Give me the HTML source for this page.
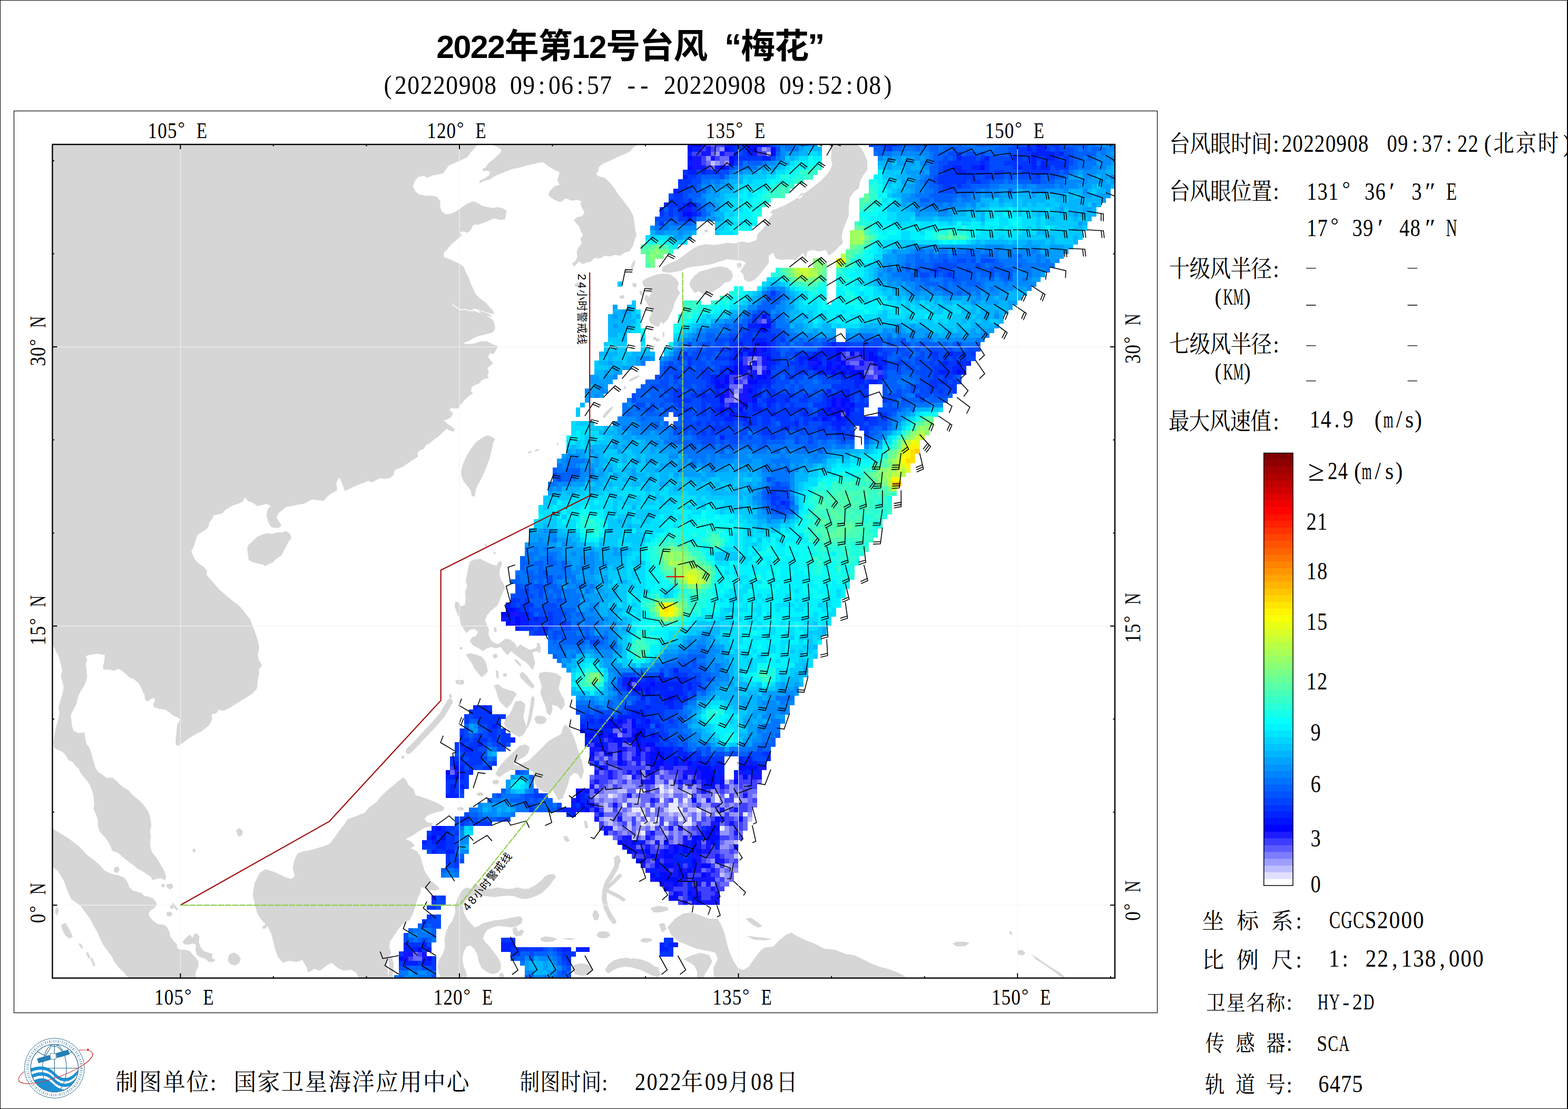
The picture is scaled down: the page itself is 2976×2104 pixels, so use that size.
<!DOCTYPE html>
<html><head><meta charset="utf-8"><title>typhoon</title>
<style>html,body{margin:0;padding:0;background:#fff}body{width:2976px;height:2104px;overflow:hidden;position:relative;font-family:"Liberation Serif",serif}
svg{position:absolute;left:0;top:0;display:block}
#bd{position:absolute;left:0;top:0;width:2976px;height:2104px;box-sizing:border-box;border:1px solid #000;border-right-width:2px;border-top-width:1.5px;pointer-events:none}
</style></head><body>
<svg width="2976" height="2104" viewBox="0 0 2976 2104">
<clipPath id="mc"><rect x="99.5" y="274.0" width="2016.5" height="1581.6"/></clipPath>
<g clip-path="url(#mc)">
<path d="M1209.7,265.4L1209.7,274.9L1201.6,280.3L1196.2,287.1L1185.3,292.5L1171.8,298L1158.2,304.7L1144.6,310.2L1136.5,316.9L1135.2,325.1L1131.1,330.5L1136.5,334.6L1147.4,337.3L1158.2,346.8L1166.3,357.6L1173.1,368.5L1179.9,376.6L1188,387.4L1196.2,398.3L1201.6,409.1L1204.3,422.7L1205.6,436.2L1208.4,445.7L1204.3,455.2L1201.6,466.1L1194.8,476.9L1185.3,479.6L1177.2,485L1166.3,483.7L1158.2,486.4L1147.4,485L1139.2,490.5L1128.4,489.1L1121.6,495.9L1112.1,498.6L1106.7,501.3L1098.6,495.9L1093.1,502.7L1087.7,501.3L1091.8,495.9L1095.8,487.7L1094.5,476.9L1098.6,468.8L1104,460.6L1101.3,452.5L1106.7,447.1L1102.6,438.9L1099.9,430.8L1093.1,422.7L1089.1,417.3L1095.8,411.8L1104,410.5L1109.4,403.7L1105.3,395.6L1101.3,387.4L1104,382L1095.8,379.3L1085,380.7L1074.2,376.6L1063.3,383.4L1052.5,379.3L1044.3,373.9L1040.3,368.5L1044.3,361.7L1052.5,353.5L1062,350.8L1057.9,341.3L1062,326.4L1052.5,322.4L1038.9,314.2L1030.8,307.4L1022.6,308.8L1011.8,311.5L998.2,314.2L984.7,318.3L971.1,321L957.6,326.4L944,331.8L935.9,335.9L930.5,340L916.9,344L910.1,348.1L910.1,342.7L919.6,338.6L927.7,333.2L930.5,326.4L925,323.7L916.9,325.1L915.5,321L922.3,316.9L926.4,310.2L933.2,304.7L941.3,298L949.4,289.8L952.1,284.4L944,279L935.9,274.9L933.2,265.4L906.1,265.4L906.1,274.9L895.2,287.1L887.1,298L873.5,304.7L860,310.2L851.8,314.2L846.4,321L841,329.1L819.3,333.2L811.2,337.3L804.4,333.2L793.5,335.9L786.8,344L784,353.5L788.1,363L794.9,368.5L808.5,371.2L820.7,371.2L830.1,373.9L835.6,382L835.6,392.9L838.3,401L846.4,406.4L857.3,405.1L865.4,401L873.5,395.6L887.1,386.1L897.9,382L906.1,384.7L914.2,390.1L925,392.9L935.9,394.2L946.7,392.9L954.9,395.6L961.6,399.6L960.3,406.4L958.9,415.9L949.4,417.3L938.6,414.5L930.5,417.3L922.3,421.3L914.2,424L906.1,426.7L900.6,425.4L896.6,429.5L893.9,436.2L887.1,441.7L878.9,438.9L873.5,441.1L876.2,447.1L868.1,453.9L860,460.6L854.5,466.1L847.8,474.2L842.3,479.6L842.3,487.7L850.5,490.5L862.7,495.9L873.5,501.3L880.3,506.7L884.4,517.6L889.8,527.1L893.9,539.3L899.3,550.1L902,556.9L911.5,566.4L922.3,574.5L930.5,584L935.9,589.4L938,596.2L930.5,594.8L916.9,590.2L903.3,586.2L895.2,585.4L906.1,592.1L919.6,597.6L930.5,603L936.4,608.4L938.6,615.2L939.9,623.3L935.9,630.1L927.7,632.8L916.9,635.5L906.1,638.2L902,640.1L889.8,646.8L878.9,650.8L887.1,653L900.6,651.4L914.2,647.3L925,648.1L935.9,653.6L945.4,656.8L941.3,664.4L935.9,672.5L930.5,669.8L926.4,676.6L930.5,683.4L935.9,688.8L930.5,694.2L925,698.3L927.7,705.1L925,711.8L927.7,717.3L921,718.6L914.2,721.3L908.8,728.1L900.6,730.8L895.2,734.9L893.9,741.7L897.9,747.1L889.8,751.2L884.4,756.6L878.9,762L873.5,768.8L870.8,774.2L862.7,775.6L857.3,772.9L853.2,778.3L860,783.7L855.9,791.8L846.4,797.3L841,795.9L849.1,804L857.3,809.5L862.7,813.5L861.3,818.9L854.5,817.6L847.8,813.5L842.3,818.9L835.6,824.4L830.1,829.8L823.4,833.9L816.6,840.6L808.5,844.7L804.4,851.5L797.6,854.2L792.2,859.6L793.5,866.4L786.8,870.5L778.6,875.9L770.5,881.3L765.1,885.4L758.3,888.1L748.8,892.1L747.4,900.3L740.7,907.1L729.8,908.4L721.7,907.1L713.6,911.1L705.4,915.2L700,912.5L699,912.5L684.6,918L668.4,924.7L654.8,931.5L650.7,920.7L644,905.8L638.5,915.2L639.9,930.2L627.7,936.9L619.6,943.7L614.1,950.5L603.3,949.1L592.4,947.8L584.3,951.8L576.2,955.9L565.3,957.3L554.5,960L543.6,961.3L535.5,968.1L528.7,973.5L524.7,981.7L530.1,989.8L534.2,996.6L530.1,1000.7L522,1002L513.8,999.3L508.4,988.5L505.7,976.2L508.4,965.4L513.8,960L505.7,955.9L497.6,958.6L488.1,960L478.6,953.2L470.4,950.5L465,943.7L461,951.8L451.5,955.9L443.3,958.6L435.2,962.7L427.1,968.1L423,973.5L413.5,976.2L405.4,977.6L402.7,984.4L397.2,991.2L395.9,999.3L390.5,1004.7L382.3,1010.1L375.5,1014.2L371.5,1023.7L368.8,1034.5L363.3,1045.4L366.1,1053.5L370.1,1061.7L378.3,1069.8L386.4,1075.2L393.2,1083.3L391.8,1090.1L399.9,1099.6L408.1,1109.1L416.2,1118.6L424.4,1125.4L433.8,1133.5L442,1140.3L451.5,1147.1L459.6,1155.2L466.4,1164.7L474.5,1174.2L478.6,1185L482.6,1195.9L486.7,1206.7L490.8,1220.3L492.1,1229.8L489.4,1240.6L490.8,1251.4L497.6,1262.3L490.8,1270.4L492.1,1278.6L489.4,1289.4L488.1,1303L484,1313.8L489.4,1300L486.7,1308.1L478.6,1316.3L467.7,1323L456.9,1329.8L446,1336.6L435.2,1343.4L424.4,1348.8L414.9,1346.6L410.8,1352.9L401.3,1355.6L402.7,1365.1L397.2,1375.9L383.7,1386.8L370.1,1393.5L359.3,1400.3L348.4,1408.5L337.6,1415.2L333.5,1412.5L333.5,1403L334.9,1389.5L336.2,1375.9L341.7,1365.1L337.6,1361L329.5,1358.3L321.3,1351.5L313.2,1346.1L302.3,1344.7L292.9,1342L290.1,1336.6L294.2,1329.8L292.9,1324.4L286.1,1325.8L280.7,1331.2L275.2,1327.1L273.9,1316.3L269.8,1308.1L265.7,1300L273.9,1320L271.2,1311.1L267.1,1303L261.7,1294.8L253.5,1288L245.4,1285.3L238.6,1278.6L231.9,1273.1L225.1,1269.1L215.6,1272.6L207.5,1270.4L196.6,1270.4L195.2,1265L198,1254.2L198.8,1242.5L185.8,1240.6L172.2,1242L162.7,1244.7L165.4,1252.8L162.7,1259.6L164.1,1270.4L165.4,1284L162.7,1294.8L158.6,1303L153.2,1313.8L157.3,1300L153.2,1310.8L147.8,1323L145.1,1335.2L139.7,1346.1L134.2,1356.9L135.6,1367.8L137,1378.6L139.7,1386.8L149.2,1390.8L160,1389.5L161.9,1400.3L164.1,1411.2L170,1419.3L173.6,1430.1L177.6,1443.7L180.3,1454.5L185.8,1464L193.9,1469.5L203.4,1476.2L212.9,1474.9L219.7,1480.3L226.4,1487.1L234.6,1493.9L244.1,1499.3L250.8,1507.4L259,1514.2L268.5,1522.3L275.2,1530.5L280.7,1538.6L284.7,1548.1L286.1,1557.6L287.4,1567.1L284.7,1576.5L286.1,1587.4L284.7,1598.2L286.1,1609.1L288.8,1617.2L295.6,1625.4L301,1633.5L306.4,1643L311.8,1652.5L315.4,1663.3L313.2,1670.1L305.1,1666L296.9,1667.4L288.8,1670.1L286.1,1663.3L277.9,1657.9L269.8,1652.5L261.7,1648.4L253.5,1641.6L245.4,1636.2L237.3,1629.4L229.1,1622.6L222.4,1617.2L212.9,1614.5L210.2,1606.4L206.1,1598.2L200.7,1590.1L193.9,1583.3L188.5,1576.5L185.8,1567.1L185.8,1554.9L181.7,1544L177.6,1535.9L179,1525L177.6,1511.5L174.9,1500.6L170.8,1489.8L165.4,1481.7L158.6,1473.5L153.2,1466.7L149.2,1458.6L142.4,1451.8L137,1445.1L130.2,1442.3L124.8,1432.9L118,1426.1L111.2,1423.4L103.1,1419.3L101.2,1408.5L103.1,1394.9L105.8,1381.3L109.8,1367.8L112.6,1354.2L111.2,1340.7L115.3,1327.1L119.3,1313.6L120.7,1320L119.3,1313.8L120.7,1303L118,1292.1L115.3,1281.3L118,1273.1L116.6,1265L113.9,1254.2L111.2,1244.7L107.1,1237.9L103.1,1229.8L99,1220.3L82.7,1220.3L60,200ZM916.9,829.8L925,825.7L933.2,828.4L939.9,833L935.9,839.3L934.5,848.8L931.8,859.6L929.1,870.5L925,881.3L919.6,894.9L914.2,907.1L908.8,916.5L903.3,927.4L902,938.2L899.3,942.3L895.2,940.9L893.9,931.5L887.1,922L880.3,913.8L876.2,904.3L874.9,894.9L877.6,884L881.7,873.2L887.1,862.3L893.9,851.5L902,840.6L910.1,833.9ZM488.1,1018.3L497.6,1014.2L505.7,1011.5L516.5,1012.9L526,1010.1L535.5,1010.1L543.6,1007.4L550.4,1012.9L553.1,1021L547.7,1027.8L543.6,1035.9L538.2,1045.4L534.2,1053.5L524.7,1060.3L517.9,1067.1L508.4,1071.1L504.3,1073.9L497.6,1071.1L486.7,1068.4L477.2,1065.7L471.8,1061.7L470.4,1050.8L469.1,1040L471.8,1033.2L478.6,1027.8ZM1193.4,721.3L1201.6,715.9L1212.4,711.8L1213.8,714.6L1204.3,720L1196.2,724ZM1143.3,790.5L1150.1,781L1160.9,771.5L1164.2,772.9L1155.5,783.7L1147.4,793.2ZM1184,733.5L1188,732.2L1187.5,737.6L1184.2,738.1ZM1002.3,856.9L1009.1,855.5L1007.7,859.6L1003.1,860.2ZM1014.5,854.2L1022.6,850.9L1021.3,855.5L1015.9,856.9ZM1056.5,840.6L1060.6,841.2L1060.1,844.7L1056.8,843.9ZM1242.3,642.7L1250.4,641.4L1253.1,646.8L1245,648.1ZM920.2,1032.6L924.5,1033.1L923.9,1036.9L920.4,1036.4ZM936.4,1047.2L940.8,1047.8L939.7,1052.1L936.7,1051ZM1090.4,539.3L1099.9,535.2L1109.4,536.5L1108,542L1098.6,544.7L1091.8,544.1ZM1086.4,498.6L1091.8,495.9L1093.1,502.7L1087.7,505.4ZM1197.5,505.4L1201.6,495.9L1205.6,493.2L1204.8,501.3L1201,510.8L1197.8,512.1ZM1258.5,518.9L1272,520.3L1282.9,528.4L1288.3,536.5L1285.6,547.4L1291,555.5L1285.6,563.7L1280.1,574.5L1277.4,585.4L1272,596.2L1266.6,607L1258.5,615.2L1254.4,609.8L1250.3,620.6L1242.2,617.9L1234,612.5L1231.3,604.3L1236.8,596.2L1234,585.4L1228.6,577.2L1223.2,566.4L1225.9,558.2L1231.3,563.7L1236.8,555.5L1228.6,547.4L1220.5,542L1219.1,533.8L1225.9,528.4L1236.8,524.3L1247.6,520.3ZM1175.8,561.5L1183.9,559.6L1185.2,565.8L1177.1,566.9ZM1200.2,536.5L1208.3,537.9L1207.5,544.7L1201,544.1ZM1213.7,551.5L1220.5,552.8L1219.1,560.9L1214.5,559.6ZM1239.5,639.6L1244.9,639L1245.4,644.5L1240,645ZM1257.9,630.1L1261.2,630.9L1260.6,640.1L1257.9,639ZM1310,533.8L1318.1,523L1328.9,514.9L1339.8,512.1L1353.3,508.1L1366.9,505.4L1380.5,508.1L1388.6,514.9L1391.3,524.3L1385.9,533.8L1375,536.5L1366.9,544.7L1356.1,551.5L1345.2,556.9L1334.4,558.2L1326.2,552.8L1318.1,555.5L1312.7,547.4L1308.6,540.6ZM1398.1,499.9L1406.2,498L1407.6,505.4L1400.8,510ZM1573,265.4L1573,274.9L1578.4,287.1L1577,300.7L1579.7,311.5L1575.7,322.4L1567.5,333.2L1556.7,344L1543.1,354.9L1529.6,364.4L1516,373.9L1502.5,382L1488.9,390.1L1482.1,392L1475.4,395.6L1465.9,398.8L1461.8,403.7L1467.2,406.4L1461.8,411.8L1456.4,422.7L1448.2,433.5L1437.4,444.4L1436,455.2L1421.1,460.6L1407.6,457.9L1394,462L1380.5,460.6L1366.9,463.3L1353.3,464.7L1339.8,463.3L1326.2,466.1L1315.4,471.5L1304.5,479.6L1293.7,487.7L1280.1,495.9L1266.6,501.3L1257.1,506.7L1255.7,514.9L1266.6,517.6L1280.1,516.2L1293.7,513.5L1304.5,508.1L1318.1,505.4L1334.4,504L1350.6,501.3L1366.9,495.9L1380.5,491.8L1394,493.2L1407.6,494.5L1415.7,498.6L1410.3,506.7L1404.9,514.9L1410.3,520.3L1413,531.1L1421.1,535.2L1432,531.1L1442.8,520.3L1450.9,509.4L1459.1,498.6L1459.1,485L1467.2,479.6L1472.6,490.5L1483.5,493.2L1497,491.8L1510.6,493.2L1516,487.7L1524.2,479.6L1529.6,490.5L1532.3,476.9L1543.1,474.2L1554,476.9L1567.5,474.2L1573,485L1583.8,476.9L1594.6,466.1L1600.1,460.6L1597.4,449.8L1600.1,436.2L1605.5,422.7L1610.9,409.1L1610.9,390.1L1613.6,373.9L1621.8,363L1629.9,357.6L1632.6,344L1638,333.2L1646.2,322.4L1646.2,306.1L1640.7,292.5L1635.3,281.7L1627.2,274.9L1627.2,265.4ZM1514.7,373.9L1520.1,367.1L1525.5,365.7L1522.8,372.5L1517.4,377.9ZM1337.1,435.7L1343,434.9L1343.6,440.3L1337.6,441.1ZM891.7,1065.3L900.9,1061.4L911.3,1060.1L921.8,1065.3L932.2,1070.6L942.7,1073.2L945.3,1066.6L950.5,1064L953.1,1070.6L949.2,1078.4L947.9,1088.9L950.5,1099.3L955.7,1107.1L958.4,1115L954.4,1124.1L950.5,1133.3L947.9,1141.1L944,1149L937.5,1154.2L930.9,1159.4L924.4,1167.2L920.5,1177.7L924.4,1185.5L928.3,1194.7L927,1203.8L930.9,1213L937.5,1219.5L945.3,1222.1L953.1,1216.9L958.4,1211.7L967.5,1213L976.7,1219.5L981.9,1228.7L987.1,1222.1L994.9,1227.4L1005.4,1232.6L1015.9,1230L1023.7,1222.1L1026.3,1230L1025,1239.1L1018.5,1235.2L1010.6,1237.8L1013.2,1248.3L1015.9,1258.7L1010.6,1271.8L1005.4,1263.9L997.6,1256.1L989.7,1250.9L979.3,1243L970.1,1235.2L963.6,1243L955.7,1235.2L950.5,1227.4L940.1,1230L932.2,1227.4L924.4,1230L916.6,1235.2L908.7,1230L898.3,1224.7L891.7,1216.9L895.6,1209.1L903.5,1206.4L907.4,1198.6L900.9,1193.4L891.7,1194.7L885.2,1201.2L880,1193.4L874.7,1185.5L872.1,1172.5L866.9,1162L863,1151.6L864.3,1141.1L869.5,1142.4L874.7,1150.3L882.6,1147.6L883.9,1135.9L882.6,1122.8L886.5,1112.4L883.9,1101.9L886.5,1088.9L889.1,1075.8ZM883.9,1241.7L893,1239.1L903.5,1241.7L913.9,1245.6L920.5,1253.5L924.4,1263.9L925.7,1274.4L919.2,1280.9L913.9,1284.8L907.4,1277L900.9,1269.2L895.6,1258.7L889.1,1249.6ZM935.4,1241.7L942.2,1239.9L944.8,1245.6L940.1,1249.6L935.9,1247.7ZM985.8,1278.3L992.3,1274.4L1000.2,1282.2L1008,1292.7L1014.5,1300.5L1011.9,1307.1L1002.8,1300.5L994.9,1292.7L988.4,1286.1ZM1023.7,1277L1034.1,1274.4L1047.2,1275.7L1057.7,1278.3L1065.5,1284.8L1062.9,1295.3L1060.3,1305.7L1064.2,1316.2L1070.7,1326.7L1072,1337.1L1065.5,1347.6L1057.7,1339.7L1047.2,1337.1L1036.8,1330.1L1034.1,1318.8L1028.9,1308.4L1026.3,1295.3L1022.4,1284.8ZM940.6,1271.8L945.3,1273.1L946.9,1286.1L942.7,1287.5ZM954.4,1278.3L961,1277L962.3,1282.8L955.7,1284.3ZM975.3,1252.2L979.8,1250.9L989.7,1261.3L987.1,1264.5ZM1018.5,1220.8L1024.2,1219.5L1026.3,1230L1021.1,1233.9ZM936.9,1190.8L942.2,1190.2L942.7,1198.6L938,1199.1ZM872.1,1227.9L877.9,1227.4L877.4,1232.1L872.6,1232.6ZM937.4,1300.8L945.5,1298.1L953.7,1304.9L964.5,1309L975.4,1311.7L980.8,1317.1L975.4,1325.2L969.9,1336.1L961.8,1344.2L956.4,1338.8L948.2,1330.7L944.2,1319.8L941.5,1310.3ZM978.1,1330.7L988.9,1329.3L997,1336.1L995.7,1346.9L993,1360.5L997,1371.3L999.8,1382.2L994.3,1393L986.2,1398.5L975.4,1393L964.5,1384.9L956.4,1374L959.1,1363.2L967.2,1355.1L972.6,1344.2ZM1010.6,1319.8L1014.7,1325.2L1013.3,1338.8L1010.6,1352.4L1007.9,1365.9L1002.5,1379.5L998.4,1382.2L1001.1,1368.6L1003.8,1355.1L1006.5,1338.8L1007.9,1325.2ZM1013.3,1363.2L1018.7,1358.3L1028.2,1357.8L1037.2,1362.7L1036.4,1370L1028.2,1374L1018.7,1372.7ZM1026.9,1306.3L1035,1309L1043.1,1319.8L1047.2,1333.4L1048.6,1346.9L1044.5,1357.8L1037.7,1352.4L1035,1338.8L1029.6,1325.2L1025.5,1315.8ZM852,1317.1L856.6,1316.6L857.4,1324.7L852.8,1325.2ZM864.2,1290L880.5,1290L881,1297.6L872.3,1299.5L865.5,1296.8ZM761.7,1434.2L767.1,1433.7L766.6,1439.7L762.2,1439.1ZM940.1,1468.9L945.5,1458.1L953.7,1447.3L961.8,1439.1L969.9,1431L978.1,1422.9L986.2,1414.7L997,1412L1005.2,1417.4L1002.5,1428.3L994.3,1436.4L983.5,1441.8L975.4,1450L983.5,1452.7L994.3,1447.3L1005.2,1441.8L1016,1431L1029.6,1417.4L1040.4,1406.6L1054,1398.5L1064.8,1393L1068.9,1379.5L1073,1374L1081.1,1382.2L1089.2,1398.5L1094.6,1414.7L1100.1,1431L1105.5,1447.3L1108.2,1463.5L1102.8,1479.8L1097.4,1468.9L1089.2,1466.2L1081.1,1474.4L1078.4,1487.9L1073,1501.5L1067.5,1515L1059.4,1517.7L1054,1506.9L1048.6,1498.8L1040.4,1504.2L1029.6,1501.5L1018.7,1493.3L1013.3,1479.8L1012,1463.5L1002.5,1460.8L986.2,1462.2L969.9,1460.8L959.1,1466.2L948.2,1474.4ZM934.7,1481.1L944.2,1479.2L948.2,1483.9L941.5,1488.5L935.2,1486.6ZM903.5,1505.5L911.6,1502.8L918.4,1505.5L917.1,1509.6L907.6,1510.2ZM866.9,1532.7L875,1530.8L880.5,1533.5L879.1,1537.3L869.6,1537.3ZM1069.7,1585.5L1077,1586.9L1081.1,1595L1075.7,1597.7L1070.8,1593.1ZM1108.2,1557.1L1114.2,1558.4L1116.3,1570.6L1110.9,1572ZM1165.1,1626.2L1174.6,1624.8L1178.7,1634.3L1173.3,1642.5L1166.5,1638.4ZM484.4,1719.4L479.6,1697.2L483.3,1675L492.6,1656.5L503.7,1649.1L522.2,1654.7L540.7,1663.9L553.6,1667.6L559.2,1662.1L555.5,1645.4L559.2,1630.6L564.7,1619.5L574,1615.8L592.5,1612.1L611,1606.5L625.8,1601L636.9,1586.2L644.3,1575.1L653.6,1564L659.1,1554.7L674,1549.1L692.5,1541.7L699.9,1532.5L707.3,1526.9L714.7,1521.4L722.1,1512.1L733.2,1501L744.3,1491.8L755.4,1482.5L764.7,1475.1L770.2,1478.8L775.8,1489.9L785,1497.3L788.7,1508.4L799.8,1512.1L810.9,1515.8L825.7,1521.4L836.8,1526.9L843.5,1532.5L840.5,1538L825.7,1541.7L814.6,1545.4L805.4,1552.8L810.9,1560.3L822,1562.1L818.3,1567.7L803.5,1571.4L792.4,1578.8L781.3,1586.2L770.2,1591.7L781.3,1597.3L786.9,1604.7L779.5,1609.1L792.4,1615.8L798,1625L801.7,1638L805.4,1651L810.9,1660.2L818.3,1671.3L829.4,1680.6L835,1686.1L825.7,1689.8L810.9,1688L799.8,1682.4L798,1693.5L792.4,1704.6L788.7,1719.4L783.2,1734.3L777.6,1745.4L764.7,1752.8L755.4,1763.9L748,1775L740.6,1786.1L738.7,1797.2L742.4,1806.4L737.6,1815.7L735,1830.5L736.1,1845.3L738.7,1855.7L746.1,1855.7L748,1867.5L681.4,1867.5L681.4,1855.7L675.8,1845.3L666.6,1839.8L651.7,1841.6L640.6,1836.1L629.5,1826.8L622.1,1830.5L607.3,1841.6L596.2,1837.9L585.1,1845.3L581.4,1834.2L574,1821.2L562.9,1825L548.1,1823.1L537,1826.8L527.7,1815.7L522.2,1800.9L518.5,1786.1L514.8,1771.3L507.4,1756.5L496.3,1745.4L488.9,1734.3ZM88.5,1571.8L99,1571.8L114.7,1580.9L133,1592.7L151.3,1607L163,1620.1L174.8,1629.3L187.9,1639.7L198.3,1651.5L211.4,1658L224.4,1660.6L234.9,1664.5L241.4,1672.4L245.3,1682.8L251.9,1689.4L261,1692L268.9,1694.6L274.1,1699.8L281.9,1701.1L291.1,1705L296.3,1711.6L297.6,1717.3L292.4,1723.3L285.8,1727.2L281.9,1732.5L284.5,1740.3L292.4,1748.2L300.2,1753.4L308.1,1753.4L315.9,1757.3L321.1,1766.4L323.7,1776.9L329,1784.7L335.5,1791.3L336.8,1799.1L342,1801.7L349.9,1801.7L360.3,1804.3L365.6,1810.9L372.1,1817.4L377.3,1825.2L376,1834.4L372.1,1842.2L370.8,1850.1L373.4,1860.5L244,1860.5L244,1855.6L234.9,1844.8L224.4,1834.4L216.6,1823.9L211.4,1813.5L203.5,1803L195.7,1792.6L190.5,1782.1L185.2,1769.1L177.4,1756L170.9,1742.9L163,1732.5L155.2,1722L151.3,1717.3L143.4,1711.6L135.6,1706.3L130.4,1695.9L125.1,1682.8L121.2,1669.8L117.3,1659.3L109.5,1651.5L101.6,1646.2L88.5,1643.6ZM88.2,1572.5L99,1573.8L107.1,1577.9L115.3,1584.7L124.8,1592.8L134.2,1599.6L145.1,1607.7L154.6,1614.5L162.7,1622.6L170.8,1629.4L180.3,1636.2L189.8,1643L195.2,1649.8L202,1657.9L212.9,1666L218.3,1679.6L188.5,1706.7L126.1,1679.6L109.8,1652.5L99,1644.3L88.2,1644.3ZM216.9,1645.7L224.3,1643.8L227,1651.1L222.4,1656.5L216.1,1653.8ZM116,1754.7L123.8,1750.8L129.1,1758.6L134.3,1769.1L138.2,1776.9L131.7,1780.8L123.8,1774.3L118.6,1765.1ZM148.7,1790L152.6,1789.4L157.8,1797.8L154.4,1799.9ZM163,1807L167.5,1807L171.6,1817.4L167.5,1818.2ZM170.9,1817.4L175.3,1817.4L181.3,1831.8L177.4,1833.1ZM104.2,1729.9L108.1,1719.4L111.5,1727.2L108.1,1737.7ZM346,1787.4L353.8,1778.2L360.3,1773L365.6,1779.5L368.2,1773L373.4,1770.4L378.6,1776.9L377.3,1787.4L381.2,1797.8L386.5,1804.3L394.3,1807L403.4,1809.6L402.1,1817.4L408.7,1821.3L404.7,1825.2L396.9,1825.2L389.1,1818.7L379.9,1816.1L373.4,1810.9L370.8,1801.7L372.1,1792.6L365.6,1790L357.7,1792.6L349.9,1791.3ZM434.8,1810.9L443.9,1807L453.1,1812.2L457,1820L453.1,1827.9L446.6,1831.8L437.4,1829.2L432.2,1822.6ZM315.9,1731.2L322.4,1729.3L327.7,1733.8L323.7,1739L317.2,1737.7ZM322.4,1719.4L329,1712.9L338.1,1724.6L335.5,1727.2L330.3,1722L324.3,1725.2ZM305.4,1678.9L310.7,1676.3L313.3,1681.5L308.1,1684.1ZM315.9,1677.6L326.4,1676.3L329,1682.8L323.7,1688L317.2,1684.1ZM447.9,1575.7L454.4,1570.5L460.9,1577L459.6,1584.8L453.1,1587.4L450.5,1582.2ZM365.6,1611L370.3,1610.2L370.8,1616.2L366.6,1617.5ZM497.5,1758.6L502.7,1753.9L508,1754.7L505.4,1760.7L499.3,1762.5ZM866.9,1709.8L870.8,1699.3L877.4,1688.9L885.2,1683.6L894.3,1686.2L900.9,1675.8L908.7,1681L919.2,1684.9L932.2,1686.2L945.3,1683.6L958.4,1686.2L971.4,1686.2L981.9,1683.6L992.3,1686.2L1002.8,1686.2L1013.2,1681L1021.1,1675.8L1028.9,1669.3L1034.1,1662.7L1042,1658.8L1052.4,1658.8L1055.1,1664L1049.8,1670.6L1044.6,1678.4L1036.8,1686.2L1028.9,1694.1L1018.5,1699.3L1008,1703.2L997.6,1705.8L987.1,1704.5L976.7,1700.6L963.6,1699.3L950.5,1700.6L937.5,1701.9L924.4,1700.6L911.3,1699.3L900.9,1698L890.4,1701.9L882.6,1709.8L878.7,1720.2L880,1730.7L885.2,1741.1L893,1751.6L900.9,1759.4L908.7,1756.8L916.6,1751.6L927,1749L937.5,1746.3L950.5,1745L963.6,1742.4L976.7,1739.8L987.1,1738.5L992.3,1743.7L989.7,1751.6L981.9,1756.8L971.4,1759.4L958.4,1758.1L945.3,1756.8L934.8,1759.4L924.4,1764.6L919.2,1772.5L916.6,1780.3L921.8,1788.2L929.6,1796L937.5,1806.4L945.3,1816.9L950.5,1827.4L950.5,1837.8L945.3,1845.6L934.8,1848.3L924.4,1844.3L913.9,1836.5L908.7,1824.7L906.1,1811.7L900.9,1801.2L893,1793.4L885.2,1796L880,1806.4L877.4,1819.5L880,1832.6L885.2,1845.6L887.8,1861.3L838.2,1861.3L832.9,1845.6L830.3,1835.2L832.9,1822.1L840.8,1809.1L844.7,1796L843.4,1782.9L846,1769.9L851.2,1756.8L859.1,1746.3L864.3,1730.7L863,1717.6ZM972.7,1762L979.3,1758.1L983.2,1767.2L989.7,1763.3L994.9,1767.2L989.7,1775.1L979.3,1776.4L974,1771.2ZM1025,1780.3L1034.1,1776.4L1047.2,1777.7L1057.7,1781.6L1049.8,1786.1L1036.8,1787.6L1027.6,1785.5ZM1065.5,1780.3L1081.2,1779.8L1094.3,1781.6L1081.2,1783.4ZM1083.8,1839.1L1089,1831.3L1099.5,1827.4L1112.5,1828.7L1123,1833.9L1125.6,1841.7L1117.8,1849.6L1104.7,1851.4L1091.6,1848.3ZM1147.8,1840.4L1154.4,1830L1164.8,1822.1L1177.9,1818.2L1190.9,1816.9L1204,1820.8L1217.1,1826L1230.1,1830L1250,1835.2L1250,1845.6L1238,1844.3L1224.9,1841.7L1211.8,1839.1L1198.8,1835.2L1185.7,1833.9L1172.6,1836.5L1162.2,1841.7L1154.4,1847ZM1132.1,1773L1137.4,1767.8L1146.5,1766.5L1155.7,1769.3L1158.3,1774.6L1151.7,1779.8L1141.3,1780.3L1134.8,1777.7ZM1124.3,1735.9L1128.2,1726.7L1133.4,1728L1137.4,1737.2L1134.8,1745L1128.2,1746.3ZM947.9,1847L954.4,1845.6L958.4,1857.4L950.5,1861.3L947.4,1857.4ZM736.2,1816.9L744.1,1814.3L747.2,1830L745.4,1855.6L737.5,1855.6L738.9,1835.2ZM1266.8,1759.2L1281,1743L1297.2,1732.9L1313.4,1730.9L1329.6,1737L1345.8,1743L1362,1743L1368.1,1753.2L1374.2,1767.3L1378.2,1783.5L1382.3,1799.7L1390.4,1820L1400.5,1836.2L1410.6,1840.2L1420.8,1834.2L1430.9,1820L1443,1803.8L1451.1,1797.7L1467.3,1795.7L1479.5,1783.5L1491.6,1773.4L1501.8,1769.4L1511.9,1775.4L1528.1,1783.5L1544.3,1789.6L1564.5,1799.7L1584.8,1801.8L1605.1,1809.9L1621.3,1811.9L1637.5,1820L1653.7,1828.1L1669.9,1834.2L1686.1,1838.2L1702.3,1844.3L1714.4,1850.4L1722.5,1855.6L1726.6,1864.5L1355.9,1864.5L1353.9,1836.2L1362,1820L1358,1807.8L1341.8,1803.8L1321.5,1799.7L1301.3,1791.6L1287.1,1785.6L1274.9,1775.4ZM1297.2,1820L1313.4,1811.9L1329.6,1807.8L1345.8,1811.9L1351.9,1824L1345.8,1836.2L1337.7,1848.3L1333.7,1864.5L1321.5,1864.5L1323.5,1844.3L1317.5,1832.1L1305.3,1824ZM1200,1818L1216.2,1820L1232.4,1826.1L1246.6,1836.2L1254.7,1848.3L1248.6,1854.4L1232.4,1848.3L1216.2,1840.2L1200,1834.2ZM1215,1783.5L1222.3,1779.5L1234.4,1780.3L1238.5,1784.3L1228.4,1788.4L1218.2,1787.6ZM1234.4,1722.8L1248.6,1718.7L1266.8,1720.8L1268.9,1726.8L1252.7,1730.9L1240.5,1730.9ZM1250.6,1753.2L1260.8,1751.1L1264.8,1763.3L1256.7,1769.4ZM1414.7,1743L1424.8,1741L1437,1749.1L1447.1,1757.2L1439,1760L1426.8,1753.2ZM1416.7,1775.4L1434.9,1777.5L1453.2,1779.5L1465.3,1781.5L1451.1,1784.3L1430.9,1782.7ZM1807.6,1790L1815.7,1786.8L1831.9,1786.8L1840,1789.2L1831.9,1794.9L1815.7,1795.7ZM1931.1,1803.8L1939.2,1801.8L1946.1,1807.8L1941.2,1812.7L1932.3,1811.1ZM1957.4,1809.9L1969.6,1818L1989.9,1832.1L2010.1,1844.3L2022.3,1854.4L2016.2,1855.6L2002,1844.3L1981.8,1830.1L1965.5,1820ZM1914.9,1766.5L1920.2,1768.1L1921.8,1773.8L1916.9,1772.2Z" fill="#d6d6d6" fill-rule="nonzero"/>
<path d="M775.3,1425L791,1409.3L807.3,1391.7L823.5,1374.6L839.8,1355.6L853.9,1331.2" fill="none" stroke="#d6d6d6" stroke-width="11" stroke-linecap="round" stroke-linejoin="round"/>
<path d="M1172.1,1627.4L1170,1644.4L1162.2,1658.8L1153,1673.2L1147.8,1688.9L1146.5,1704.5L1150.4,1722.8L1158.3,1738.5L1165.3,1748.4" fill="none" stroke="#d6d6d6" stroke-width="9" stroke-linecap="round" stroke-linejoin="round"/>
<path d="M1153,1683.6L1162.2,1675.8L1172.6,1665.3L1176.6,1661.4" fill="none" stroke="#d6d6d6" stroke-width="7" stroke-linecap="round" stroke-linejoin="round"/>
<path d="M1153,1690.2L1163.5,1695.4L1174,1700.6L1183.1,1706.6" fill="none" stroke="#d6d6d6" stroke-width="7" stroke-linecap="round" stroke-linejoin="round"/>
<path d="M937.2,602.2L925,597.6L911.5,592.1L900.6,589.4L889.8,589.4L881.7,586.7L873.5,588.1L865.4,582.6L858.6,577.2" fill="none" stroke="#fff" stroke-width="1.6"/>
<path d="M908.8,588.9L925,594.3L935.3,601.1L922.3,598.9L911.5,593.5Z" fill="#d6d6d6"/>
<g transform="translate(660.16,203.51) scale(8.82675)" shape-rendering="crispEdges" fill="none" stroke-width="1.04">
<path stroke="#1060ff" d="M10 187h9M38 187h10M11 186h8M38 186h10M11 185h8M38 185h10M11 184h8M37 184h11M11 183h8M35 183h13M11 182h6M35 182h14M67 182h3M12 181h6M33 181h15M49 181h3M67 181h3M12 180h6M33 180h3M67 180h4M12 179h7M33 179h3M68 179h2M12 178h7M13 177h6M15 176h5M16 175h4M17 174h3M17 172h3M18 171h3M71 171h9M18 170h3M69 170h11M69 169h11M68 168h13M67 167h15M65 166h18M20 165h4M65 165h18M20 164h4M64 164h20M21 163h3M63 163h21M21 162h4M62 162h22M21 161h4M61 161h23M17 160h9M60 160h24M16 159h10M59 159h25M16 158h10M58 158h26M17 157h9M57 157h28M17 156h10M55 156h30M18 155h9M54 155h32M23 154h8M54 154h32M23 153h12M53 153h34M25 152h11M47 152h2M53 152h34M26 151h61M28 150h18M48 150h40M30 149h14M48 149h40M21 148h4M31 148h12M49 148h39M21 147h4M33 147h8M49 147h39M21 146h5M34 146h6M52 146h36M21 145h5M34 145h6M52 145h37M21 144h5M35 144h5M52 144h29M83 144h6M21 143h6M36 143h3M53 143h28M83 143h6M22 142h9M53 142h28M84 142h6M22 141h10M52 141h29M84 141h6M22 140h10M52 140h29M84 140h7M23 139h9M52 139h39M23 138h11M52 138h39M23 137h12M51 137h41M24 136h12M51 136h41M24 135h11M51 135h42M24 134h10M50 134h43M25 133h8M50 133h43M25 132h8M50 132h44M25 131h9M50 131h44M26 130h5M49 130h46M27 129h4M49 129h46M49 128h47M49 127h47M48 126h49M48 125h49M48 124h50M48 123h50M48 122h51M47 121h52M46 120h54M45 119h55M44 118h57M43 117h58M43 116h58M43 115h59M43 114h59M39 113h64M36 112h67M34 111h70M33 110h71M33 109h72M34 108h71M34 107h72M35 106h71M35 105h72M36 104h71M36 103h72M35 102h73M36 101h73M36 100h73M37 99h72M37 98h73M37 97h73M38 96h73M38 95h74M38 94h74M39 93h74M39 92h75M39 91h75M40 90h75M40 89h75M41 88h75M41 87h76M41 86h76M42 85h75M42 84h75M43 83h75M43 82h75M43 81h76M44 80h75M44 79h76M44 78h77M45 77h76M45 76h77M46 75h76M47 74h76M47 73h62M111 73h12M47 72h62M111 72h12M47 71h62M111 71h13M48 70h61M111 70h14M48 69h61M110 69h15M48 68h5M57 68h12M70 68h56M58 67h10M71 67h55M49 66h1M59 66h10M70 66h41M114 66h13M49 65h1M59 65h52M114 65h14M50 64h1M59 64h53M115 64h13M51 63h1M60 63h52M115 63h14M51 62h4M61 62h51M115 62h15M51 61h5M62 61h50M115 61h16M52 60h4M63 60h49M115 60h16M52 59h5M64 59h68M52 58h6M66 58h66M53 57h6M67 57h66M53 56h8M67 56h66M53 55h11M67 55h67M54 54h12M67 54h68M54 53h12M68 53h67M55 52h5M63 52h2M68 52h68M55 51h5M63 51h1M69 51h67M56 50h4M63 50h1M70 50h35M107 50h30M56 49h4M63 49h1M70 49h35M107 49h31M56 48h8M70 48h35M107 48h32M56 47h7M70 47h70M56 46h7M71 46h70M56 45h7M71 45h70M57 44h6M72 44h70M57 43h1M60 43h2M72 43h71M61 42h1M72 42h4M78 42h25M104 42h40M80 41h23M105 41h40M82 40h21M105 40h41M83 39h2M88 39h15M105 39h42M58 38h1M89 38h14M105 38h43M90 37h13M105 37h44M91 36h12M105 36h45M92 35h11M105 35h46M64 34h2M100 34h3M105 34h47M64 33h2M100 33h2M105 33h48M64 32h4M106 32h48M63 31h7M107 31h48M63 30h8M108 30h48M64 29h9M108 29h49M64 28h10M108 28h50M65 27h10M79 27h5M108 27h50M65 26h10M79 26h8M109 26h50M66 25h9M79 25h9M109 25h50M66 24h22M110 24h50M67 23h22M110 23h51M67 22h22M110 22h51M68 21h22M110 21h52M69 20h22M110 20h53M69 19h25M111 19h53M70 18h25M112 18h52M71 17h25M112 17h53M71 16h27M112 16h54M72 15h28M113 15h54M72 14h29M114 14h53M73 13h29M114 13h54M73 12h29M114 12h54M73 11h29M114 11h55M73 10h29M113 10h56M73 9h29M113 9h57M73 8h28M112 8h59M73 7h28M112 7h59M73 6h29M111 6h61"/>
<path stroke="#eaeaff" d="M63 156h1M80 155h1M63 154h1M65 154h1M68 154h1M72 154h2M64 153h1M66 153h1M71 153h1M73 153h1M63 152h1M85 152h1M61 151h2M65 151h1M69 151h3M75 151h1M59 150h1M69 150h2M67 149h1M70 149h1M72 149h1M79 149h1M83 149h1M56 148h1M73 148h1M79 148h1M81 148h1M62 147h2M67 147h1M69 147h1M67 146h1"/>
<path stroke="#bfbfff" d="M80 165h1M81 163h1M83 161h1M83 158h1M61 157h1M62 156h1M68 156h1M57 155h1M60 155h1M65 155h1M56 154h1M60 154h1M64 154h1M66 154h1M55 153h2M62 153h1M75 153h1M86 153h1M60 152h2M69 152h1M71 152h2M75 152h1M77 152h1M79 152h1M55 151h2M63 151h1M68 151h1M73 151h2M77 151h1M55 150h1M64 150h1M72 150h1M60 149h3M76 149h1M53 148h1M57 148h1M67 148h1M69 148h1M58 147h2M68 147h1M72 147h2M66 146h1M69 146h1M72 146h1M69 145h1M81 145h1M60 144h1M83 62h1M78 12h1M90 10h1"/>
<path stroke="#9595ff" d="M78 167h1M81 166h1M81 165h1M80 164h1M82 164h2M79 163h1M82 163h1M78 162h1M80 159h2M65 158h1M67 158h1M70 158h1M81 158h2M63 157h1M66 157h2M70 157h1M59 156h1M70 156h1M72 156h1M80 156h2M58 155h1M62 155h2M67 155h1M70 155h1M72 155h1M81 155h1M55 154h1M57 154h1M62 154h1M71 154h1M74 154h1M54 153h1M59 153h2M65 153h1M68 153h2M72 153h1M59 152h1M62 152h1M65 152h1M67 152h2M70 152h1M73 152h1M80 152h1M82 152h2M86 152h1M58 151h1M60 151h1M76 151h1M78 151h1M81 151h1M54 150h1M61 150h2M66 150h2M71 150h1M73 150h1M76 150h2M80 150h1M82 150h1M53 149h1M55 149h2M58 149h1M73 149h1M75 149h1M78 149h1M80 149h1M84 149h2M54 148h2M58 148h1M61 148h1M66 148h1M68 148h1M72 148h1M75 148h1M78 148h1M83 148h1M87 148h1M55 147h3M65 147h1M70 147h2M74 147h1M78 147h1M82 147h1M53 146h1M56 146h1M59 146h3M68 146h1M70 146h1M74 146h1M82 146h1M57 145h1M60 145h1M66 145h2M59 144h1M63 144h1M66 144h1M63 143h1M67 143h1M55 140h1M58 135h1M83 63h1M83 61h1M84 60h1M88 57h1M112 57h1M88 56h1M86 55h1M87 54h1M79 12h1M81 12h1M77 11h1M79 10h1M80 9h1M89 9h1"/>
<path stroke="#6a6aff" d="M14 183h2M14 182h1M73 171h1M71 170h1M76 167h1M80 167h2M79 166h1M82 166h1M82 165h1M76 164h1M81 164h1M64 163h1M83 163h1M65 162h1M77 162h1M82 162h1M81 161h2M80 160h2M83 160h1M62 159h1M66 159h2M82 159h1M64 158h1M69 158h1M71 158h1M76 158h1M80 158h1M57 157h1M62 157h1M68 157h1M71 157h1M73 157h1M82 157h1M56 156h1M58 156h1M60 156h2M66 156h2M69 156h1M71 156h1M73 156h2M82 156h1M84 156h1M59 155h1M61 155h1M64 155h1M68 155h1M73 155h1M82 155h1M85 155h1M58 154h1M69 154h1M76 154h2M80 154h1M85 154h1M57 153h1M63 153h1M70 153h1M74 153h1M77 153h1M83 153h1M85 153h1M55 152h3M64 152h1M66 152h1M74 152h1M76 152h1M78 152h1M59 151h1M64 151h1M66 151h2M72 151h1M79 151h1M86 151h1M56 150h1M58 150h1M63 150h1M68 150h1M74 150h1M81 150h1M83 150h1M86 150h2M54 149h1M57 149h1M59 149h1M63 149h2M68 149h1M71 149h1M86 149h1M52 148h1M59 148h1M62 148h4M70 148h2M76 148h2M80 148h1M84 148h1M86 148h1M52 147h1M54 147h1M60 147h2M66 147h1M79 147h1M81 147h1M83 147h2M86 147h2M55 146h1M58 146h1M62 146h2M65 146h1M75 146h1M79 146h1M83 146h1M85 146h1M56 145h1M58 145h1M61 145h2M82 145h1M88 145h1M52 144h1M58 144h1M68 144h3M73 144h1M22 143h1M54 143h1M58 143h1M68 143h1M56 142h2M64 142h1M54 141h1M61 141h1M63 141h1M53 140h1M57 140h1M60 140h1M54 139h1M57 139h1M60 139h1M59 137h2M57 134h2M61 124h1M106 66h1M81 63h2M82 60h2M85 59h1M84 58h1M113 58h1M111 57h1M87 56h1M112 56h1M88 55h1M108 55h2M86 54h1M88 54h1M107 53h1M89 46h1M78 13h1M77 12h1M80 12h1M80 11h2M78 10h1M79 9h1M90 9h1M78 8h1M78 6h1"/>
<path stroke="#4040ff" d="M13 183h1M15 182h1M71 171h1M72 170h1M76 170h2M69 169h1M72 169h1M76 169h3M70 168h3M75 168h3M79 168h2M72 167h1M74 167h1M79 167h1M73 166h1M80 166h1M73 165h3M78 165h2M69 164h1M77 164h1M79 164h1M65 163h1M72 163h1M78 163h1M80 163h1M64 162h1M67 162h1M76 162h1M81 162h1M83 162h1M61 161h3M76 161h3M80 161h1M65 160h2M78 160h2M82 160h1M63 159h1M65 159h1M68 159h1M76 159h1M78 159h1M58 157h1M65 157h1M69 157h1M80 157h2M83 157h2M57 156h1M64 156h1M75 156h1M54 155h1M66 155h1M74 155h2M83 155h2M54 154h1M59 154h1M61 154h1M67 154h1M70 154h1M75 154h1M81 154h1M83 154h2M61 153h1M67 153h1M76 153h1M78 153h1M81 153h2M53 152h1M58 152h1M81 152h1M84 152h1M52 151h1M54 151h1M57 151h1M82 151h1M84 151h2M53 150h1M60 150h1M65 150h1M75 150h1M78 150h2M84 150h2M52 149h1M66 149h1M69 149h1M81 149h2M87 149h1M74 148h1M82 148h1M64 147h1M75 147h1M77 147h1M80 147h1M85 147h1M54 146h1M57 146h1M64 146h1M71 146h1M73 146h1M81 146h1M84 146h1M86 146h2M52 145h1M54 145h2M59 145h1M68 145h1M70 145h1M72 145h2M75 145h1M84 145h4M53 144h3M57 144h1M62 144h1M64 144h1M67 144h1M71 144h1M74 144h1M84 144h1M86 144h1M55 143h1M57 143h1M59 143h1M61 143h1M66 143h1M69 143h3M22 142h1M53 142h1M58 142h6M67 142h1M70 142h3M52 141h1M55 141h3M60 141h1M54 140h1M56 140h1M59 140h1M63 140h1M53 139h1M59 139h1M61 139h1M63 139h1M56 138h2M60 138h2M64 138h1M52 137h1M56 137h2M55 136h1M59 135h2M60 134h1M59 133h2M60 132h1M81 64h1M82 62h1M82 61h1M84 61h1M82 59h1M84 59h1M82 58h2M85 58h1M111 58h2M86 57h1M113 57h2M89 56h1M109 56h3M113 56h1M85 55h1M107 55h1M111 55h2M85 54h1M106 54h5M106 53h1M109 53h1M88 46h1M77 13h1M76 12h1M76 11h1M79 11h1M74 10h2M81 10h2M88 10h2M76 9h1M78 9h1M88 9h1M77 8h1M79 8h2M78 7h3M77 6h1M79 6h1"/>
<path stroke="#1515ff" d="M12 183h1M16 183h1M12 182h2M16 182h1M72 171h1M74 171h1M76 171h4M78 170h2M71 169h1M74 169h2M79 169h1M69 168h1M74 168h1M78 168h1M68 167h2M71 167h1M75 167h1M77 167h1M65 166h1M71 166h2M74 166h5M69 165h2M77 165h1M64 164h1M66 164h3M70 164h1M72 164h1M74 164h2M78 164h1M63 163h1M70 163h1M75 163h1M68 162h2M75 162h1M79 162h2M64 161h1M66 161h2M74 161h2M79 161h1M61 160h2M67 160h1M69 160h1M74 160h1M76 160h2M60 159h2M64 159h1M69 159h1M71 159h1M75 159h1M77 159h1M59 158h2M63 158h1M66 158h1M72 158h2M75 158h1M77 158h1M59 157h2M64 157h1M72 157h1M65 156h1M76 156h1M79 156h1M83 156h1M55 155h2M69 155h1M71 155h1M77 155h1M78 154h2M82 154h1M53 153h1M58 153h1M80 153h1M48 151h1M80 151h1M83 151h1M57 150h1M48 149h1M65 149h1M77 149h1M60 148h1M85 148h1M50 147h1M53 147h1M76 147h1M52 146h1M76 146h1M80 146h1M53 145h1M63 145h3M71 145h1M76 145h1M56 144h1M61 144h1M65 144h1M75 144h1M80 144h1M83 144h1M87 144h2M23 143h1M53 143h1M56 143h1M60 143h1M62 143h1M65 143h1M72 143h4M84 143h1M88 143h1M55 142h1M65 142h1M68 142h2M73 142h1M79 142h1M88 142h2M59 141h1M62 141h1M64 141h1M68 141h1M72 141h1M75 141h1M86 141h1M52 140h1M61 140h2M64 140h1M66 140h1M55 139h1M64 139h1M52 138h4M58 138h2M63 138h1M65 138h1M61 137h1M63 137h1M56 136h1M59 136h1M61 136h1M55 135h1M57 135h1M61 134h1M58 133h1M59 132h1M59 124h2M62 124h1M60 123h1M35 111h1M33 110h1M37 110h1M35 109h2M104 65h1M106 65h1M82 64h1M84 64h1M105 64h1M84 63h3M105 63h1M81 62h1M84 62h2M81 61h1M85 61h1M85 60h2M80 59h1M86 58h1M114 58h1M85 57h1M87 57h1M89 57h1M85 56h1M104 56h1M108 56h1M87 55h1M89 55h1M99 55h2M105 55h1M110 55h1M113 55h1M89 54h1M111 54h1M88 53h1M110 53h1M88 52h1M73 22h1M74 13h2M79 13h1M74 12h2M74 11h2M78 11h1M76 10h2M80 10h1M87 10h1M75 9h1M77 9h1M73 8h1M76 8h1M82 8h1M75 7h3M81 7h2M87 7h1M80 6h1M87 6h2"/>
<path stroke="#000bff" d="M11 183h1M17 183h1M15 181h1M75 171h1M69 170h2M74 170h2M70 169h1M73 169h1M68 168h1M67 167h1M70 167h1M66 166h5M65 165h1M67 165h2M71 165h2M76 165h1M71 164h1M73 164h1M66 163h1M68 163h2M74 163h1M76 163h2M62 162h2M66 162h1M74 162h1M65 161h1M68 161h2M60 160h1M64 160h1M68 160h1M70 160h1M72 160h1M75 160h1M59 159h1M70 159h1M72 159h1M74 159h1M83 159h1M58 158h1M61 158h1M68 158h1M74 158h1M78 158h1M18 157h1M20 157h1M74 157h2M77 157h3M55 156h1M77 156h2M19 155h1M78 155h2M79 153h1M84 153h1M51 151h1M53 151h1M50 150h1M52 150h1M49 149h1M74 149h1M49 148h1M49 147h1M51 147h1M78 146h1M74 145h1M77 145h2M80 145h1M83 145h1M23 144h1M72 144h1M76 144h3M85 144h1M21 143h1M64 143h1M76 143h3M23 142h1M54 142h1M66 142h1M75 142h3M84 142h4M58 141h1M65 141h3M70 141h1M73 141h1M58 140h1M65 140h1M67 140h1M70 140h1M72 140h1M52 139h1M56 139h1M58 139h1M62 139h1M65 139h3M62 138h1M66 138h1M51 137h1M53 137h2M58 137h1M62 137h1M64 137h2M52 136h1M57 136h2M60 136h1M62 136h1M51 135h2M54 135h1M56 135h1M61 135h3M65 135h1M50 134h1M59 134h1M62 134h2M55 133h3M61 133h1M56 132h1M58 132h1M61 132h1M64 132h1M69 127h1M64 126h1M60 125h3M64 125h1M65 124h1M61 123h1M34 111h1M36 111h1M36 110h1M33 109h2M34 108h2M102 67h1M105 67h1M82 66h1M104 66h2M107 66h1M80 65h1M84 65h1M103 65h1M105 65h1M107 65h1M85 64h1M104 64h1M106 64h1M108 64h1M80 63h1M87 63h1M104 63h1M106 63h2M80 62h1M86 61h1M79 60h2M79 59h1M81 59h1M83 59h1M86 59h2M81 58h1M88 58h2M110 58h1M82 57h3M90 57h1M104 57h1M106 57h1M108 57h3M131 57h1M83 56h2M86 56h1M100 56h1M103 56h1M105 56h1M107 56h1M114 56h1M84 55h1M101 55h1M103 55h1M106 55h1M90 54h1M99 54h2M105 54h1M112 54h2M84 53h1M86 53h2M105 53h1M108 53h1M112 53h1M85 52h1M87 52h1M89 52h1M105 52h2M88 51h2M89 48h1M89 47h2M89 45h1M72 23h2M73 21h1M73 13h1M80 13h1M136 13h1M82 12h1M73 11h1M82 11h1M91 10h1M73 9h1M81 9h1M86 9h2M91 9h1M74 8h2M86 8h4M148 8h1M74 7h1M83 7h1M86 7h1M88 7h1M73 6h1M75 6h2M82 6h5M89 6h1"/>
<path stroke="#0020ff" d="M12 184h3M16 184h2M12 181h3M17 181h1M33 181h2M46 181h2M49 181h3M67 181h2M12 180h1M16 180h1M33 180h3M67 180h1M69 180h2M18 170h1M73 170h1M73 168h1M73 167h1M66 165h1M65 164h1M67 163h1M71 163h1M73 163h1M70 162h4M70 161h2M73 161h1M18 160h1M21 160h2M63 160h1M71 160h1M73 160h1M19 159h2M73 159h1M79 159h1M16 158h1M18 158h3M62 158h1M79 158h1M17 157h1M76 157h1M18 156h3M18 155h1M20 155h1M48 152h1M54 152h1M46 151h2M49 151h2M48 150h1M51 150h1M50 149h2M21 148h3M50 148h1M22 147h1M22 146h1M24 146h1M77 146h1M79 145h1M21 144h2M24 144h1M79 144h1M24 143h1M26 143h1M79 143h2M83 143h1M85 143h3M24 142h1M74 142h1M78 142h1M80 142h1M23 141h1M53 141h1M69 141h1M71 141h1M74 141h1M76 141h2M79 141h2M84 141h2M87 141h1M68 140h2M73 140h1M75 140h1M84 140h1M86 140h1M90 140h1M68 139h2M71 139h2M25 138h2M67 138h3M71 138h1M24 137h1M28 137h1M55 137h1M35 136h1M51 136h1M53 136h2M63 136h4M53 135h1M66 135h1M51 134h6M31 133h1M50 133h1M62 133h3M66 133h1M52 132h1M54 132h1M57 132h1M63 132h1M58 131h6M30 130h1M61 130h3M27 129h1M29 129h1M64 129h1M69 129h1M68 128h2M63 127h1M68 127h1M70 127h1M72 127h1M65 126h1M67 126h5M63 125h1M65 125h4M70 125h2M73 125h1M63 124h2M66 124h6M73 124h1M59 123h1M62 123h1M64 123h2M67 123h2M71 123h2M67 122h1M70 121h1M36 112h1M42 112h1M37 111h2M34 110h2M38 110h1M40 110h1M37 109h2M36 108h1M34 107h1M93 85h1M80 71h1M94 69h1M105 69h1M86 68h1M96 68h1M104 68h3M81 67h2M85 67h1M100 67h1M103 67h1M106 67h2M111 67h1M80 66h1M83 66h3M91 66h1M98 66h1M101 66h3M79 65h1M81 65h2M87 65h2M102 65h1M108 65h1M80 64h1M83 64h1M87 64h1M90 64h1M103 64h1M107 64h1M90 63h2M94 63h1M103 63h1M76 62h1M79 62h1M86 62h3M104 62h4M79 61h1M87 61h1M103 61h1M106 61h2M81 60h1M87 60h2M90 60h1M109 60h1M111 60h1M78 59h1M88 59h3M109 59h2M112 59h2M78 58h3M87 58h1M90 58h1M106 58h1M108 58h2M80 57h1M101 57h3M105 57h1M107 57h1M127 57h2M130 57h1M132 57h1M81 56h2M90 56h1M99 56h1M101 56h2M106 56h1M130 56h2M83 55h1M90 55h2M97 55h1M104 55h1M114 55h2M128 55h1M131 55h1M133 55h1M82 54h3M97 54h2M101 54h1M103 54h2M114 54h1M83 53h1M89 53h2M100 53h5M111 53h1M113 53h1M129 53h1M83 52h1M86 52h1M90 52h1M102 52h3M107 52h7M84 51h1M87 51h1M90 51h1M104 51h1M87 50h3M88 48h1M86 47h3M90 46h1M73 24h1M74 23h1M71 22h2M72 21h1M74 21h1M70 18h1M72 15h1M73 14h2M76 14h1M131 14h2M76 13h1M81 13h1M130 13h2M134 13h2M144 13h1M147 13h1M149 13h2M73 12h1M136 12h1M147 12h1M149 12h1M83 11h1M89 11h2M131 11h1M137 11h1M143 11h1M147 11h1M150 11h2M73 10h1M83 10h1M86 10h1M147 10h5M153 10h1M74 9h1M82 9h1M146 9h1M148 9h2M81 8h1M83 8h1M85 8h1M90 8h1M149 8h1M73 7h1M85 7h1M89 7h1M147 7h1M149 7h1M74 6h1M81 6h1M114 6h1M147 6h1M150 6h1"/>
<path stroke="#0035ff" d="M18 185h1M11 184h1M15 184h1M18 184h1M47 184h1M18 183h1M46 183h2M11 182h1M35 182h2M46 182h3M67 182h3M16 181h1M35 181h7M45 181h1M69 181h1M13 180h3M68 180h1M33 179h3M68 179h2M16 175h1M17 174h1M17 172h2M18 171h1M20 170h1M23 163h1M21 162h1M23 162h1M21 161h1M72 161h1M19 160h2M16 159h3M21 159h2M17 158h1M21 158h2M19 157h1M21 157h2M17 156h1M21 156h1M23 156h1M21 155h2M76 155h1M24 154h1M27 154h4M24 153h2M47 152h1M39 151h1M45 151h1M49 150h1M40 148h2M51 148h1M21 147h1M23 147h2M21 146h1M23 146h1M25 146h1M21 145h5M25 144h1M25 143h1M26 142h1M29 142h2M22 141h1M24 141h5M31 141h1M78 141h1M88 141h2M22 140h3M26 140h3M71 140h1M74 140h1M76 140h5M85 140h1M25 139h4M70 139h1M73 139h3M89 139h2M23 138h2M27 138h1M70 138h1M23 137h1M26 137h2M32 137h2M66 137h2M69 137h1M24 136h2M27 136h3M31 136h1M33 136h2M68 136h1M24 135h1M28 135h1M30 135h2M33 135h2M64 135h1M67 135h2M24 134h1M30 134h2M33 134h1M64 134h2M67 134h1M30 133h1M32 133h1M51 133h4M67 133h1M25 132h1M28 132h5M50 132h2M53 132h1M55 132h1M62 132h1M65 132h2M69 132h1M25 131h1M27 131h7M51 131h2M54 131h3M64 131h2M67 131h1M26 130h4M60 130h1M64 130h4M28 129h1M30 129h1M60 129h4M65 129h4M70 129h2M62 128h2M65 128h3M70 128h2M65 127h3M71 127h1M61 126h3M66 126h1M72 126h1M74 126h1M59 125h1M69 125h1M72 125h1M74 125h1M72 124h1M74 124h2M63 123h1M66 123h1M69 123h2M73 123h2M70 122h3M40 113h3M37 112h3M41 112h1M39 111h3M43 111h1M46 111h1M39 110h1M41 110h3M39 109h1M43 109h1M37 108h2M35 107h1M37 107h3M35 106h2M38 106h1M38 104h1M92 86h1M94 86h1M91 85h1M94 85h1M91 84h2M91 83h1M91 71h1M108 71h1M76 70h1M78 70h1M89 70h2M105 70h2M108 70h1M111 70h1M78 69h3M89 69h1M93 69h1M96 69h1M101 69h2M104 69h1M107 69h1M110 69h2M75 68h1M77 68h1M79 68h1M81 68h2M85 68h1M87 68h1M89 68h2M93 68h3M98 68h1M102 68h2M107 68h4M112 68h2M78 67h3M83 67h2M86 67h2M89 67h2M92 67h3M96 67h1M98 67h2M101 67h1M104 67h1M108 67h3M112 67h2M115 67h1M76 66h1M78 66h2M81 66h1M86 66h5M92 66h4M97 66h1M108 66h3M114 66h2M72 65h2M76 65h1M78 65h1M83 65h1M85 65h2M89 65h3M93 65h6M101 65h1M110 65h1M71 64h1M76 64h1M78 64h2M86 64h1M88 64h1M91 64h1M93 64h1M95 64h1M100 64h3M109 64h3M70 63h4M76 63h4M89 63h1M92 63h2M97 63h2M102 63h1M108 63h1M110 63h1M115 63h1M70 62h2M74 62h2M77 62h2M90 62h6M98 62h1M102 62h2M108 62h1M110 62h2M122 62h1M70 61h2M76 61h1M78 61h1M80 61h1M88 61h1M90 61h2M105 61h1M108 61h4M125 61h1M127 61h1M130 61h1M77 60h2M89 60h1M104 60h5M110 60h1M125 60h2M129 60h2M77 59h1M91 59h1M106 59h3M111 59h1M114 59h1M125 59h4M130 59h1M70 58h1M76 58h2M91 58h1M94 58h2M104 58h2M107 58h1M115 58h1M126 58h1M128 58h2M76 57h2M81 57h1M96 57h3M100 57h1M126 57h1M129 57h1M73 56h1M80 56h1M91 56h1M94 56h1M96 56h3M115 56h1M126 56h4M132 56h1M73 55h1M82 55h1M92 55h1M95 55h2M98 55h1M102 55h1M118 55h1M125 55h1M127 55h1M129 55h2M132 55h1M71 54h1M73 54h1M79 54h3M91 54h2M96 54h1M102 54h1M115 54h1M126 54h1M128 54h1M130 54h1M132 54h1M72 53h1M82 53h1M85 53h1M91 53h2M96 53h4M115 53h1M125 53h2M130 53h3M134 53h1M80 52h3M84 52h1M91 52h1M101 52h1M114 52h1M82 51h2M85 51h2M91 51h1M103 51h1M105 51h3M111 51h1M82 50h1M84 50h3M90 50h2M93 50h1M85 49h2M88 49h4M86 48h2M90 48h1M87 46h1M87 45h1M90 45h1M91 40h1M129 36h1M126 35h1M67 25h1M71 24h2M67 23h1M69 23h1M71 23h1M75 23h1M67 22h1M69 22h1M74 22h1M68 21h4M69 20h3M73 20h1M70 19h2M71 18h1M71 17h2M128 17h2M131 17h1M71 16h3M127 16h6M134 16h2M73 15h2M127 15h8M137 15h2M148 15h1M72 14h1M77 14h3M128 14h3M133 14h5M139 14h2M145 14h6M128 13h2M132 13h2M137 13h1M143 13h1M145 13h2M148 13h1M152 13h3M83 12h1M129 12h7M137 12h1M141 12h6M150 12h5M84 11h5M132 11h3M136 11h1M144 11h1M146 11h1M148 11h2M152 11h1M154 11h1M85 10h1M131 10h1M144 10h3M152 10h1M83 9h1M85 9h1M116 9h1M144 9h2M147 9h1M150 9h1M152 9h1M84 8h1M115 8h3M146 8h2M151 8h2M84 7h1M90 7h2M112 7h5M146 7h1M148 7h1M150 7h1M152 7h1M90 6h2M112 6h2M115 6h2M118 6h1M146 6h1M148 6h2"/>
<path stroke="#004aff" d="M18 187h1M47 187h1M46 186h1M11 185h2M16 185h2M47 185h1M46 184h1M35 183h1M39 182h1M45 182h1M42 181h1M44 181h1M17 180h1M12 179h1M16 179h1M12 178h1M16 176h1M18 176h2M17 175h3M18 174h2M19 172h1M19 171h2M19 170h1M21 163h2M22 162h1M24 162h1M22 161h2M17 160h1M23 159h1M23 158h1M23 157h1M22 156h1M23 155h1M23 154h1M25 154h1M23 153h1M26 153h2M29 153h1M32 153h3M25 152h1M38 150h2M45 150h1M38 149h1M40 149h1M24 148h1M32 148h1M38 148h2M42 148h1M40 147h1M36 143h1M25 142h1M27 142h2M30 141h1M25 140h1M29 140h1M87 140h3M23 139h2M77 139h1M79 139h2M82 139h2M86 139h3M28 138h2M32 138h2M72 138h1M75 138h1M77 138h1M88 138h1M25 137h1M29 137h1M31 137h1M34 137h1M68 137h1M70 137h1M72 137h1M26 136h1M30 136h1M32 136h1M67 136h1M69 136h2M25 135h1M27 135h1M29 135h1M32 135h1M25 134h1M29 134h1M32 134h1M66 134h1M68 134h1M28 133h2M68 133h3M67 132h2M70 132h1M26 131h1M50 131h1M53 131h1M57 131h1M66 131h1M68 131h2M49 130h1M51 130h1M53 130h4M58 130h2M68 130h3M59 129h1M61 128h1M64 128h1M72 128h1M62 127h1M64 127h1M73 127h1M60 126h1M73 126h1M58 125h1M75 125h2M58 124h1M58 123h1M75 123h1M77 123h1M59 122h3M63 122h4M69 122h1M73 122h3M67 121h1M69 121h1M71 121h3M72 120h1M74 120h1M74 119h1M52 115h2M44 114h1M46 114h1M51 114h1M39 113h1M44 113h2M40 112h1M43 112h1M46 112h2M42 111h1M44 111h2M47 111h1M44 110h2M41 109h2M44 109h3M39 108h7M36 107h1M42 107h3M37 106h1M45 106h1M35 105h5M41 105h1M36 104h2M41 104h1M36 103h1M38 103h1M40 103h2M43 102h1M43 101h1M42 100h1M92 87h2M91 86h1M93 86h1M92 85h1M90 84h1M93 84h2M90 83h1M92 83h3M91 82h4M92 81h1M45 80h1M90 80h1M44 79h1M76 72h3M80 72h1M82 72h2M89 72h1M96 72h1M99 72h1M106 72h1M75 71h4M81 71h4M86 71h1M89 71h2M92 71h2M96 71h1M99 71h1M101 71h3M105 71h3M111 71h1M70 70h1M72 70h1M74 70h2M77 70h1M79 70h7M88 70h1M91 70h3M97 70h3M101 70h4M107 70h1M71 69h7M81 69h3M85 69h4M90 69h3M95 69h1M97 69h4M103 69h1M106 69h1M108 69h1M112 69h1M115 69h1M72 68h3M76 68h1M78 68h1M80 68h1M83 68h2M88 68h1M91 68h1M97 68h1M99 68h3M111 68h1M114 68h2M72 67h2M75 67h3M88 67h1M91 67h1M95 67h1M97 67h1M114 67h1M70 66h6M77 66h1M96 66h1M99 66h2M116 66h1M64 65h2M68 65h2M71 65h1M75 65h1M77 65h1M92 65h1M99 65h1M109 65h1M114 65h4M62 64h2M65 64h1M67 64h1M70 64h1M72 64h4M77 64h1M89 64h1M92 64h1M94 64h1M96 64h3M116 64h1M61 63h1M68 63h2M74 63h2M88 63h1M95 63h2M99 63h3M109 63h1M111 63h1M116 63h2M119 63h1M123 63h1M61 62h1M67 62h1M69 62h1M72 62h2M89 62h1M96 62h2M99 62h1M101 62h1M109 62h1M115 62h4M123 62h2M126 62h3M68 61h2M73 61h3M77 61h1M89 61h1M92 61h4M97 61h1M100 61h1M102 61h1M104 61h1M115 61h1M118 61h1M121 61h1M123 61h2M126 61h1M128 61h2M65 60h4M71 60h3M75 60h2M91 60h3M95 60h1M97 60h1M115 60h1M121 60h4M127 60h2M67 59h2M70 59h1M72 59h5M92 59h3M96 59h1M102 59h4M123 59h2M129 59h1M131 59h1M66 58h1M68 58h1M71 58h5M92 58h1M96 58h2M99 58h1M101 58h3M123 58h3M127 58h1M130 58h1M68 57h8M78 57h2M91 57h5M99 57h1M115 57h1M118 57h1M122 57h4M68 56h3M72 56h1M75 56h3M79 56h1M92 56h2M95 56h1M116 56h3M120 56h2M123 56h3M69 55h1M71 55h1M74 55h3M78 55h4M93 55h2M116 55h2M119 55h2M122 55h3M126 55h1M72 54h1M74 54h2M77 54h1M93 54h2M118 54h1M122 54h2M125 54h1M127 54h1M129 54h1M131 54h1M133 54h2M74 53h5M80 53h2M94 53h2M114 53h1M116 53h1M119 53h2M123 53h1M127 53h2M133 53h1M75 52h1M77 52h3M92 52h1M95 52h1M115 52h5M122 52h1M125 52h3M129 52h1M133 52h3M73 51h1M76 51h2M79 51h2M92 51h1M94 51h1M98 51h2M102 51h1M108 51h3M112 51h3M116 51h1M119 51h2M123 51h1M131 51h1M79 50h3M83 50h1M92 50h1M113 50h2M119 50h1M82 49h3M87 49h1M92 49h2M84 48h2M91 48h2M84 47h1M91 47h1M86 46h1M91 46h1M88 45h1M88 44h2M90 41h2M130 37h1M123 36h2M126 36h1M128 36h1M138 36h1M122 35h1M125 35h1M127 35h3M133 35h1M138 35h1M126 34h5M135 34h1M128 33h1M131 33h2M134 33h1M136 33h3M66 24h4M74 24h1M68 23h1M70 23h1M70 22h1M75 22h1M75 21h1M72 20h1M69 19h1M72 19h1M72 18h2M127 18h4M73 17h2M127 17h1M130 17h1M132 17h2M74 16h2M126 16h1M133 16h1M136 16h2M147 16h2M75 15h1M80 15h1M126 15h1M135 15h2M139 15h2M142 15h1M144 15h4M151 15h1M75 14h1M80 14h2M127 14h1M138 14h1M141 14h4M151 14h2M154 14h1M82 13h1M127 13h1M138 13h5M151 13h1M84 12h1M127 12h2M138 12h3M148 12h1M155 12h1M91 11h1M128 11h1M130 11h1M135 11h1M138 11h5M145 11h1M153 11h1M155 11h1M84 10h1M129 10h2M133 10h2M136 10h1M142 10h2M154 10h2M84 9h1M92 9h1M115 9h1M130 9h1M142 9h2M151 9h1M153 9h3M91 8h1M112 8h3M118 8h1M136 8h1M143 8h3M150 8h1M153 8h1M92 7h1M117 7h3M121 7h2M137 7h1M143 7h3M151 7h1M153 7h2M92 6h1M96 6h1M111 6h1M117 6h1M119 6h2M123 6h2M141 6h1M143 6h3M151 6h3"/>
<path stroke="#0060ff" d="M11 187h1M38 187h2M45 187h2M18 186h1M45 186h1M47 186h1M13 185h3M46 185h1M45 184h1M36 183h2M39 183h1M45 183h1M37 182h2M40 182h3M44 182h1M43 181h1M13 179h1M15 179h1M17 179h1M18 178h1M13 177h1M18 177h1M15 176h1M17 176h1M20 164h1M23 164h1M24 161h1M23 160h1M26 154h1M28 153h1M30 153h2M26 152h2M40 151h5M40 150h2M43 150h1M30 149h1M35 149h3M39 149h1M41 149h3M31 148h1M37 148h1M33 147h1M39 144h1M37 143h1M29 141h1M31 140h1M29 139h1M76 139h1M78 139h1M81 139h1M84 139h2M73 138h1M76 138h1M89 138h2M30 137h1M71 137h1M89 137h3M71 136h2M91 136h1M26 135h1M69 135h4M92 135h1M28 134h1M69 134h3M25 133h1M65 133h1M71 133h2M26 132h2M71 132h1M70 131h3M50 130h1M52 130h1M57 130h1M71 130h1M49 129h3M53 129h1M56 129h1M58 129h1M56 128h1M59 128h1M58 127h4M74 127h1M58 126h2M76 126h1M57 125h1M76 124h1M76 123h1M78 123h1M62 122h1M68 122h1M76 122h2M68 121h1M74 121h3M68 120h4M73 120h1M75 120h2M71 119h3M44 118h1M73 118h4M45 116h1M44 115h1M46 115h5M54 115h1M43 114h1M45 114h1M47 114h4M52 114h2M55 114h1M43 113h1M46 113h3M51 113h1M44 112h2M48 112h4M49 111h1M46 110h2M40 109h1M47 109h1M49 109h1M46 108h3M40 107h2M45 107h1M39 106h6M46 106h1M40 105h1M43 105h1M45 105h1M39 104h2M42 104h1M44 104h2M37 103h1M39 103h1M42 103h3M35 102h2M39 102h1M41 102h1M36 101h1M39 101h4M45 101h1M38 100h2M41 100h1M37 99h1M41 99h1M46 99h1M37 98h2M40 98h2M43 98h2M46 98h1M37 97h1M43 97h1M91 87h1M94 87h2M90 86h1M90 85h1M95 85h1M89 84h1M89 83h1M90 82h1M91 81h1M93 81h2M44 80h1M46 80h2M91 80h1M45 79h5M44 78h1M47 78h3M94 78h1M80 74h1M92 74h1M101 74h1M72 73h1M74 73h1M76 73h3M80 73h4M86 73h1M88 73h2M98 73h3M70 72h6M79 72h1M81 72h1M84 72h5M90 72h4M97 72h2M100 72h1M102 72h1M105 72h1M107 72h2M111 72h1M71 71h1M74 71h1M79 71h1M85 71h1M87 71h2M94 71h2M97 71h2M100 71h1M104 71h1M112 71h1M71 70h1M73 70h1M87 70h1M94 70h3M100 70h1M112 70h2M70 69h1M84 69h1M113 69h2M66 68h1M68 68h1M70 68h2M92 68h1M116 68h1M63 67h1M71 67h1M74 67h1M116 67h1M60 66h1M64 66h5M117 66h1M62 65h2M70 65h1M74 65h1M100 65h1M118 65h1M66 64h1M68 64h2M99 64h1M115 64h1M117 64h4M62 63h6M120 63h3M125 63h4M62 62h2M65 62h2M68 62h1M100 62h1M119 62h1M125 62h1M129 62h1M62 61h6M72 61h1M96 61h1M98 61h2M101 61h1M117 61h1M119 61h2M122 61h1M63 60h2M69 60h2M74 60h1M94 60h1M96 60h1M98 60h6M116 60h3M120 60h1M64 59h3M69 59h1M71 59h1M95 59h1M97 59h3M101 59h1M115 59h3M122 59h1M67 58h1M69 58h1M93 58h1M98 58h1M100 58h1M116 58h3M121 58h2M131 58h1M67 57h1M116 57h2M119 57h3M67 56h1M71 56h1M74 56h1M78 56h1M119 56h1M122 56h1M68 55h1M70 55h1M72 55h1M77 55h1M121 55h1M70 54h1M76 54h1M78 54h1M95 54h1M116 54h2M119 54h3M124 54h1M71 53h1M73 53h1M79 53h1M93 53h1M117 53h2M122 53h1M124 53h1M73 52h2M76 52h1M93 52h2M96 52h5M120 52h2M123 52h2M128 52h1M130 52h3M75 51h1M78 51h1M81 51h1M93 51h1M96 51h2M100 51h2M117 51h2M122 51h1M124 51h3M128 51h1M130 51h1M135 51h1M77 50h2M94 50h2M97 50h1M100 50h1M102 50h1M104 50h1M111 50h2M116 50h1M118 50h1M77 49h2M80 49h2M94 49h1M82 48h2M93 48h1M81 47h1M83 47h1M85 47h1M85 46h1M86 45h1M92 45h1M87 44h1M90 44h1M88 43h4M89 42h4M92 41h1M90 40h1M92 40h1M131 40h1M128 39h1M124 38h3M128 38h1M130 38h2M133 38h3M121 37h1M123 37h2M128 37h2M131 37h4M138 37h1M141 37h2M121 36h2M125 36h1M127 36h1M130 36h5M136 36h2M140 36h3M120 35h1M123 35h2M130 35h3M134 35h4M139 35h4M120 34h1M122 34h4M131 34h4M136 34h1M138 34h3M144 34h1M122 33h2M125 33h3M129 33h2M133 33h1M139 33h1M122 32h1M125 32h1M127 32h2M130 32h5M136 32h2M144 32h1M133 31h1M66 25h1M70 25h4M70 24h1M76 23h1M68 22h1M76 22h1M74 20h1M123 20h2M126 20h4M73 19h3M125 19h6M132 19h1M74 18h3M126 18h1M131 18h4M142 18h1M75 17h1M125 17h2M134 17h4M124 16h2M138 16h3M142 16h1M144 16h3M149 16h3M76 15h4M125 15h1M141 15h1M143 15h1M149 15h2M152 15h2M125 14h2M153 14h1M83 13h2M125 13h2M155 13h2M86 12h3M126 12h1M156 12h1M126 11h2M129 11h1M156 11h2M159 11h1M92 10h1M114 10h1M126 10h3M132 10h1M135 10h1M137 10h5M156 10h5M113 9h2M117 9h2M122 9h1M125 9h2M128 9h2M131 9h3M139 9h3M156 9h1M158 9h1M160 9h2M92 8h1M94 8h1M119 8h8M129 8h1M131 8h1M135 8h1M137 8h2M140 8h3M154 8h5M93 7h2M120 7h1M123 7h7M131 7h1M138 7h2M141 7h2M155 7h1M157 7h2M93 6h3M121 6h2M125 6h2M136 6h2M139 6h2M142 6h1M154 6h3M166 6h1"/>
<path stroke="#0075ff" d="M10 187h1M15 187h3M42 187h1M44 187h1M11 186h2M14 186h1M17 186h1M37 184h1M44 183h1M43 182h1M14 179h1M18 179h1M15 178h3M14 177h2M17 177h1M20 165h1M23 165h1M21 164h2M24 155h1M28 152h1M35 152h1M26 151h2M36 151h3M36 150h2M42 150h1M44 150h1M31 149h2M34 149h1M33 148h4M39 147h1M39 146h1M38 143h1M30 140h1M31 138h1M74 138h1M79 138h2M82 138h6M73 137h2M76 137h2M87 137h2M73 136h1M89 136h2M73 135h1M89 135h3M72 134h2M88 134h1M90 134h3M89 133h4M91 132h2M72 130h2M93 130h1M52 129h1M54 129h1M57 129h1M72 129h1M49 128h4M57 128h2M60 128h1M73 128h2M93 128h1M57 127h1M92 127h4M75 126h1M77 125h1M57 124h1M77 124h1M58 122h1M78 122h2M61 121h1M63 121h4M77 121h1M79 121h1M66 120h2M79 120h1M45 119h1M69 119h2M75 119h2M45 118h2M48 118h1M71 118h2M43 117h4M49 117h1M73 117h4M43 116h2M46 116h5M52 116h6M75 116h2M43 115h1M45 115h1M51 115h1M55 115h1M54 114h1M49 113h2M52 113h1M55 113h1M52 112h1M48 111h1M51 111h3M48 110h5M48 109h1M50 109h1M52 108h1M46 107h4M47 106h3M42 105h1M44 105h1M47 105h3M43 104h1M46 104h3M51 104h1M45 103h1M49 103h2M52 103h1M37 102h2M40 102h1M42 102h1M44 102h1M48 102h1M37 101h2M44 101h1M46 101h3M36 100h2M40 100h1M43 100h5M38 99h3M42 99h4M47 99h1M39 98h1M42 98h1M45 98h1M38 97h2M41 97h2M44 97h1M38 96h3M43 96h2M38 95h1M40 95h1M42 95h1M44 93h1M91 88h3M90 87h1M89 86h1M95 86h1M89 85h1M95 84h1M89 82h1M43 81h2M90 81h1M48 80h1M92 80h3M91 79h4M45 78h2M78 78h1M89 78h1M91 78h3M45 77h1M47 77h2M74 77h1M90 77h1M92 77h1M94 77h1M47 76h4M74 76h1M76 76h1M78 76h1M91 76h4M73 75h4M78 75h1M80 75h3M93 75h1M100 75h1M72 74h8M82 74h1M87 74h3M91 74h1M94 74h1M96 74h4M102 74h1M73 73h1M75 73h1M79 73h1M84 73h2M87 73h1M90 73h8M101 73h3M105 73h2M108 73h1M68 72h2M94 72h2M101 72h1M103 72h2M69 71h2M72 71h2M113 71h2M69 70h1M86 70h1M114 70h1M59 69h1M63 69h7M116 69h1M63 68h3M62 67h1M64 67h4M117 67h1M59 66h1M61 66h3M59 65h3M66 65h2M119 65h1M121 65h1M59 64h1M61 64h1M64 64h1M121 64h4M60 63h1M118 63h1M124 63h1M64 62h1M120 62h2M116 61h1M119 60h1M100 59h1M118 59h4M119 58h2M63 55h1M67 55h1M69 54h1M70 53h1M121 53h1M71 52h2M72 51h1M74 51h1M95 51h1M115 51h1M121 51h1M127 51h1M129 51h1M132 51h3M74 50h3M96 50h1M98 50h2M101 50h1M103 50h1M107 50h4M115 50h1M117 50h1M121 50h1M123 50h2M135 50h1M75 49h2M79 49h1M95 49h2M110 49h3M116 49h1M118 49h1M77 48h3M81 48h1M94 48h1M80 47h1M82 47h1M92 47h3M83 46h2M92 46h2M85 45h1M91 45h1M93 45h1M86 44h1M92 44h1M93 41h1M89 40h1M93 40h1M128 40h3M132 40h2M135 40h1M91 39h1M122 39h1M124 39h1M126 39h2M129 39h8M138 39h1M122 38h2M127 38h1M129 38h1M132 38h1M136 38h1M141 38h1M119 37h2M122 37h1M125 37h3M135 37h3M140 37h1M145 37h1M117 36h4M135 36h1M139 36h1M146 36h1M116 35h1M118 35h2M121 35h1M143 35h1M145 35h2M150 35h1M119 34h1M121 34h1M137 34h1M141 34h3M145 34h7M120 33h2M124 33h1M135 33h1M140 33h6M148 33h1M150 33h1M120 32h2M123 32h2M126 32h1M129 32h1M135 32h1M138 32h2M142 32h2M148 32h1M122 31h2M125 31h1M127 31h2M130 31h3M134 31h2M137 31h1M139 31h1M142 31h1M147 31h1M66 26h3M68 25h2M74 25h1M75 24h2M77 23h1M128 22h1M76 21h2M123 21h5M129 21h1M75 20h2M125 20h1M130 20h1M132 20h2M122 19h3M131 19h1M133 19h1M124 18h2M135 18h1M137 18h1M77 17h1M124 17h1M138 17h2M145 17h1M148 17h4M153 17h1M76 16h2M79 16h1M123 16h1M141 16h1M143 16h1M152 16h2M81 15h1M124 15h1M154 15h1M82 14h1M155 14h1M85 13h3M157 13h3M85 12h1M89 12h1M124 12h2M157 12h4M92 11h1M125 11h1M158 11h1M160 11h1M113 10h1M115 10h2M125 10h1M162 10h1M167 10h1M94 9h3M119 9h3M123 9h2M127 9h1M134 9h5M157 9h1M159 9h1M162 9h1M165 9h1M169 9h1M93 8h1M95 8h1M97 8h2M127 8h2M130 8h1M132 8h3M139 8h1M159 8h2M164 8h1M170 8h1M96 7h3M132 7h5M140 7h1M156 7h1M159 7h1M165 7h2M169 7h1M97 6h5M127 6h4M132 6h1M134 6h2M157 6h1M161 6h1M169 6h3"/>
<path stroke="#008aff" d="M12 187h3M40 187h2M43 187h1M15 186h2M38 186h2M44 186h1M45 185h1M44 184h1M38 183h1M41 183h3M13 178h2M16 177h1M21 165h2M24 160h2M24 158h2M24 157h2M24 156h1M29 152h3M33 152h2M28 151h1M31 151h1M28 150h1M35 150h1M33 149h1M34 147h1M38 147h1M39 145h1M30 138h1M78 138h1M75 137h1M85 137h1M74 136h2M87 136h2M74 135h2M88 135h1M26 134h1M89 134h1M27 133h1M72 132h2M93 132h1M73 131h1M89 131h3M90 130h3M94 130h1M55 129h1M73 129h2M90 129h5M53 128h1M55 128h1M89 128h3M94 128h2M50 127h1M52 127h1M56 127h1M75 127h2M57 126h1M77 126h1M94 126h2M56 125h1M78 125h1M96 125h1M78 124h2M57 123h1M79 123h3M57 122h1M80 122h2M56 121h5M62 121h1M78 121h1M80 121h1M46 120h1M77 120h2M80 120h1M47 119h1M68 119h1M77 119h2M47 118h1M55 118h2M68 118h3M77 118h2M47 117h2M50 117h1M53 117h4M71 117h2M77 117h3M51 116h1M73 116h2M78 116h1M56 115h2M73 115h1M75 115h2M56 114h2M76 114h1M54 113h1M56 113h1M53 112h4M50 111h1M54 111h1M53 110h3M51 109h3M49 108h1M51 108h1M52 107h2M51 106h1M46 105h1M50 105h1M49 104h1M52 104h1M47 103h2M51 103h1M45 102h3M49 102h3M48 100h2M52 100h1M49 99h4M47 98h1M50 98h3M40 97h1M45 97h2M50 97h3M41 96h2M45 96h1M48 96h1M52 96h1M39 95h1M41 95h1M43 95h3M39 94h4M46 94h1M41 93h1M43 93h1M43 92h2M42 91h1M90 89h1M90 88h1M94 88h1M89 87h1M96 86h1M88 85h1M87 84h2M88 83h1M95 83h1M43 82h1M45 82h1M95 82h1M45 81h3M89 81h1M95 81h1M49 80h2M89 80h1M95 80h1M50 79h3M89 79h2M95 79h1M50 78h3M71 78h1M90 78h1M95 78h2M46 77h1M49 77h1M73 77h1M76 77h5M89 77h1M91 77h1M93 77h1M96 77h1M46 76h1M51 76h1M72 76h1M75 76h1M77 76h1M79 76h4M84 76h3M89 76h2M95 76h3M99 76h3M47 75h3M69 75h2M72 75h1M77 75h1M79 75h1M83 75h3M87 75h6M94 75h6M101 75h2M71 74h1M81 74h1M83 74h4M90 74h1M93 74h1M95 74h1M100 74h1M103 74h1M69 73h1M71 73h1M104 73h1M107 73h1M111 73h1M66 72h1M112 72h1M67 71h2M61 70h4M66 70h3M115 70h1M60 69h3M117 69h1M57 68h4M62 68h1M67 68h1M117 68h1M58 67h4M118 67h1M118 66h2M120 65h1M60 64h1M125 64h3M53 62h1M51 61h1M54 61h2M54 60h1M57 58h1M63 54h2M68 54h1M70 52h1M71 51h1M72 50h2M120 50h1M122 50h1M125 50h1M127 50h8M136 50h1M74 49h1M97 49h3M107 49h1M109 49h1M113 49h3M119 49h3M124 49h1M136 49h2M75 48h2M80 48h1M95 48h1M115 48h1M117 48h2M78 47h2M118 47h1M81 46h2M94 46h1M84 45h1M139 45h1M85 44h1M91 44h1M93 44h1M86 43h2M92 43h2M88 42h1M93 42h1M134 42h1M89 41h1M94 41h1M135 41h1M121 40h2M125 40h3M134 40h1M137 40h3M90 39h1M92 39h2M121 39h1M123 39h1M125 39h1M137 39h1M139 39h4M146 39h1M116 38h1M118 38h1M120 38h2M137 38h4M142 38h6M116 37h3M139 37h1M143 37h2M146 37h1M114 36h1M116 36h1M143 36h3M147 36h2M115 35h1M117 35h1M144 35h1M147 35h3M116 34h1M118 34h1M118 33h2M146 33h2M149 33h1M152 33h1M118 32h2M140 32h2M145 32h3M149 32h1M117 31h1M121 31h1M124 31h1M129 31h1M136 31h1M138 31h1M140 31h2M143 31h4M148 31h1M150 31h1M137 30h4M66 27h2M71 27h1M65 26h1M69 26h6M78 24h1M122 23h1M127 23h2M77 22h2M122 22h1M124 22h4M78 21h1M122 21h1M128 21h1M130 21h3M134 21h1M120 20h3M131 20h1M134 20h2M76 19h1M121 19h1M134 19h2M137 19h3M77 18h1M122 18h2M136 18h1M138 18h2M147 18h3M154 18h1M158 18h1M76 17h1M79 17h1M122 17h2M140 17h5M146 17h2M152 17h1M154 17h3M78 16h1M80 16h1M122 16h1M154 16h5M123 15h1M158 15h2M164 15h1M83 14h2M123 14h1M156 14h1M158 14h3M124 13h1M160 13h3M90 12h2M123 12h1M162 12h2M93 11h1M114 11h1M116 11h1M122 11h1M124 11h1M161 11h5M167 11h1M93 10h1M117 10h8M161 10h1M163 10h1M165 10h2M168 10h1M93 9h1M163 9h2M166 9h2M96 8h1M99 8h1M161 8h1M163 8h1M165 8h5M95 7h1M99 7h2M130 7h1M160 7h5M167 7h1M170 7h1M131 6h1M133 6h1M138 6h1M158 6h3M162 6h4M167 6h2"/>
<path stroke="#009fff" d="M13 186h1M43 186h1M38 185h1M42 185h1M44 185h1M38 184h1M42 184h1M40 183h1M24 159h1M32 152h1M30 151h1M33 151h1M35 151h1M29 150h6M34 146h1M34 145h1M35 144h1M38 144h1M30 139h1M81 138h1M78 137h1M84 137h1M86 137h1M85 136h2M86 135h2M27 134h1M74 134h2M86 134h2M26 133h1M73 133h1M86 133h3M74 132h1M85 132h2M88 132h1M90 132h1M87 131h1M92 131h2M74 130h1M87 130h3M75 129h1M85 129h1M88 129h2M54 128h1M76 128h1M85 128h1M88 128h1M92 128h1M49 127h1M51 127h1M53 127h1M55 127h1M77 127h1M88 127h1M90 127h2M56 126h1M78 126h1M89 126h5M96 126h1M79 125h1M83 125h1M93 125h3M56 124h1M80 124h3M93 124h1M96 124h1M56 123h1M56 122h1M47 121h1M98 121h1M55 120h4M65 120h1M81 120h1M46 119h1M55 119h2M66 119h2M79 119h3M53 118h2M67 118h1M79 118h2M51 117h2M57 117h2M68 117h3M80 117h1M58 116h1M71 116h2M77 116h1M79 116h2M72 115h1M74 115h1M77 115h1M73 114h3M77 114h2M53 113h1M57 113h1M76 113h2M57 112h1M59 112h1M55 111h4M56 110h2M56 109h1M50 108h1M53 108h1M56 108h1M50 107h2M50 106h1M52 106h3M51 105h3M55 105h1M50 104h1M54 104h1M46 103h1M53 103h1M52 102h2M55 102h1M49 101h4M55 101h1M50 100h2M53 100h1M48 99h1M53 99h1M55 99h1M48 98h2M53 98h3M47 97h3M53 97h1M46 96h2M49 96h3M53 96h1M57 96h2M46 95h5M52 95h1M55 95h1M57 95h1M38 94h1M43 94h2M47 94h2M39 93h2M42 93h1M45 93h3M39 92h4M41 91h1M43 91h1M91 89h2M88 88h2M95 88h1M88 87h1M96 87h1M88 86h1M87 85h1M43 83h1M87 83h1M44 82h1M86 82h3M48 81h3M67 81h1M86 81h1M88 81h1M51 80h3M76 80h1M53 79h2M57 79h1M61 79h1M70 79h1M72 79h4M77 79h2M86 79h1M88 79h1M54 78h1M56 78h1M61 78h1M66 78h1M72 78h3M76 78h2M79 78h3M83 78h3M87 78h2M98 78h1M50 77h4M67 77h6M75 77h1M81 77h1M83 77h6M95 77h1M97 77h3M45 76h1M53 76h1M62 76h1M64 76h2M69 76h1M71 76h1M73 76h1M83 76h1M87 76h2M98 76h1M102 76h1M46 75h1M50 75h1M53 75h1M86 75h1M103 75h1M47 74h1M49 74h2M52 74h1M58 74h1M65 74h1M67 74h4M104 74h4M57 73h1M59 73h1M65 73h4M70 73h1M57 72h1M60 72h1M64 72h2M67 72h1M113 72h2M59 71h2M62 71h5M115 71h1M58 70h1M60 70h1M65 70h1M116 70h1M58 69h1M61 68h1M118 68h1M119 67h1M120 66h1M51 63h1M51 62h2M54 62h1M52 61h2M53 60h1M55 60h1M52 59h5M52 58h2M55 58h2M55 57h1M57 57h2M59 56h2M56 55h1M62 55h1M62 54h1M65 54h1M67 54h1M69 53h1M126 50h1M73 49h1M100 49h5M108 49h1M117 49h1M122 49h2M126 49h1M129 49h3M133 49h3M96 48h2M100 48h1M104 48h1M110 48h4M116 48h1M119 48h1M121 48h4M134 48h1M136 48h3M57 47h1M96 47h2M121 47h1M135 47h1M139 47h1M79 46h2M95 46h1M57 45h1M82 45h2M94 45h1M98 45h1M137 45h1M59 44h2M94 44h1M137 44h1M139 44h1M57 43h1M94 43h2M142 43h1M87 42h1M94 42h1M135 42h1M137 42h3M142 42h2M88 41h1M95 41h1M122 41h1M124 41h1M128 41h4M133 41h2M136 41h3M140 41h2M94 40h1M120 40h1M123 40h2M136 40h1M140 40h2M117 39h1M119 39h2M143 39h3M114 38h1M117 38h1M119 38h1M114 37h2M147 37h2M115 36h1M149 36h1M114 35h1M115 34h1M117 34h1M115 33h3M151 33h1M115 32h3M150 32h4M118 31h3M126 31h1M151 31h4M120 30h17M141 30h3M145 30h4M151 30h3M146 29h1M70 28h2M68 27h3M72 27h2M157 25h1M77 24h1M79 24h1M78 23h1M123 23h4M129 23h1M156 23h1M79 22h1M121 22h1M123 22h1M129 22h4M134 22h1M153 22h1M158 22h2M79 21h1M119 21h1M133 21h1M136 21h1M160 21h1M77 20h2M119 20h1M140 20h1M162 20h1M77 19h3M119 19h2M136 19h1M140 19h3M147 19h1M153 19h1M158 19h2M161 19h3M78 18h2M121 18h1M140 18h2M143 18h1M145 18h2M150 18h4M163 18h1M78 17h1M80 17h2M120 17h2M157 17h3M162 17h2M81 16h1M119 16h1M159 16h4M164 16h2M82 15h2M121 15h2M155 15h2M160 15h1M162 15h2M165 15h1M85 14h3M120 14h3M124 14h1M157 14h1M161 14h2M166 14h1M88 13h2M91 13h1M116 13h1M120 13h1M123 13h1M163 13h1M166 13h2M92 12h1M116 12h1M118 12h4M161 12h1M164 12h4M115 11h1M117 11h2M120 11h2M123 11h1M166 11h1M168 11h1M94 10h3M164 10h1M97 9h1M168 9h1M100 8h1M162 8h1M168 7h1"/>
<path stroke="#00b5ff" d="M40 186h3M39 185h3M43 185h1M39 184h3M43 184h1M25 159h1M29 151h1M32 151h1M34 151h1M35 147h1M38 145h1M36 144h2M31 139h1M79 137h1M76 136h3M76 135h2M84 135h2M76 134h1M74 133h2M85 133h1M75 132h1M87 132h1M89 132h1M74 131h1M85 131h2M88 131h1M75 130h1M86 130h1M83 129h2M86 129h2M75 128h1M82 128h3M86 128h2M54 127h1M78 127h1M80 127h8M89 127h1M48 126h3M54 126h2M79 126h5M86 126h2M55 125h1M80 125h1M82 125h1M84 125h2M88 125h1M92 125h1M55 124h1M84 124h2M92 124h1M94 124h2M97 124h1M82 123h2M95 123h2M82 122h1M96 122h3M81 121h2M47 120h2M54 120h1M61 120h1M63 120h2M82 120h1M98 120h1M48 119h1M54 119h1M57 119h1M65 119h1M49 118h2M52 118h1M57 118h2M81 118h2M81 117h1M68 116h3M100 116h1M58 115h1M78 115h2M58 114h1M72 114h1M58 113h2M75 113h1M78 113h2M102 113h1M58 112h1M77 112h3M102 112h1M59 111h1M59 110h1M54 109h2M57 109h1M54 108h2M57 108h2M54 107h2M57 107h1M55 106h2M54 105h1M56 105h2M53 104h1M55 104h3M54 103h2M54 102h1M56 102h1M58 102h2M53 101h2M54 100h2M54 99h1M57 99h1M56 98h3M54 97h5M54 96h3M59 96h1M51 95h1M53 95h2M56 95h1M58 95h3M45 94h1M49 94h2M54 94h1M48 93h2M45 92h4M39 91h2M44 91h2M56 91h1M42 90h1M60 90h1M88 90h1M90 90h3M58 89h1M88 89h2M93 89h2M60 88h1M87 88h1M61 86h1M84 86h1M87 86h1M86 85h1M96 85h1M84 84h1M86 84h1M96 84h1M44 83h2M47 83h2M78 83h9M46 82h4M52 82h2M64 82h1M70 82h2M77 82h2M80 82h1M83 82h2M96 82h1M53 81h2M56 81h1M61 81h2M64 81h1M68 81h1M71 81h1M75 81h1M79 81h1M82 81h1M84 81h2M87 81h1M96 81h1M54 80h2M59 80h1M61 80h1M63 80h3M67 80h2M70 80h1M73 80h3M77 80h1M80 80h3M84 80h1M87 80h2M96 80h3M55 79h1M58 79h1M60 79h1M62 79h2M65 79h1M67 79h2M71 79h1M76 79h1M79 79h7M87 79h1M96 79h3M53 78h1M55 78h1M59 78h2M64 78h2M67 78h4M82 78h1M86 78h1M97 78h1M99 78h1M54 77h1M56 77h1M61 77h1M64 77h2M82 77h1M100 77h1M102 77h1M52 76h1M54 76h2M59 76h1M61 76h1M66 76h3M70 76h1M51 75h2M54 75h1M59 75h1M62 75h1M64 75h5M71 75h1M104 75h4M48 74h1M51 74h1M53 74h2M61 74h4M66 74h1M108 74h2M111 74h1M48 73h1M52 73h5M58 73h1M60 73h5M112 73h1M114 73h1M58 72h2M61 72h1M63 72h1M57 71h2M61 71h1M54 70h4M59 70h1M55 69h1M57 69h1M118 69h1M121 66h1M122 65h3M50 64h1M52 60h1M54 58h1M53 57h2M56 57h1M56 56h3M54 55h2M57 55h2M60 55h2M56 54h1M60 54h2M54 53h4M61 53h5M70 51h1M59 50h1M71 50h1M56 49h2M59 49h1M72 49h1M125 49h1M127 49h2M132 49h1M56 48h4M74 48h1M98 48h2M101 48h3M107 48h3M114 48h1M120 48h1M128 48h2M131 48h3M135 48h1M56 47h1M58 47h3M75 47h3M95 47h1M98 47h1M102 47h2M111 47h7M119 47h2M122 47h2M131 47h1M134 47h1M136 47h3M56 46h6M78 46h1M96 46h2M132 46h1M134 46h1M136 46h2M140 46h1M56 45h1M58 45h3M62 45h1M95 45h1M97 45h1M133 45h1M135 45h2M138 45h1M140 45h1M57 44h2M82 44h3M95 44h2M132 44h3M136 44h1M138 44h1M140 44h2M60 43h1M84 43h2M127 43h1M134 43h1M136 43h6M86 42h1M95 42h1M122 42h1M126 42h1M128 42h2M132 42h2M136 42h1M140 42h2M87 41h1M116 41h1M118 41h1M120 41h2M123 41h1M125 41h3M132 41h1M139 41h1M142 41h3M88 40h1M95 40h1M117 40h3M142 40h4M89 39h1M94 39h1M115 39h1M118 39h1M91 38h2M113 38h1M115 38h1M113 37h1M113 36h1M113 35h1M114 34h1M116 31h1M149 31h1M144 30h1M149 30h2M154 30h2M135 29h1M137 29h5M143 29h3M147 29h3M151 29h1M156 29h1M72 28h2M150 28h2M156 28h1M65 27h1M74 27h1M148 27h2M156 26h2M158 25h1M80 24h1M122 24h4M127 24h3M136 24h1M151 24h1M156 24h1M159 24h1M79 23h2M130 23h3M136 23h1M148 23h1M153 23h1M155 23h1M157 23h4M120 22h1M133 22h1M135 22h1M152 22h1M155 22h3M160 22h1M80 21h1M118 21h1M120 21h2M135 21h1M137 21h1M140 21h1M143 21h1M145 21h1M147 21h1M150 21h1M153 21h6M161 21h1M79 20h2M136 20h3M141 20h3M145 20h5M152 20h2M155 20h7M80 19h1M117 19h2M143 19h4M148 19h5M155 19h1M157 19h1M160 19h1M80 18h3M118 18h3M144 18h1M155 18h3M159 18h1M161 18h2M82 17h1M119 17h1M160 17h1M164 17h1M82 16h3M116 16h1M120 16h2M163 16h1M84 15h1M118 15h3M157 15h1M161 15h1M166 15h1M89 14h1M91 14h1M119 14h1M163 14h3M90 13h1M92 13h1M115 13h1M117 13h3M121 13h2M164 13h2M93 12h2M114 12h2M122 12h1M95 11h1M119 11h1M97 10h2M98 9h4"/>
<path stroke="#00caff" d="M26 155h1M36 147h2M38 146h1M80 137h1M82 137h2M79 136h1M84 136h1M78 135h1M77 134h1M84 134h2M76 133h2M82 132h1M84 132h1M75 131h1M84 131h1M83 130h3M76 129h1M82 129h1M77 128h1M81 128h1M79 127h1M51 126h1M53 126h1M84 126h2M88 126h1M48 125h1M81 125h1M86 125h2M90 125h2M83 124h1M88 124h1M84 123h1M93 123h2M97 123h1M83 122h1M93 122h1M95 122h1M48 121h1M55 121h1M83 121h2M95 121h3M49 120h1M59 120h2M83 120h1M86 120h1M96 120h2M49 119h2M53 119h1M59 119h1M82 119h2M86 119h1M97 119h2M51 118h1M59 118h1M66 118h1M83 118h1M85 118h1M88 118h1M97 118h1M100 118h1M59 117h1M67 117h1M83 117h1M95 117h1M97 117h1M99 117h1M59 116h1M81 116h2M98 116h2M59 115h1M69 115h3M80 115h2M99 115h1M59 114h1M71 114h1M79 114h3M90 114h1M95 114h1M97 114h3M101 114h1M60 113h1M73 113h2M99 113h3M60 112h1M73 112h4M80 112h3M101 112h1M60 111h1M75 111h5M82 111h1M100 111h1M58 110h1M60 110h1M80 110h1M58 109h1M59 108h2M81 108h2M56 107h1M59 107h1M61 107h1M101 107h1M57 106h3M82 106h1M58 105h2M68 105h1M58 104h2M56 103h6M60 102h1M56 101h4M61 101h1M56 100h4M61 100h1M56 99h1M58 99h2M62 99h1M59 98h1M61 98h3M59 97h1M62 97h1M79 97h6M60 96h1M79 96h5M61 95h2M51 94h2M55 94h3M61 94h2M87 94h1M54 93h4M59 93h5M88 93h1M49 92h1M55 92h4M60 92h4M86 92h1M46 91h3M57 91h2M60 91h1M62 91h1M86 91h1M88 91h2M91 91h2M40 90h2M43 90h2M56 90h4M61 90h2M87 90h1M89 90h1M94 90h1M41 89h4M56 89h2M59 89h2M63 89h2M86 89h2M95 89h1M44 88h1M46 88h1M56 88h1M58 88h2M62 88h4M85 88h2M96 88h1M57 87h1M60 87h1M62 87h5M80 87h1M83 87h5M42 86h1M57 86h1M73 86h1M76 86h1M80 86h4M85 86h2M42 85h3M57 85h1M59 85h4M64 85h2M67 85h3M75 85h2M81 85h5M42 84h6M52 84h1M57 84h2M60 84h1M62 84h1M64 84h1M66 84h2M75 84h1M77 84h7M85 84h1M46 83h1M49 83h2M52 83h3M56 83h2M64 83h1M66 83h1M69 83h3M73 83h5M96 83h1M50 82h2M54 82h3M58 82h1M61 82h1M63 82h1M65 82h3M69 82h1M72 82h5M79 82h1M81 82h1M85 82h1M97 82h1M51 81h2M55 81h1M57 81h4M63 81h1M65 81h2M69 81h2M72 81h3M76 81h3M80 81h2M83 81h1M97 81h1M56 80h3M60 80h1M62 80h1M66 80h1M69 80h1M71 80h2M78 80h2M83 80h1M85 80h2M56 79h1M59 79h1M64 79h1M66 79h1M69 79h1M99 79h2M57 78h2M62 78h2M75 78h1M100 78h1M102 78h2M55 77h1M57 77h1M59 77h2M62 77h2M66 77h1M101 77h1M103 77h1M56 76h3M60 76h1M63 76h1M103 76h2M106 76h2M55 75h4M60 75h2M63 75h1M109 75h1M55 74h3M59 74h2M110 74h1M112 74h1M47 73h1M49 73h1M51 73h1M113 73h1M49 72h1M51 72h1M53 72h4M62 72h1M51 71h2M55 71h2M117 70h1M52 69h3M56 69h1M49 68h4M119 68h1M120 67h1M49 66h1M49 65h1M125 65h2M53 56h3M53 55h1M59 55h1M54 54h2M57 54h3M58 53h3M68 53h1M55 52h5M63 52h2M68 52h2M55 51h1M57 51h3M56 50h3M63 50h1M70 50h1M58 49h1M71 49h1M60 48h1M72 48h2M125 48h3M130 48h1M61 47h1M74 47h1M99 47h1M101 47h1M105 47h1M110 47h1M124 47h7M132 47h2M76 46h1M98 46h2M102 46h1M112 46h9M122 46h4M127 46h1M129 46h3M133 46h1M135 46h1M138 46h2M61 45h1M77 45h1M80 45h2M96 45h1M99 45h1M101 45h1M105 45h1M114 45h2M120 45h1M130 45h3M134 45h1M61 44h1M97 44h1M99 44h1M115 44h1M126 44h2M129 44h1M135 44h1M61 43h1M96 43h1M120 43h1M122 43h2M125 43h2M128 43h2M131 43h3M135 43h1M61 42h1M85 42h1M96 42h1M118 42h1M120 42h2M124 42h2M127 42h1M130 42h2M86 41h1M96 41h2M117 41h1M119 41h1M87 40h1M96 40h1M115 40h2M114 39h1M116 39h1M58 38h1M90 38h1M93 38h1M112 38h1M112 37h1M112 36h1M112 35h1M112 34h2M113 33h2M115 31h1M117 30h3M71 29h1M118 29h4M134 29h1M136 29h1M142 29h1M150 29h1M152 29h4M65 28h1M69 28h1M138 28h1M140 28h1M144 28h6M152 28h4M157 28h1M79 27h1M145 27h1M150 27h8M79 26h2M146 26h1M148 26h1M152 26h4M158 26h1M79 25h3M118 25h1M129 25h1M136 25h1M148 25h1M150 25h7M118 24h3M126 24h1M130 24h4M135 24h1M148 24h1M150 24h1M152 24h4M157 24h2M82 23h1M118 23h4M133 23h3M144 23h1M147 23h1M149 23h4M154 23h1M80 22h2M116 22h4M136 22h2M144 22h1M146 22h4M151 22h1M154 22h1M81 21h1M117 21h1M138 21h2M141 21h2M144 21h1M146 21h1M148 21h2M151 21h2M159 21h1M81 20h1M118 20h1M139 20h1M144 20h1M150 20h2M154 20h1M81 19h3M116 19h1M154 19h1M156 19h1M83 18h1M117 18h1M160 18h1M83 17h1M116 17h1M118 17h1M161 17h1M86 16h1M117 16h2M85 15h5M115 15h3M88 14h1M90 14h1M115 14h4M93 13h1M114 13h1M117 12h1M94 11h1M96 11h1M101 10h1"/>
<path stroke="#00dfff" d="M25 156h2M25 155h1M37 146h1M35 145h1M81 137h1M79 135h1M78 134h1M83 134h1M78 133h1M82 133h3M76 132h1M81 132h1M83 132h1M82 131h1M76 130h1M81 130h2M77 129h1M81 129h1M78 128h3M49 125h1M54 125h1M89 125h1M86 124h2M91 124h1M48 123h1M55 123h1M85 123h2M92 123h1M48 122h1M55 122h1M84 122h1M92 122h1M94 122h1M49 121h1M85 121h3M92 121h3M50 120h1M62 120h1M84 120h2M87 120h1M99 120h1M51 119h2M58 119h1M60 119h1M64 119h1M84 119h2M87 119h3M92 119h1M95 119h2M99 119h1M84 118h1M86 118h1M89 118h1M93 118h4M98 118h2M82 117h1M84 117h2M87 117h1M90 117h2M93 117h1M96 117h1M98 117h1M100 117h1M67 116h1M83 116h1M86 116h1M90 116h2M93 116h1M95 116h3M60 115h1M68 115h1M82 115h3M93 115h2M97 115h1M100 115h1M60 114h1M69 114h2M82 114h3M87 114h2M100 114h1M61 113h1M69 113h4M80 113h4M90 113h2M94 113h2M98 113h1M61 112h1M71 112h2M83 112h1M85 112h1M87 112h1M89 112h1M91 112h1M95 112h1M97 112h4M74 111h1M80 111h2M83 111h1M86 111h1M88 111h1M93 111h1M98 111h2M102 111h2M61 110h2M75 110h2M78 110h2M81 110h2M84 110h1M86 110h2M95 110h6M103 110h1M59 109h2M62 109h1M80 109h2M83 109h1M88 109h1M90 109h1M100 109h1M103 109h2M61 108h2M80 108h1M83 108h3M87 108h2M92 108h1M96 108h2M102 108h1M104 108h1M58 107h1M60 107h1M62 107h1M82 107h1M85 107h1M88 107h1M92 107h4M97 107h2M102 107h2M61 106h2M80 106h1M83 106h2M87 106h1M89 106h1M94 106h1M96 106h1M98 106h1M103 106h1M62 105h1M69 105h1M81 105h4M88 105h1M90 105h1M94 105h1M105 105h1M60 104h5M68 104h2M82 104h4M96 104h1M105 104h1M62 103h2M83 103h1M85 103h2M57 102h1M61 102h3M84 102h1M86 102h1M88 102h1M60 101h1M62 101h2M84 101h2M60 100h1M62 100h2M81 100h1M83 100h1M60 99h2M63 99h1M83 99h1M87 99h1M60 98h1M79 98h3M85 98h1M90 98h1M60 97h2M85 97h2M61 96h2M78 96h1M85 96h1M87 96h1M63 95h1M81 95h3M85 95h1M88 95h1M53 94h1M58 94h3M63 94h1M83 94h1M85 94h2M88 94h1M93 94h1M50 93h1M58 93h1M64 93h1M83 93h1M85 93h2M90 93h1M92 93h1M59 92h1M65 92h1M83 92h1M85 92h1M87 92h4M97 92h1M49 91h1M55 91h1M59 91h1M63 91h5M85 91h1M87 91h1M90 91h1M94 91h1M45 90h4M63 90h4M70 90h1M85 90h2M93 90h1M95 90h1M40 89h1M45 89h1M47 89h2M55 89h1M61 89h2M65 89h3M82 89h1M84 89h2M96 89h1M42 88h2M55 88h1M57 88h1M61 88h1M66 88h1M68 88h2M71 88h1M73 88h1M83 88h2M41 87h3M45 87h1M47 87h1M55 87h2M58 87h2M61 87h1M67 87h3M74 87h2M79 87h1M81 87h2M41 86h1M43 86h1M45 86h2M48 86h2M52 86h5M58 86h3M62 86h9M72 86h1M74 86h2M79 86h1M97 86h1M46 85h7M54 85h3M58 85h1M63 85h1M66 85h1M70 85h3M74 85h1M77 85h4M97 85h1M48 84h4M53 84h4M59 84h1M61 84h1M63 84h1M65 84h1M68 84h7M76 84h1M97 84h1M51 83h1M55 83h1M58 83h6M65 83h1M67 83h2M72 83h1M97 83h1M57 82h1M59 82h2M62 82h1M68 82h1M82 82h1M98 82h1M98 81h3M99 80h2M101 79h2M104 79h1M101 78h1M58 77h1M104 77h1M106 77h2M105 76h1M108 76h2M108 75h1M110 75h2M113 74h1M50 73h1M47 72h2M50 72h1M52 72h1M115 72h2M50 71h1M53 71h2M116 71h1M48 70h1M50 70h4M118 70h1M48 69h4M119 69h1M48 68h1M120 68h1M121 67h1M122 66h1M127 65h1M56 51h1M63 51h1M70 49h1M61 48h2M62 47h1M73 47h1M100 47h1M104 47h1M106 47h4M62 46h1M75 46h1M77 46h1M101 46h1M103 46h2M107 46h1M110 46h2M121 46h1M126 46h1M128 46h1M76 45h1M78 45h2M100 45h1M102 45h1M108 45h2M111 45h3M116 45h4M121 45h3M125 45h5M62 44h1M80 44h2M98 44h1M100 44h1M102 44h1M106 44h1M114 44h1M116 44h2M119 44h7M128 44h1M130 44h2M82 43h2M97 43h4M115 43h1M117 43h3M121 43h1M124 43h1M130 43h1M84 42h1M97 42h1M100 42h1M111 42h1M116 42h2M119 42h1M123 42h1M98 41h1M111 41h1M113 41h1M115 41h1M86 40h1M97 40h2M110 40h1M113 40h2M95 39h1M113 39h1M89 38h1M94 38h1M109 38h3M90 37h3M110 37h2M111 36h1M111 35h1M111 34h1M113 32h2M114 31h1M114 30h3M70 29h1M72 29h1M115 29h3M122 29h5M133 29h1M64 28h1M66 28h3M119 28h2M135 28h3M139 28h1M141 28h3M80 27h3M119 27h2M123 27h1M136 27h6M143 27h2M146 27h2M81 26h1M119 26h1M123 26h3M136 26h1M138 26h1M140 26h1M142 26h1M145 26h1M147 26h1M149 26h1M151 26h1M82 25h3M117 25h1M119 25h3M123 25h3M127 25h2M130 25h1M132 25h2M140 25h2M145 25h3M149 25h1M81 24h2M116 24h2M121 24h1M134 24h1M137 24h2M140 24h2M145 24h3M149 24h1M81 23h1M83 23h1M116 23h2M137 23h4M142 23h2M145 23h2M82 22h3M138 22h4M143 22h1M145 22h1M150 22h1M82 21h2M116 21h1M82 20h3M115 20h1M117 20h1M86 19h1M84 18h1M86 18h1M116 18h1M84 17h5M115 17h1M117 17h1M85 16h1M87 16h3M115 16h1M90 15h2M92 14h2M94 13h1M95 12h1M97 11h2M99 10h2"/>
<path stroke="#00f4ff" d="M35 146h2M36 145h2M80 136h1M83 136h1M80 135h1M83 135h1M79 134h4M79 133h1M81 133h1M80 132h1M76 131h1M80 131h2M83 131h1M78 129h3M52 126h1M53 125h1M48 124h1M90 124h1M85 122h2M50 121h1M54 121h1M51 120h1M53 120h1M91 120h5M90 119h2M93 119h2M60 118h1M65 118h1M87 118h1M90 118h1M92 118h1M65 117h2M86 117h1M88 117h2M92 117h1M94 117h1M60 116h1M65 116h2M84 116h2M87 116h1M89 116h1M92 116h1M94 116h1M67 115h1M85 115h8M95 115h2M98 115h1M101 115h1M68 114h1M86 114h1M89 114h1M91 114h4M96 114h1M65 113h4M84 113h3M88 113h2M92 113h2M96 113h2M62 112h1M68 112h3M84 112h1M86 112h1M88 112h1M90 112h1M92 112h3M96 112h1M61 111h2M72 111h2M84 111h2M87 111h1M89 111h4M94 111h2M97 111h1M101 111h1M74 110h1M77 110h1M83 110h1M85 110h1M88 110h3M92 110h3M101 110h2M61 109h1M63 109h1M76 109h4M82 109h1M84 109h4M91 109h9M101 109h2M76 108h1M86 108h1M89 108h3M93 108h3M98 108h4M103 108h1M80 107h2M83 107h2M87 107h1M89 107h3M96 107h1M99 107h2M104 107h2M60 106h1M79 106h1M81 106h1M85 106h2M88 106h1M90 106h4M95 106h1M97 106h1M99 106h4M104 106h2M60 105h2M63 105h1M67 105h1M79 105h2M85 105h3M89 105h1M91 105h3M96 105h4M103 105h2M106 105h1M70 104h1M79 104h1M81 104h1M87 104h4M92 104h4M97 104h1M101 104h4M106 104h1M64 103h2M69 103h1M80 103h1M84 103h1M87 103h1M91 103h1M93 103h5M99 103h2M102 103h1M104 103h4M64 102h3M80 102h1M82 102h2M85 102h1M87 102h1M91 102h2M94 102h4M99 102h1M104 102h1M64 101h1M81 101h1M83 101h1M86 101h1M89 101h1M91 101h1M93 101h6M64 100h1M82 100h1M84 100h6M91 100h1M93 100h2M96 100h2M64 99h2M79 99h1M81 99h2M84 99h3M88 99h3M93 99h4M64 98h1M83 98h2M86 98h2M92 98h5M63 97h1M78 97h1M89 97h2M94 97h2M63 96h1M77 96h1M84 96h1M86 96h1M92 96h2M96 96h1M104 96h1M80 95h1M84 95h1M86 95h2M89 95h1M92 95h2M81 94h2M84 94h1M89 94h2M92 94h1M51 93h3M65 93h1M74 93h1M82 93h1M84 93h1M87 93h1M89 93h1M93 93h6M50 92h1M54 92h1M64 92h1M66 92h1M82 92h1M84 92h1M91 92h3M95 92h2M61 91h1M68 91h1M81 91h1M83 91h2M93 91h1M95 91h1M55 90h1M67 90h3M83 90h2M46 89h1M49 89h1M68 89h7M79 89h1M81 89h1M83 89h1M41 88h1M45 88h1M47 88h3M54 88h1M67 88h1M70 88h1M72 88h1M74 88h2M77 88h2M80 88h3M97 88h1M44 87h1M46 87h1M48 87h2M52 87h3M70 87h4M77 87h2M97 87h2M44 86h1M47 86h1M50 86h1M71 86h1M77 86h2M45 85h1M53 85h1M73 85h1M98 84h1M98 83h1M99 82h1M101 80h1M103 79h1M107 79h1M104 78h4M105 77h1M108 77h2M111 76h1M112 75h2M114 74h1M47 71h3M117 71h1M49 70h1M123 66h1M69 51h1M63 49h1M71 48h1M74 46h1M100 46h1M105 46h2M108 46h2M103 45h2M106 45h2M110 45h1M124 45h1M79 44h1M101 44h1M103 44h3M107 44h4M112 44h2M118 44h1M80 43h1M101 43h1M103 43h6M111 43h3M116 43h1M82 42h2M98 42h2M101 42h1M104 42h2M110 42h1M112 42h4M84 41h2M100 41h3M105 41h1M109 41h2M112 41h1M114 41h1M85 40h1M102 40h1M105 40h2M109 40h1M111 40h2M88 39h1M96 39h1M105 39h1M108 39h2M111 39h2M105 37h1M109 37h1M108 36h3M109 35h2M110 33h1M112 33h1M112 31h2M70 30h1M113 30h1M69 29h1M114 29h1M127 29h1M129 29h1M131 29h2M116 28h3M121 28h3M83 27h1M115 27h1M118 27h1M121 27h2M135 27h1M142 27h1M82 26h2M86 26h1M114 26h1M116 26h3M120 26h3M126 26h4M131 26h1M133 26h3M137 26h1M139 26h1M141 26h1M143 26h2M150 26h1M85 25h3M114 25h3M122 25h1M126 25h1M134 25h2M137 25h3M142 25h1M144 25h1M83 24h4M112 24h4M139 24h1M142 24h3M84 23h3M114 23h2M141 23h1M85 22h1M115 22h1M142 22h1M84 21h1M115 21h1M85 20h2M116 20h1M84 19h2M87 19h1M114 19h1M85 18h1M88 18h1M115 18h1M89 17h1M90 16h1M114 16h1M92 15h1M113 15h2M94 14h1M114 14h1M95 13h1M98 13h1M96 12h3M100 11h2"/>
<path stroke="#0bfff4" d="M81 136h2M81 135h1M80 133h1M77 132h3M79 131h1M50 125h2M49 124h1M89 124h1M49 123h1M87 123h2M91 123h1M49 122h1M87 122h1M53 121h1M90 121h1M52 120h1M88 120h3M61 119h3M61 118h1M64 118h1M91 118h1M60 117h1M88 116h1M66 115h1M61 114h1M67 114h1M85 114h1M87 113h1M63 112h2M66 112h2M63 111h4M71 111h1M96 111h1M63 110h2M73 110h1M91 110h1M64 109h1M74 109h1M89 109h1M63 108h1M77 108h1M79 108h1M77 107h3M86 107h1M77 106h2M64 105h1M70 105h1M95 105h1M100 105h3M65 104h3M78 104h1M80 104h1M86 104h1M91 104h1M98 104h3M66 103h3M79 103h1M81 103h2M88 103h3M92 103h1M98 103h1M101 103h1M103 103h1M67 102h2M79 102h1M81 102h1M89 102h2M93 102h1M98 102h1M100 102h4M105 102h1M107 102h1M65 101h3M79 101h2M82 101h1M87 101h1M90 101h1M92 101h1M99 101h4M104 101h2M65 100h2M79 100h2M90 100h1M92 100h1M95 100h1M98 100h2M102 100h3M106 100h2M66 99h1M80 99h1M91 99h2M97 99h3M102 99h3M106 99h2M78 98h1M82 98h1M88 98h2M91 98h1M97 98h2M104 98h1M106 98h1M64 97h1M77 97h1M87 97h2M91 97h1M93 97h1M96 97h3M64 96h1M89 96h3M94 96h2M97 96h4M103 96h1M76 95h4M91 95h1M94 95h6M64 94h2M76 94h1M91 94h1M94 94h6M66 93h1M73 93h1M75 93h1M81 93h1M91 93h1M51 92h2M67 92h2M72 92h2M75 92h2M80 92h2M94 92h1M98 92h1M50 91h1M54 91h1M69 91h1M71 91h6M78 91h1M82 91h1M96 91h2M49 90h1M54 90h1M71 90h4M76 90h7M96 90h3M113 90h1M53 89h1M75 89h1M77 89h2M80 89h1M97 89h2M52 88h2M76 88h1M79 88h1M50 87h2M76 87h1M51 86h1M98 86h2M98 85h1M116 84h1M99 83h1M103 81h1M102 80h3M105 79h1M108 79h1M108 78h2M110 77h2M110 76h1M112 76h2M114 75h1M115 73h2M120 69h1M122 67h1M124 66h3M63 48h1M70 48h1M71 47h2M73 46h1M74 45h2M77 44h2M111 44h1M78 43h2M81 43h1M102 43h1M109 43h2M114 43h1M80 42h1M102 42h1M106 42h2M109 42h1M82 41h2M99 41h1M106 41h2M84 40h1M99 40h1M101 40h1M108 40h1M83 39h2M97 39h1M101 39h2M106 39h2M110 39h1M106 38h3M93 37h1M108 37h1M107 36h1M107 35h2M109 34h2M109 33h1M111 33h1M111 32h2M111 31h1M112 30h1M64 29h2M67 29h2M113 29h1M128 29h1M130 29h1M114 28h2M124 28h2M134 28h1M114 27h1M116 27h2M124 27h2M133 27h2M84 26h2M113 26h1M115 26h1M130 26h1M113 25h1M131 25h1M143 25h1M87 24h1M111 24h1M87 23h1M110 23h4M86 22h3M113 22h2M85 21h3M114 21h1M87 20h2M88 19h1M115 19h1M87 18h1M89 18h1M114 18h1M90 17h1M114 17h1M91 16h4M112 16h1M95 15h1M95 14h2M96 13h2M99 12h3M99 11h1"/>
<path stroke="#20ffdf" d="M82 135h1M77 131h2M77 130h4M52 125h1M54 124h1M50 123h1M50 122h1M90 122h2M51 121h2M88 121h2M91 121h1M64 117h1M61 115h1M64 115h2M62 114h1M64 114h3M62 113h3M65 112h1M70 111h1M65 110h1M72 110h1M75 109h1M64 108h1M75 108h1M78 108h1M63 107h1M75 107h2M63 106h2M73 106h1M75 106h2M65 105h1M73 105h1M76 105h3M71 104h2M77 104h1M70 103h1M78 103h1M78 102h1M106 102h1M88 101h1M103 101h1M106 101h3M67 100h1M100 100h2M105 100h1M108 100h1M100 99h2M108 99h1M65 98h2M99 98h2M102 98h2M105 98h1M108 98h2M65 97h2M92 97h1M99 97h1M101 97h5M107 97h1M109 97h1M65 96h1M76 96h1M88 96h1M101 96h2M105 96h2M108 96h3M64 95h2M75 95h1M90 95h1M100 95h2M103 95h3M108 95h2M66 94h1M71 94h1M74 94h2M77 94h1M100 94h2M108 94h2M111 94h1M67 93h2M70 93h3M76 93h1M53 92h1M69 92h3M74 92h1M77 92h1M113 92h1M51 91h1M53 91h1M70 91h1M77 91h1M79 91h2M98 91h2M112 91h2M50 90h4M75 90h1M114 90h1M50 89h1M54 89h1M76 89h1M99 89h1M111 89h1M113 89h2M50 88h2M98 88h1M100 88h1M111 88h2M115 88h1M99 87h1M113 87h1M115 87h1M115 86h1M99 85h2M114 85h1M116 85h1M99 84h1M100 82h4M101 81h2M109 81h1M105 80h4M106 79h1M109 79h2M110 78h1M112 77h1M114 76h1M115 75h1M115 74h1M117 72h1M119 70h1M121 68h1M70 47h1M71 46h2M71 45h2M74 44h3M75 43h3M79 42h1M81 42h1M108 42h1M81 41h1M108 41h1M82 40h2M100 40h1M107 40h1M98 39h1M100 39h1M95 38h1M101 38h2M105 38h1M106 37h2M91 36h2M105 36h2M92 35h1M106 35h1M108 33h1M109 32h2M69 30h1M66 29h1M126 28h1M133 28h1M112 27h2M126 27h3M130 27h3M112 26h1M132 26h1M110 25h3M110 24h1M88 23h1M111 22h2M88 21h2M112 21h2M89 20h2M113 20h2M89 19h1M90 18h1M113 18h1M91 17h1M112 17h2M95 16h1M113 16h1M93 15h2M96 15h2M99 13h2"/>
<path stroke="#35ffca" d="M50 124h1M53 124h1M89 123h2M54 122h1M88 122h1M61 117h1M61 116h2M64 116h1M63 115h1M63 114h1M67 111h3M66 110h1M71 110h1M65 109h1M72 109h2M74 108h1M64 107h1M73 107h2M65 106h1M74 106h1M66 105h1M71 105h2M74 105h2M73 104h1M76 104h1M69 102h2M68 101h1M78 101h1M78 99h1M105 99h1M77 98h1M101 98h1M107 98h1M75 97h2M100 97h1M106 97h1M108 97h1M66 96h1M74 96h2M66 95h1M73 95h2M102 95h1M106 95h2M110 95h2M67 94h2M70 94h1M73 94h1M80 94h1M102 94h6M110 94h1M69 93h1M77 93h1M80 93h1M99 93h3M107 93h3M111 93h2M79 92h1M99 92h3M110 92h3M52 91h1M111 91h1M99 90h3M110 90h3M51 89h2M100 89h1M103 89h1M112 89h1M99 88h1M102 88h1M108 88h1M110 88h1M113 88h2M101 87h2M109 87h4M114 87h1M116 87h1M100 86h1M107 86h1M110 86h1M112 86h3M116 86h1M103 85h1M110 85h1M112 85h2M115 85h1M100 84h3M109 84h1M112 84h4M100 83h5M112 83h2M117 83h1M104 82h2M107 82h3M113 82h1M104 81h4M110 81h3M109 80h2M111 78h2M117 73h1M118 71h1M121 69h1M123 67h1M73 45h1M72 44h2M73 43h2M72 42h4M78 42h1M80 41h1M99 39h1M96 38h2M94 37h1M102 37h1M93 36h1M105 35h1M108 34h1M69 31h1M110 31h1M111 30h1M112 29h1M113 28h1M111 26h1M109 25h1M110 22h1M111 21h1M112 20h1M90 19h3M112 19h2M91 18h2M94 18h1M112 18h1M92 17h4M96 16h2M98 15h2M97 14h4M101 13h1"/>
<path stroke="#4affb5" d="M51 124h2M54 123h1M51 122h1M89 122h1M62 118h2M62 117h2M63 116h1M62 115h1M72 108h2M65 107h1M70 106h3M74 104h2M71 103h1M77 103h1M69 101h1M68 100h2M78 100h1M67 99h1M67 98h1M76 98h1M107 96h1M67 95h1M69 94h1M72 94h1M78 94h1M78 93h2M102 93h5M110 93h1M78 92h1M102 92h1M107 92h3M100 91h5M108 91h3M102 90h3M106 90h1M109 90h1M101 89h1M104 89h7M101 88h1M103 88h2M106 88h2M109 88h1M100 87h1M103 87h1M105 87h4M101 86h5M108 86h2M111 86h1M101 85h2M104 85h6M111 85h1M103 84h4M108 84h1M110 84h2M105 83h7M114 83h3M106 82h1M110 82h3M114 82h2M108 81h1M111 80h2M111 79h1M113 78h1M113 77h3M119 71h1M120 70h1M122 68h1M72 43h1M98 38h3M95 37h1M93 35h1M64 34h1M107 34h1M108 32h1M108 31h2M63 30h2M67 30h2M110 30h1M112 28h1M127 28h2M130 28h3M111 27h1M129 27h1M110 21h1M110 20h1M93 19h1M93 18h1"/>
<path stroke="#60ff9f" d="M51 123h1M70 110h1M65 108h1M72 107h1M66 106h4M72 103h1M76 103h1M68 99h1M77 99h1M75 98h1M67 97h1M74 97h1M67 96h1M73 96h1M68 95h1M71 95h2M79 94h1M103 92h4M105 91h3M105 90h1M107 90h2M102 89h1M105 88h1M104 87h1M106 86h1M107 84h1M113 81h1M113 80h1M112 79h1M115 76h1M116 75h1M116 74h2M118 73h1M118 72h1M123 68h1M124 67h2M101 37h1M94 36h1M102 36h1M94 35h1M102 35h1M64 33h1M64 32h1M107 32h1M63 31h2M107 31h1M65 30h1M109 30h1M111 29h1M129 28h1M109 26h2M111 20h1M111 19h1"/>
<path stroke="#75ff8a" d="M52 123h1M52 122h1M67 110h1M66 109h1M71 107h1M71 102h1M77 102h1M70 101h1M77 101h1M77 100h1M69 99h1M75 99h2M68 98h1M74 98h1M73 97h1M72 96h1M69 95h2M116 82h1M114 81h2M113 79h2M116 77h1M116 76h1M117 75h1M120 71h1M122 69h1M96 37h2M99 37h2M95 36h1M101 36h1M65 34h1M102 34h1M106 34h1M65 33h1M101 33h1M107 33h1M66 32h2M65 31h1M67 31h2M66 30h1M108 30h1M111 28h1"/>
<path stroke="#8aff75" d="M53 123h1M53 122h1M69 110h1M71 109h1M73 103h3M70 100h1M76 100h1M70 99h1M72 98h2M68 97h1M70 97h3M68 96h1M70 96h1M114 80h2M114 78h2M119 72h1M121 70h1M124 70h1M124 69h1M124 68h2M98 37h1M95 35h1M101 35h1M100 34h2M100 33h1M65 32h1M66 31h1"/>
<path stroke="#9fff60" d="M68 110h1M66 108h1M71 108h1M66 107h1M72 102h1M71 101h1M76 101h1M71 100h1M71 99h1M73 99h1M70 98h1M69 97h1M69 96h1M71 96h1M115 79h2M116 78h2M117 77h1M117 76h1M118 74h1M121 71h1M122 70h1M123 69h1M100 35h1M108 29h3M108 28h2M108 27h3"/>
<path stroke="#b5ff4a" d="M70 107h1M76 102h1M75 101h1M72 100h1M75 100h1M72 99h1M74 99h1M69 98h1M71 98h1M116 81h1M116 80h1M117 79h3M119 78h1M118 75h1M119 73h1M120 72h1M123 70h1M96 36h2M99 36h2M96 35h1M99 35h1M105 34h1M106 32h1M110 28h1"/>
<path stroke="#caff35" d="M70 109h1M67 107h1M75 102h1M72 101h1M73 100h2M117 82h1M118 78h1M118 77h1M118 76h1M119 74h1M122 71h2M98 36h1M97 35h2"/>
<path stroke="#dfff20" d="M67 109h1M70 108h1M73 102h2M73 101h2M120 78h1M119 77h1M120 73h1M122 72h1M106 33h1"/>
<path stroke="#f4ff0b" d="M69 109h1M67 108h1M69 107h1M118 80h1M119 76h1M119 75h1M121 72h1M105 33h1"/>
<path stroke="#fff400" d="M68 109h1M69 108h1M68 107h1M117 80h1M120 77h1M120 75h1M120 74h1M121 73h2"/>
<path stroke="#ffdf00" d="M68 108h1M120 76h2M121 75h1M121 74h1"/>
<path stroke="#ffca00" d="M117 81h1M122 74h1"/>
<path stroke="#ffb500" d="M118 81h1"/>
</g>
<path d="M756.9 1848.3L730.5 1832.0l5.2 -13.0M792.2 1848.3L765.6 1832.3l5.0 -13.1M827.5 1848.3L800.9 1832.3l5.0 -13.1M1004.1 1848.3L1019.3 1875.3l-10.8 8.9M1039.4 1848.3L1054.8 1875.2l-10.7 9.0M1052.7 1871.5l-10.7 9.0M1074.7 1848.3L1090.1 1875.2l-10.8 9.0M756.9 1813.0L726.4 1818.5l-4.8 -13.1M792.2 1813.0L771.2 1790.2l4.2 -5.6M827.5 1813.0L800.8 1797.2l4.9 -13.1M968.7 1813.0L983.0 1840.5l-11.1 8.5M1004.1 1813.0L1019.4 1839.9l-10.8 8.9M1039.4 1813.0L1054.8 1839.8l-10.7 9.0M1074.7 1813.0L1090.1 1839.9l-10.7 9.0M1110.0 1813.0L1124.9 1840.1l-10.9 8.8M1251.2 1813.0L1266.3 1840.0l-10.9 8.8M1286.5 1813.0L1301.5 1840.1l-10.9 8.8M792.2 1777.7L765.4 1762.0l4.9 -13.1M827.5 1777.7L800.9 1761.8l5.0 -13.1M968.7 1777.7L983.3 1805.0l-11.0 8.6M827.5 1742.4L803.4 1722.9l6.8 -12.2M827.5 1707.1L807.5 1683.4l9.0 -10.8M1286.5 1707.1L1315.9 1717.0l-2.1 13.8M1321.8 1707.1L1348.7 1722.4l-4.7 13.2M1357.1 1707.1L1367.0 1736.4l-6.1 3.3M862.8 1671.8L845.9 1645.8l10.2 -9.6M1251.2 1671.8L1267.3 1698.2l-10.5 9.2M1286.5 1671.8L1317.5 1672.4l2.2 13.8M1321.8 1671.8L1323.5 1702.7l-6.8 1.6M1357.1 1671.8L1366.7 1701.2l-6.2 3.3M1392.4 1671.8L1415.0 1693.0l-3.8 5.9M862.8 1636.4L870.2 1606.3l14.0 0.9M1215.9 1636.4L1225.4 1665.9l-12.4 6.6M1251.2 1636.4L1274.0 1657.5l-7.6 11.8M1286.5 1636.4L1297.3 1665.5l-12.1 7.1M1321.8 1636.4L1315.2 1666.7l-14.0 -0.6M1357.1 1636.4L1386.3 1647.0l-1.2 6.9M1392.4 1636.4L1387.1 1667.0l-7.0 0.0M827.5 1601.1L848.4 1578.3l11.8 7.5M862.8 1601.1L888.9 1584.4l9.5 10.3M898.1 1601.1L924.5 1584.9l9.3 10.5M1180.6 1601.1L1207.4 1616.6l-4.8 13.2M1215.9 1601.1L1225.2 1630.7l-12.4 6.5M1251.2 1601.1L1244.2 1631.3l-7.0 -0.4M1286.5 1601.1L1316.0 1610.7l-1.0 6.9M1321.8 1601.1L1302.8 1625.6l-12.4 -6.5M1357.1 1601.1L1340.7 1627.4l-13.0 -5.2M1392.4 1601.1L1408.8 1627.5l-5.2 4.7M827.5 1565.8L852.6 1547.7l10.1 9.7M862.8 1565.8L889.5 1550.1l9.1 10.6M898.1 1565.8L924.9 1550.1l9.1 10.7M933.4 1565.8L962.3 1554.4l7.3 11.9M968.7 1565.8L998.6 1557.6l6.0 12.7M1145.3 1565.8L1127.5 1591.2l-6.3 -3.0M1180.6 1565.8L1205.6 1584.2l-3.1 6.3M1215.9 1565.8L1208.5 1595.9l-7.0 -0.5M1251.2 1565.8L1267.0 1592.5l-5.3 4.6M1286.5 1565.8L1312.8 1582.2l-2.6 6.5M1321.8 1565.8L1339.0 1591.6l-5.1 4.8M1357.1 1565.8L1342.9 1593.4l-6.7 -2.1M1392.4 1565.8L1410.3 1591.1l-4.9 5.0M1427.7 1565.8L1434.5 1596.1l-6.5 2.7M898.1 1530.5L923.8 1513.2l9.7 10.1M933.4 1530.5L961.0 1516.4l8.4 11.2M957.3 1518.3l8.4 11.2M968.7 1530.5L998.1 1520.6l6.7 12.3M994.1 1521.9l6.7 12.3M1004.1 1530.5L1033.6 1521.2l6.5 12.4M1039.4 1530.5L1047.2 1560.5l-12.7 5.8M1074.7 1530.5L1046.1 1542.6l-7.6 -11.8M1110.0 1530.5L1086.9 1551.2l-11.0 -8.7M1145.3 1530.5L1114.8 1525.0l0.0 -7.0M1180.6 1530.5L1164.3 1556.9l-6.5 -2.6M1215.9 1530.5L1228.5 1558.8l-5.8 3.9M1251.2 1530.5L1246.5 1561.2l-7.0 0.2M1286.5 1530.5L1301.5 1557.7l-5.4 4.4M1321.8 1530.5L1349.8 1543.8l-1.9 6.7M1357.1 1530.5L1373.9 1556.6l-5.1 4.7M1392.4 1530.5L1364.0 1542.8l-3.8 -5.8M1427.7 1530.5L1435.8 1560.5l-6.3 3.0M862.8 1495.2L869.9 1465.0l14.0 0.8M898.1 1495.2L907.6 1465.7l13.9 1.9M968.7 1495.2L990.0 1472.6l11.7 7.7M987.1 1475.7l11.7 7.7M1004.1 1495.2L1017.1 1467.1l13.5 3.6M1015.3 1470.9l13.5 3.6M1110.0 1495.2L1085.0 1513.6l-5.1 -4.8M1145.3 1495.2L1122.0 1515.6l-5.5 -4.4M1180.6 1495.2L1149.7 1497.8l-1.8 -6.8M1215.9 1495.2L1210.5 1525.7l-7.0 -0.0M1251.2 1495.2L1221.2 1503.2l-2.9 -6.4M1286.5 1495.2L1314.3 1508.9l-1.9 6.7M1321.8 1495.2L1351.5 1504.3l-0.9 6.9M1357.1 1495.2L1371.5 1522.7l-11.1 8.5M1392.4 1495.2L1407.4 1522.4l-5.5 4.4M1427.7 1495.2L1398.6 1505.7l-3.5 -6.1M862.8 1459.9L859.3 1429.1l6.7 -2.0M898.1 1459.9L874.8 1439.5l7.2 -12.0M933.4 1459.9L912.5 1437.1l8.5 -11.1M1004.1 1459.9L976.8 1445.2l4.4 -13.3M1145.3 1459.9L1117.0 1447.2l3.4 -13.6M1180.6 1459.9L1151.5 1449.2l1.2 -6.9M1215.9 1459.9L1219.1 1490.7l-6.7 1.9M1251.2 1459.9L1223.8 1474.5l-8.6 -11.0M1286.5 1459.9L1279.2 1490.0l-7.0 -0.4M1321.8 1459.9L1314.5 1490.0l-14.0 -0.9M1357.1 1459.9L1349.6 1490.0l-14.0 -1.0M1427.7 1459.9L1425.7 1490.8l-13.9 1.5M1463.0 1459.9L1451.9 1488.9l-13.7 -2.7M862.8 1424.6L836.2 1408.8l5.0 -13.1M898.1 1424.6L871.7 1408.5l5.1 -13.0M933.4 1424.6L907.7 1407.3l5.7 -12.8M968.7 1424.6L943.3 1406.8l5.9 -12.7M1145.3 1424.6L1136.9 1394.8l6.3 -3.0M1180.6 1424.6L1150.2 1430.7l-2.5 -6.5M1215.9 1424.6L1205.6 1395.4l12.2 -6.9M1251.2 1424.6L1240.3 1453.6l-13.8 -2.6M1286.5 1424.6L1260.5 1441.4l-9.5 -10.3M1321.8 1424.6L1297.9 1444.4l-10.7 -9.1M1357.1 1424.6L1339.8 1450.3l-12.8 -5.7M1392.4 1424.6L1375.6 1450.6l-12.9 -5.4M1427.7 1424.6L1412.7 1451.7l-13.2 -4.6M1463.0 1424.6L1451.8 1453.5l-13.7 -2.7M898.1 1389.3L871.4 1373.6l4.9 -13.1M875.0 1375.7l4.9 -13.1M933.4 1389.3L907.0 1373.0l5.2 -13.0M968.7 1389.3L943.0 1372.1l5.6 -12.8M1110.0 1389.3L1080.9 1378.6l2.5 -13.8M1145.3 1389.3L1115.0 1382.5l0.6 -14.0M1180.6 1389.3L1159.8 1366.3l4.3 -5.5M1215.9 1389.3L1196.6 1413.6l-12.3 -6.7M1251.2 1389.3L1221.7 1398.8l-6.6 -12.4M1286.5 1389.3L1259.7 1404.8l-9.0 -10.7M1321.8 1389.3L1295.9 1406.3l-9.6 -10.2M1299.4 1404.0l-9.6 -10.2M1357.1 1389.3L1337.5 1413.3l-12.2 -6.9M1340.1 1410.0l-12.2 -6.9M1392.4 1389.3L1374.8 1414.8l-12.7 -5.8M1377.2 1411.4l-12.7 -5.8M1427.7 1389.3L1411.9 1415.9l-13.1 -5.0M1414.0 1412.3l-13.1 -5.0M1463.0 1389.3L1452.1 1418.3l-13.8 -2.6M898.1 1354.0L871.3 1338.4l4.8 -13.1M933.4 1354.0L906.8 1338.1l5.0 -13.1M1110.0 1354.0L1081.9 1340.7l3.7 -13.5M1145.3 1354.0L1116.8 1341.8l3.2 -13.6M1180.6 1354.0L1152.4 1341.2l3.5 -13.6M1215.9 1354.0L1186.3 1344.7l1.8 -13.9M1251.2 1354.0L1220.6 1359.0l-4.6 -13.2M1286.5 1354.0L1258.6 1367.5l-8.2 -11.3M1321.8 1354.0L1296.0 1371.2l-9.7 -10.1M1299.5 1368.8l-9.7 -10.1M1357.1 1354.0L1336.8 1377.4l-12.0 -7.2M1339.6 1374.2l-12.0 -7.2M1392.4 1354.0L1375.8 1380.2l-12.9 -5.3M1378.1 1376.6l-12.9 -5.3M1427.7 1354.0L1413.3 1381.4l-13.3 -4.3M1415.2 1377.7l-13.3 -4.3M1463.0 1354.0L1451.5 1382.8l-13.7 -2.9M1453.1 1378.9l-13.7 -2.9M1498.4 1354.0L1488.2 1383.3l-13.8 -2.2M1110.0 1318.7L1093.0 1292.8l10.2 -9.6M1095.3 1296.3l10.2 -9.6M1145.3 1318.7L1123.7 1296.5l8.2 -11.4M1126.6 1299.5l8.2 -11.4M1180.6 1318.7L1160.1 1295.4l8.8 -10.9M1215.9 1318.7L1192.1 1298.8l7.0 -12.1M1251.2 1318.7L1220.2 1320.1l-3.1 -13.7M1286.5 1318.7L1257.4 1329.4l-7.0 -12.1M1321.8 1318.7L1294.0 1332.4l-8.3 -11.3M1357.1 1318.7L1337.3 1342.6l-12.2 -6.9M1340.0 1339.3l-12.2 -6.9M1392.4 1318.7L1378.3 1346.3l-13.4 -4.1M1380.2 1342.6l-13.4 -4.1M1427.7 1318.7L1414.6 1346.7l-13.5 -3.7M1416.4 1342.9l-13.5 -3.7M1463.0 1318.7L1452.7 1347.9l-13.8 -2.3M1454.1 1343.9l-13.8 -2.3M1498.4 1318.7L1490.0 1348.5l-13.9 -1.4M1491.2 1344.5l-13.9 -1.4M1110.0 1283.4L1095.2 1256.1l11.0 -8.7M1097.2 1259.8l11.0 -8.7M1145.3 1283.4L1126.1 1259.0l9.3 -10.4M1128.7 1262.3l9.3 -10.4M1180.6 1283.4L1160.5 1259.7l8.9 -10.8M1215.9 1283.4L1192.8 1262.7l7.4 -11.9M1251.2 1283.4L1220.2 1284.6l-3.0 -13.7M1286.5 1283.4L1257.5 1294.2l-7.1 -12.1M1321.8 1283.4L1293.8 1296.7l-8.1 -11.4M1357.1 1283.4L1337.8 1307.6l-12.3 -6.7M1392.4 1283.4L1378.6 1311.1l-13.4 -4.0M1380.5 1307.4l-13.4 -4.0M1427.7 1283.4L1414.9 1311.6l-13.6 -3.5M1416.6 1307.8l-13.6 -3.5M1463.0 1283.4L1453.6 1312.9l-13.9 -1.9M1454.9 1308.9l-13.9 -1.9M1498.4 1283.4L1490.3 1313.3l-13.9 -1.2M1491.4 1309.3l-13.9 -1.2M1533.7 1283.4L1526.1 1313.4l-14.0 -1.0M1527.1 1309.4l-14.0 -1.0M1074.7 1248.1L1061.2 1220.2l11.4 -8.2M1110.0 1248.1L1094.9 1221.0l10.9 -8.8M1096.9 1224.7l10.9 -8.8M1145.3 1248.1L1126.4 1223.5l9.4 -10.3M1128.9 1226.8l9.4 -10.3M1180.6 1248.1L1158.3 1226.5l7.8 -11.6M1161.3 1229.4l7.8 -11.6M1215.9 1248.1L1189.3 1232.1l5.0 -13.1M1192.9 1234.2l5.0 -13.1M1251.2 1248.1L1220.2 1246.8l-1.9 -13.9M1224.4 1247.0l-1.9 -13.9M1286.5 1248.1L1257.3 1258.5l-6.9 -12.2M1321.8 1248.1L1295.8 1265.0l-9.6 -10.2M1357.1 1248.1L1338.7 1273.0l-12.5 -6.3M1341.2 1269.6l-12.5 -6.3M1392.4 1248.1L1379.1 1276.1l-13.5 -3.7M1380.9 1272.3l-13.5 -3.7M1427.7 1248.1L1416.9 1277.1l-13.8 -2.6M1418.3 1273.2l-13.8 -2.6M1463.0 1248.1L1455.2 1278.1l-14.0 -1.1M1456.3 1274.0l-14.0 -1.1M1498.4 1248.1L1492.2 1278.5l-14.0 -0.3M1493.0 1274.3l-14.0 -0.3M1533.7 1248.1L1529.1 1278.7l-14.0 0.4M1529.7 1274.6l-14.0 0.4M1039.4 1212.8L1028.2 1183.8l12.0 -7.2M1074.7 1212.8L1063.1 1184.0l11.9 -7.4M1110.0 1212.8L1096.5 1184.9l11.4 -8.2M1145.3 1212.8L1126.9 1187.8l9.7 -10.1M1180.6 1212.8L1158.2 1191.3l7.8 -11.6M1161.3 1194.2l7.8 -11.6M1215.9 1212.8L1189.4 1196.7l5.0 -13.1M1192.9 1198.9l5.0 -13.1M1251.2 1212.8L1220.5 1208.8l-0.6 -14.0M1224.6 1209.3l-0.6 -14.0M1286.5 1212.8L1257.3 1223.1l-6.9 -12.2M1261.2 1221.7l-6.9 -12.2M1321.8 1212.8L1298.8 1233.5l-11.0 -8.6M1301.9 1230.7l-11.0 -8.6M1357.1 1212.8L1342.1 1239.9l-13.2 -4.5M1344.2 1236.2l-13.2 -4.5M1392.4 1212.8L1382.3 1242.1l-13.8 -2.2M1383.7 1238.1l-13.8 -2.2M1427.7 1212.8L1419.6 1242.7l-13.9 -1.3M1420.7 1238.6l-13.9 -1.3M1463.0 1212.8L1458.0 1243.4l-14.0 0.2M1458.7 1239.2l-14.0 0.2M1498.4 1212.8L1495.4 1243.6l-14.0 1.1M1495.8 1239.4l-14.0 1.1M1533.7 1212.8L1532.1 1243.7l-13.9 1.7M1532.3 1239.5l-13.9 1.7M1569.0 1212.8L1570.8 1243.7l-13.6 3.3M1570.6 1239.5l-13.6 3.3M968.7 1177.5L958.2 1148.3l12.1 -7.0M1004.1 1177.5L993.7 1148.2l12.2 -6.9M1039.4 1177.5L1029.3 1148.1l12.2 -6.8M1074.7 1177.5L1063.3 1148.6l11.9 -7.3M1110.0 1177.5L1096.8 1149.4l11.5 -8.0M1145.3 1177.5L1127.4 1152.1l9.9 -9.9M1180.6 1177.5L1158.3 1155.9l7.8 -11.6M1161.3 1158.8l7.8 -11.6M1215.9 1177.5L1189.5 1161.1l5.2 -13.0M1193.1 1163.3l5.2 -13.0M1251.2 1177.5L1220.7 1172.2l-0.1 -14.0M1224.8 1172.9l-0.1 -14.0M1286.5 1177.5L1257.6 1188.8l-7.3 -12.0M1261.6 1187.2l-7.3 -12.0M1321.8 1177.5L1301.8 1201.1l-12.1 -7.1M1304.5 1197.9l-12.1 -7.1M1357.1 1177.5L1345.3 1206.1l-13.7 -3.0M1346.9 1202.2l-13.7 -3.0M1392.4 1177.5L1384.5 1207.4l-13.9 -1.2M1385.6 1203.4l-13.9 -1.2M1427.7 1177.5L1421.5 1207.8l-14.0 -0.4M1422.3 1203.7l-14.0 -0.4M1463.0 1177.5L1459.8 1208.3l-14.0 1.0M1460.3 1204.1l-14.0 1.0M1498.4 1177.5L1496.0 1208.4l-13.9 1.4M1496.3 1204.2l-13.9 1.4M1533.7 1177.5L1532.5 1208.4l-13.9 1.9M1532.6 1204.2l-13.9 1.9M1569.0 1177.5L1571.4 1208.4l-13.6 3.5M1571.1 1204.2l-13.6 3.5M968.7 1142.1L960.6 1112.2l12.7 -6.0M1004.1 1142.1L996.4 1112.1l12.8 -5.8M1039.4 1142.1L1032.3 1112.0l12.9 -5.5M1074.7 1142.1L1066.4 1112.3l12.6 -6.0M1110.0 1142.1L1099.7 1112.9l12.2 -6.9M1101.1 1116.9l12.2 -6.9M1145.3 1142.1L1131.2 1114.5l11.2 -8.4M1133.1 1118.3l11.2 -8.4M1180.6 1142.1L1162.1 1117.3l9.6 -10.2M1164.6 1120.6l9.6 -10.2M1215.9 1142.1L1192.8 1121.5l7.4 -11.9M1195.9 1124.3l7.4 -11.9M1251.2 1142.1L1221.8 1132.2l2.1 -13.8M1225.8 1133.6l2.1 -13.8M1286.5 1142.1L1258.4 1155.2l-8.0 -11.5M1262.2 1153.4l-8.0 -11.5M1321.8 1142.1L1307.8 1169.8l-13.4 -4.1M1309.7 1166.1l-13.4 -4.1M1357.1 1142.1L1351.8 1172.7l-14.0 0.0M1352.5 1168.5l-14.0 0.0M1392.4 1142.1L1390.1 1173.1l-13.9 1.4M1390.4 1168.9l-13.9 1.4M1427.7 1142.1L1426.6 1173.1l-13.9 1.9M1426.8 1168.9l-13.9 1.9M1463.0 1142.1L1463.0 1173.1l-13.8 2.4M1463.0 1168.9l-13.8 2.4M1498.4 1142.1L1498.3 1173.1l-13.8 2.4M1498.3 1168.9l-13.8 2.4M1533.7 1142.1L1534.5 1173.1l-13.7 2.8M1534.4 1168.9l-13.7 2.8M1569.0 1142.1L1571.8 1173.0l-13.5 3.7M1571.4 1168.8l-13.5 3.7M1604.3 1142.1L1608.6 1172.9l-13.3 4.3M1608.0 1168.7l-13.3 4.3M968.7 1106.8L964.3 1076.2l13.3 -4.4M1004.1 1106.8L999.8 1076.1l13.3 -4.3M1039.4 1106.8L1036.6 1076.0l13.5 -3.6M1074.7 1106.8L1072.4 1075.9l13.6 -3.4M1110.0 1106.8L1105.3 1076.2l13.3 -4.5M1105.9 1080.3l13.3 -4.5M1145.3 1106.8L1137.7 1076.8l12.8 -5.7M1138.8 1080.8l12.8 -5.7M1180.6 1106.8L1171.0 1077.4l12.4 -6.6M1172.3 1081.4l12.4 -6.6M1215.9 1106.8L1203.0 1078.7l11.5 -8.0M1204.7 1082.5l11.5 -8.0M1251.2 1106.8L1232.0 1082.5l9.3 -10.5M1234.6 1085.8l9.3 -10.5M1286.5 1106.8L1263.2 1127.3l-10.9 -8.8M1266.4 1124.5l-10.9 -8.8M1321.8 1106.8L1324.6 1137.7l-13.5 3.7M1324.2 1133.5l-13.5 3.7M1323.8 1129.4l-13.5 3.7M1357.1 1106.8L1362.7 1137.3l-13.1 4.9M1362.0 1133.2l-13.1 4.9M1392.4 1106.8L1397.7 1137.4l-13.2 4.8M1397.0 1133.2l-13.2 4.8M1427.7 1106.8L1432.3 1137.5l-13.3 4.4M1431.7 1133.3l-13.3 4.4M1463.0 1106.8L1466.9 1137.6l-13.4 4.1M1466.4 1133.4l-13.4 4.1M1498.4 1106.8L1500.7 1137.8l-13.6 3.5M1500.4 1133.6l-13.6 3.5M1533.7 1106.8L1536.1 1137.7l-13.6 3.5M1535.8 1133.6l-13.6 3.5M1569.0 1106.8L1574.3 1137.4l-13.2 4.8M1573.6 1133.2l-13.2 4.8M1604.3 1106.8L1611.7 1136.9l-12.8 5.7M1610.7 1132.9l-12.8 5.7M1004.1 1071.5L1000.5 1040.7l13.4 -4.0M1039.4 1071.5L1038.9 1040.5l13.8 -2.6M1074.7 1071.5L1073.8 1040.5l13.7 -2.8M1110.0 1071.5L1108.2 1040.6l13.6 -3.2M1108.5 1044.8l13.6 -3.2M1145.3 1071.5L1143.2 1040.6l13.6 -3.3M1143.5 1044.8l13.6 -3.3M1180.6 1071.5L1178.4 1040.6l13.6 -3.4M1178.7 1044.8l13.6 -3.4M1215.9 1071.5L1215.5 1040.5l13.8 -2.6M1215.6 1044.7l13.8 -2.6M1251.2 1071.5L1258.9 1041.5l14.0 1.1M1257.8 1045.6l14.0 1.1M1286.5 1071.5L1316.6 1064.1l5.7 12.8M1312.5 1065.1l5.7 12.8M1308.4 1066.1l5.7 12.8M1321.8 1071.5L1346.4 1090.4l-6.4 12.4M1343.1 1087.8l-6.4 12.4M1339.8 1085.3l-6.4 12.4M1357.1 1071.5L1374.0 1097.5l-10.2 9.6M1371.7 1094.0l-10.2 9.6M1392.4 1071.5L1403.5 1100.5l-12.0 7.2M1402.0 1096.6l-12.0 7.2M1427.7 1071.5L1436.1 1101.4l-12.6 6.1M1435.0 1097.3l-12.6 6.1M1463.0 1071.5L1470.2 1101.7l-12.9 5.5M1469.2 1097.6l-12.9 5.5M1498.4 1071.5L1501.2 1102.4l-13.5 3.7M1500.8 1098.2l-13.5 3.7M1533.7 1071.5L1536.6 1102.4l-13.5 3.7M1536.2 1098.2l-13.5 3.7M1569.0 1071.5L1575.6 1101.8l-13.0 5.3M1574.7 1097.7l-13.0 5.3M1604.3 1071.5L1612.1 1101.5l-12.7 5.8M1611.1 1097.5l-12.7 5.8M1639.6 1071.5L1647.1 1101.6l-12.8 5.7M1646.0 1097.5l-12.8 5.7M1004.1 1036.2L1005.0 1005.2l13.9 -2.0M1004.8 1009.4l13.9 -2.0M1039.4 1036.2L1044.0 1005.6l14.0 -0.3M1043.4 1009.7l14.0 -0.3M1074.7 1036.2L1078.9 1005.5l14.0 -0.5M1078.3 1009.7l14.0 -0.5M1110.0 1036.2L1113.6 1005.4l14.0 -0.8M1113.1 1009.6l14.0 -0.8M1145.3 1036.2L1149.2 1005.5l14.0 -0.7M1148.6 1009.6l14.0 -0.7M1180.6 1036.2L1185.8 1005.7l14.0 -0.1M1185.1 1009.8l14.0 -0.1M1215.9 1036.2L1225.6 1006.8l13.9 2.0M1224.3 1010.8l13.9 2.0M1251.2 1036.2L1270.0 1011.6l12.4 6.4M1267.5 1014.9l12.4 6.4M1286.5 1036.2L1315.1 1024.1l7.6 11.7M1311.2 1025.8l7.6 11.7M1321.8 1036.2L1352.6 1039.5l0.9 14.0M1348.5 1039.1l0.9 14.0M1357.1 1036.2L1384.2 1051.4l-4.6 13.2M1380.5 1049.3l-4.6 13.2M1392.4 1036.2L1414.4 1058.1l-8.0 11.5M1411.4 1055.1l-8.0 11.5M1427.7 1036.2L1447.1 1060.4l-9.2 10.5M1444.5 1057.1l-9.2 10.5M1463.0 1036.2L1479.3 1062.6l-10.5 9.3M1477.1 1059.1l-10.5 9.3M1498.4 1036.2L1509.8 1065.0l-11.9 7.4M1508.3 1061.1l-11.9 7.4M1533.7 1036.2L1543.9 1065.5l-12.2 6.8M1542.5 1061.5l-12.2 6.8M1569.0 1036.2L1576.9 1066.2l-12.7 5.9M1575.9 1062.1l-12.7 5.9M1604.3 1036.2L1609.8 1066.7l-13.1 4.9M1609.1 1062.6l-13.1 4.9M1639.6 1036.2L1643.2 1067.0l-13.4 4.0M1642.7 1062.8l-13.4 4.0M1039.4 1000.9L1049.4 971.6l13.8 2.2M1048.0 975.6l13.8 2.2M1074.7 1000.9L1085.6 971.9l13.8 2.6M1084.1 975.8l13.8 2.6M1110.0 1000.9L1120.0 971.6l13.8 2.2M1118.7 975.6l13.8 2.2M1145.3 1000.9L1155.0 971.5l13.9 2.0M1153.7 975.5l13.9 2.0M1180.6 1000.9L1192.4 972.3l13.7 3.0M1190.8 976.1l13.7 3.0M1215.9 1000.9L1231.3 974.0l13.2 4.8M1229.3 977.7l13.2 4.8M1251.2 1000.9L1273.1 979.0l11.5 8.0M1270.2 982.0l11.5 8.0M1286.5 1000.9L1313.7 986.1l8.7 11.0M1310.1 988.1l8.7 11.0M1321.8 1000.9L1352.0 993.8l5.5 12.9M1347.9 994.8l5.5 12.9M1357.1 1000.9L1388.1 1002.7l1.6 13.9M1383.9 1002.5l1.6 13.9M1392.4 1000.9L1423.3 1003.4l1.3 13.9M1419.1 1003.1l1.3 13.9M1427.7 1000.9L1458.5 1004.4l0.9 14.0M1454.4 1003.9l0.9 14.0M1463.0 1000.9L1489.2 1017.5l-5.3 12.9M1485.7 1015.3l-5.3 12.9M1498.4 1000.9L1521.5 1021.5l-7.3 11.9M1518.4 1018.7l-7.3 11.9M1533.7 1000.9L1554.7 1023.7l-8.5 11.2M1551.9 1020.6l-8.5 11.2M1569.0 1000.9L1577.4 1030.7l-12.6 6.1M1576.3 1026.7l-12.6 6.1M1604.3 1000.9L1603.7 1031.9l-13.8 2.2M1603.7 1027.7l-13.8 2.2M1639.6 1000.9L1637.5 1031.8l-13.9 1.5M1637.8 1027.7l-13.9 1.5M1674.9 1000.9L1671.0 1031.7l-14.0 0.7M1671.6 1027.5l-14.0 0.7M1039.4 965.6L1050.0 936.5l13.8 2.4M1048.5 940.4l13.8 2.4M1074.7 965.6L1086.8 937.1l13.6 3.1M1085.1 940.9l13.6 3.1M1110.0 965.6L1122.0 937.0l13.6 3.1M1120.4 940.9l13.6 3.1M1145.3 965.6L1157.7 937.2l13.6 3.3M1156.1 941.1l13.6 3.3M1180.6 965.6L1194.5 937.9l13.4 4.0M1192.6 941.7l13.4 4.0M1215.9 965.6L1232.8 939.6l12.9 5.5M1230.5 943.2l12.9 5.5M1251.2 965.6L1273.6 944.2l11.3 8.3M1270.6 947.1l11.3 8.3M1286.5 965.6L1312.3 948.3l9.7 10.1M1308.8 950.7l9.7 10.1M1321.8 965.6L1349.9 952.4l8.1 11.4M1346.1 954.2l8.1 11.4M1357.1 965.6L1387.6 959.8l5.0 13.1M1383.5 960.6l5.0 13.1M1392.4 965.6L1423.1 961.2l4.4 13.3M1419.0 961.8l4.4 13.3M1427.7 965.6L1458.4 961.3l4.3 13.3M1454.3 961.9l4.3 13.3M1463.0 965.6L1491.8 977.3l-2.9 13.7M1498.4 965.6L1522.4 985.1l-6.8 12.2M1533.7 965.6L1557.0 986.1l-7.3 12.0M1553.8 983.3l-7.3 12.0M1569.0 965.6L1578.7 995.0l-12.3 6.6M1577.4 991.1l-12.3 6.6M1604.3 965.6L1602.6 996.6l-13.9 1.7M1602.9 992.4l-13.9 1.7M1639.6 965.6L1636.9 996.5l-13.9 1.2M1637.3 992.3l-13.9 1.2M1674.9 965.6L1670.2 996.3l-14.0 0.3M1670.8 992.1l-14.0 0.3M1039.4 930.3L1050.1 901.2l13.8 2.5M1048.6 905.2l13.8 2.5M1074.7 930.3L1086.0 901.4l13.7 2.8M1084.4 905.3l13.7 2.8M1110.0 930.3L1122.0 901.7l13.6 3.1M1120.4 905.6l13.6 3.1M1145.3 930.3L1159.4 902.7l13.4 4.1M1157.5 906.4l13.4 4.1M1180.6 930.3L1196.6 903.8l13.1 5.0M1194.4 907.4l13.1 5.0M1215.9 930.3L1234.4 905.5l12.5 6.3M1231.9 908.8l12.5 6.3M1251.2 930.3L1273.7 908.9l11.3 8.3M1270.6 911.8l11.3 8.3M1286.5 930.3L1311.5 912.0l10.1 9.7M1308.1 914.5l10.1 9.7M1321.8 930.3L1348.7 914.9l9.0 10.8M1345.1 917.0l9.0 10.8M1357.1 930.3L1386.1 919.3l7.2 12.0M1382.2 920.8l7.2 12.0M1392.4 930.3L1422.2 921.6l6.2 12.6M1418.2 922.8l6.2 12.6M1427.7 930.3L1458.0 923.4l5.4 12.9M1453.9 924.4l5.4 12.9M1463.0 930.3L1494.0 931.9l1.7 13.9M1498.4 930.3L1527.8 940.1l-2.0 13.9M1533.7 930.3L1561.7 943.6l-3.7 13.5M1557.9 941.8l-3.7 13.5M1569.0 930.3L1589.8 953.3l-8.6 11.0M1586.9 950.2l-8.6 11.0M1604.3 930.3L1614.8 959.4l-12.1 7.0M1613.4 955.5l-12.1 7.0M1639.6 930.3L1644.5 960.9l-13.2 4.6M1643.9 956.8l-13.2 4.6M1674.9 930.3L1674.8 961.3l-13.8 2.4M1674.8 957.1l-13.8 2.4M1710.2 930.3L1710.4 961.3l-13.8 2.5M1710.4 957.1l-13.8 2.5M1710.4 952.9l-13.8 2.5M1074.7 895.0L1083.5 865.3l13.9 1.6M1110.0 895.0L1120.3 865.8l13.8 2.3M1145.3 895.0L1161.4 868.5l13.0 5.1M1159.2 872.1l13.0 5.1M1180.6 895.0L1200.0 870.8l12.3 6.7M1197.3 874.1l12.3 6.7M1215.9 895.0L1236.2 871.6l12.0 7.2M1233.5 874.8l12.0 7.2M1251.2 895.0L1274.6 874.6l10.9 8.8M1271.4 877.4l10.9 8.8M1286.5 895.0L1312.2 877.7l9.7 10.1M1308.7 880.0l9.7 10.1M1321.8 895.0L1348.1 878.6l9.3 10.4M1344.6 880.8l9.3 10.4M1357.1 895.0L1384.6 880.6l8.5 11.1M1392.4 895.0L1420.2 881.1l8.3 11.2M1416.4 883.0l8.3 11.2M1427.7 895.0L1455.9 882.1l8.0 11.5M1452.1 883.8l8.0 11.5M1463.0 895.0L1492.6 885.7l6.4 12.4M1498.4 895.0L1527.5 884.4l7.0 12.1M1533.7 895.0L1563.9 888.2l5.4 12.9M1559.8 889.1l5.4 12.9M1569.0 895.0L1598.5 904.4l-1.9 13.9M1594.5 903.1l-1.9 13.9M1604.3 895.0L1632.3 908.3l-3.7 13.5M1628.5 906.5l-3.7 13.5M1639.6 895.0L1661.2 917.2l-8.2 11.4M1658.3 914.2l-8.2 11.4M1674.9 895.0L1671.6 925.8l-14.0 1.0M1672.1 921.7l-14.0 1.0M1672.5 917.5l-14.0 1.0M1710.2 895.0L1706.7 925.8l-14.0 0.9M1707.2 921.6l-14.0 0.9M1707.7 917.5l-14.0 0.9M1074.7 859.7L1083.0 829.8l13.9 1.4M1081.9 833.9l13.9 1.4M1110.0 859.7L1119.6 830.2l13.9 2.0M1118.3 834.2l13.9 2.0M1145.3 859.7L1162.4 833.8l12.8 5.6M1160.0 837.3l12.8 5.6M1180.6 859.7L1200.5 835.9l12.1 7.0M1197.8 839.1l12.1 7.0M1215.9 859.7L1236.3 836.4l12.0 7.3M1233.6 839.6l12.0 7.3M1251.2 859.7L1274.9 839.7l10.7 9.0M1271.7 842.4l10.7 9.0M1286.5 859.7L1312.0 842.1l9.8 10.0M1308.6 844.5l9.8 10.0M1321.8 859.7L1347.6 842.4l9.7 10.1M1357.1 859.7L1383.9 844.1l9.0 10.7M1392.4 859.7L1419.5 844.6l8.8 10.9M1427.7 859.7L1455.1 845.1l8.6 11.0M1463.0 859.7L1491.6 847.7l7.6 11.8M1498.4 859.7L1526.7 847.1l7.8 11.6M1533.7 859.7L1562.8 849.1l7.0 12.1M1569.0 859.7L1599.6 864.4l0.3 14.0M1604.3 859.7L1633.3 870.6l-2.6 13.8M1629.4 869.1l-2.6 13.8M1639.6 859.7L1664.8 877.8l-6.1 12.6M1661.4 875.3l-6.1 12.6M1674.9 859.7L1669.3 890.2l-14.0 -0.1M1670.0 886.0l-14.0 -0.1M1710.2 859.7L1705.9 890.4l-14.0 0.5M1706.5 886.2l-14.0 0.5M1707.1 882.1l-14.0 0.5M1745.5 859.7L1752.7 889.8l-12.8 5.6M1751.8 885.8l-12.8 5.6M1750.8 881.7l-12.8 5.6M1110.0 824.4L1122.7 796.1l13.6 3.5M1121.0 800.0l13.6 3.5M1145.3 824.4L1163.6 799.4l12.6 6.2M1161.1 802.7l12.6 6.2M1180.6 824.4L1201.2 801.2l11.9 7.3M1198.4 804.4l11.9 7.3M1215.9 824.4L1237.5 802.2l11.6 7.9M1234.6 805.2l11.6 7.9M1251.2 824.4L1275.0 804.5l10.7 9.0M1271.8 807.2l10.7 9.0M1286.5 824.4L1311.7 806.4l10.0 9.8M1321.8 824.4L1347.6 807.2l9.7 10.1M1357.1 824.4L1383.7 808.5l9.2 10.6M1392.4 824.4L1419.6 809.5l8.7 10.9M1427.7 824.4L1455.3 810.3l8.4 11.2M1463.0 824.4L1491.3 811.5l7.9 11.5M1498.4 824.4L1526.9 812.3l7.6 11.7M1533.7 824.4L1563.1 814.6l6.7 12.3M1569.0 824.4L1599.9 822.4l3.3 13.6M1604.3 824.4L1634.9 829.4l0.2 14.0M1639.6 824.4L1667.6 837.7l-3.7 13.5M1674.9 824.4L1687.9 852.5l-11.5 8.0M1710.2 824.4L1724.5 851.9l-11.1 8.5M1722.5 848.2l-11.1 8.5M1745.5 824.4L1766.3 847.4l-8.6 11.1M1763.5 844.3l-8.6 11.1M1760.7 841.1l-8.6 11.1M1110.0 789.1L1127.2 763.3l12.8 5.7M1124.9 766.8l12.8 5.7M1180.6 789.1L1203.8 768.5l11.0 8.7M1215.9 789.1L1239.1 768.5l11.0 8.7M1251.2 789.1L1275.8 770.2l10.3 9.5M1286.5 789.1L1312.8 772.7l9.3 10.4M1321.8 789.1L1348.1 772.7l9.4 10.4M1357.1 789.1L1384.0 773.6l9.0 10.7M1392.4 789.1L1423.3 792.3l1.0 14.0M1427.7 789.1L1455.5 775.3l8.3 11.3M1463.0 789.1L1490.6 774.9l8.5 11.2M1498.4 789.1L1525.6 774.3l8.7 11.0M1533.7 789.1L1561.5 775.5l8.2 11.3M1569.0 789.1L1598.4 779.3l6.7 12.3M1604.3 789.1L1625.3 811.8l-4.2 5.6M1639.6 789.1L1669.9 782.5l5.3 12.9M1674.9 789.1L1703.7 800.4l-2.8 13.7M1710.2 789.1L1736.9 804.8l-4.9 13.1M1745.5 789.1L1772.0 805.2l-5.1 13.0M1768.4 803.0l-5.1 13.0M1780.8 789.1L1806.7 806.2l-5.6 12.8M1803.2 803.9l-5.6 12.8M1110.0 753.8L1129.0 729.3l12.4 6.6M1126.5 732.6l12.4 6.6M1145.3 753.8L1167.3 731.9l11.4 8.1M1164.3 734.9l11.4 8.1M1215.9 753.8L1239.2 733.3l10.9 8.7M1251.2 753.8L1275.7 734.7l10.4 9.4M1286.5 753.8L1313.1 737.8l9.2 10.5M1321.8 753.8L1348.1 737.3l9.4 10.4M1357.1 753.8L1383.7 737.8l9.2 10.6M1392.4 753.8L1418.4 770.7l-2.7 6.4M1427.7 753.8L1455.4 739.8l8.4 11.2M1463.0 753.8L1490.1 738.7l8.8 10.9M1498.4 753.8L1525.3 738.4l8.9 10.8M1533.7 753.8L1560.9 739.0l8.7 11.0M1569.0 753.8L1597.6 741.8l7.6 11.8M1604.3 753.8L1632.6 741.2l7.8 11.6M1639.6 753.8L1668.9 743.6l6.8 12.2M1674.9 753.8L1704.8 761.9l-1.3 13.9M1710.2 753.8L1737.2 769.0l-4.7 13.2M1745.5 753.8L1772.3 769.3l-4.8 13.2M1780.8 753.8L1806.9 770.5l-5.4 12.9M1816.1 753.8L1840.8 772.5l-6.4 12.5M1145.3 718.5L1164.3 694.0l12.4 6.5M1161.7 697.3l12.4 6.5M1180.6 718.5L1200.5 694.7l12.1 7.0M1197.8 698.0l12.1 7.0M1251.2 718.5L1271.9 695.4l11.9 7.4M1286.5 718.5L1308.6 696.8l11.4 8.1M1321.8 718.5L1344.2 697.1l11.3 8.3M1357.1 718.5L1380.6 698.3l10.8 8.9M1392.4 718.5L1421.7 708.2l3.4 6.1M1427.7 718.5L1423.7 687.7l6.7 -2.1M1463.0 718.5L1489.1 701.6l9.5 10.3M1498.4 718.5L1525.0 702.7l9.1 10.6M1533.7 718.5L1560.9 703.7l8.7 11.0M1569.0 718.5L1597.2 705.8l7.9 11.6M1604.3 718.5L1633.1 707.1l7.3 11.9M1639.6 718.5L1651.7 689.9l13.6 3.2M1674.9 718.5L1692.2 744.2l-5.0 4.9M1710.2 718.5L1737.5 733.2l-4.4 13.3M1745.5 718.5L1771.7 735.0l-5.3 13.0M1780.8 718.5L1805.2 737.7l-6.6 12.3M1816.1 718.5L1837.4 741.0l-8.3 11.2M1145.3 683.2L1159.0 655.4l13.4 3.9M1157.2 659.1l13.4 3.9M1180.6 683.2L1192.5 654.5l13.7 3.0M1190.9 658.4l13.7 3.0M1215.9 683.2L1228.8 655.0l13.6 3.5M1227.0 658.8l13.6 3.5M1251.2 683.2L1264.9 655.4l13.4 3.9M1263.1 659.1l13.4 3.9M1286.5 683.2L1297.0 654.0l13.8 2.4M1321.8 683.2L1334.5 654.9l13.6 3.4M1357.1 683.2L1375.1 657.9l12.6 6.0M1392.4 683.2L1409.7 657.4l12.8 5.7M1427.7 683.2L1434.3 652.9l7.0 0.3M1463.0 683.2L1494.0 682.3l2.8 13.7M1498.4 683.2L1523.9 665.6l9.8 10.0M1533.7 683.2L1559.8 666.5l9.5 10.3M1569.0 683.2L1596.5 668.8l8.5 11.1M1604.3 683.2L1633.9 674.1l3.2 6.2M1639.6 683.2L1639.4 652.2l6.9 -1.3M1674.9 683.2L1704.6 692.0l-1.6 13.9M1710.2 683.2L1733.9 703.2l-7.1 12.1M1745.5 683.2L1769.0 703.4l-7.2 12.0M1780.8 683.2L1802.1 705.7l-8.4 11.2M1816.1 683.2L1833.0 709.1l-10.2 9.6M1851.4 683.2L1868.9 708.8l-10.0 9.8M1180.6 647.9L1191.4 618.8l13.8 2.5M1190.0 622.7l13.8 2.5M1215.9 647.9L1227.2 619.0l13.7 2.8M1225.7 622.9l13.7 2.8M1286.5 647.9L1295.2 618.1l13.9 1.5M1294.0 622.1l13.9 1.5M1321.8 647.9L1332.2 618.6l13.8 2.3M1357.1 647.9L1373.7 621.6l13.0 5.3M1392.4 647.9L1408.5 621.3l13.1 5.1M1427.7 647.9L1445.4 622.3l12.7 5.8M1463.0 647.9L1486.9 628.1l10.7 9.1M1498.4 647.9L1523.8 630.1l9.9 9.9M1533.7 647.9L1559.4 630.6l9.7 10.1M1569.0 647.9L1596.1 632.9l8.8 10.9M1604.3 647.9L1631.4 632.8l8.8 10.9M1639.6 647.9L1667.8 635.1l7.9 11.6M1674.9 647.9L1704.3 657.8l-2.1 13.8M1710.2 647.9L1732.8 669.0l-7.6 11.7M1745.5 647.9L1768.4 668.7l-7.5 11.8M1780.8 647.9L1801.6 670.8l-8.6 11.1M1798.8 667.7l-8.6 11.1M1816.1 647.9L1832.3 674.3l-10.5 9.3M1830.1 670.7l-10.5 9.3M1851.4 647.9L1868.5 673.7l-10.2 9.6M1180.6 612.5L1191.2 583.4l13.8 2.4M1189.8 587.4l13.8 2.4M1215.9 612.5L1227.0 583.6l13.7 2.7M1225.5 587.5l13.7 2.7M1286.5 612.5L1298.3 583.9l13.7 3.0M1296.7 587.7l13.7 3.0M1321.8 612.5L1336.1 585.0l13.4 4.2M1334.1 588.7l13.4 4.2M1357.1 612.5L1376.2 588.1l12.4 6.6M1373.6 591.4l12.4 6.6M1392.4 612.5L1412.6 589.0l12.0 7.1M1409.9 592.2l12.0 7.1M1427.7 612.5L1449.3 590.3l11.6 7.9M1463.0 612.5L1487.1 593.0l10.6 9.2M1498.4 612.5L1523.5 594.4l10.0 9.8M1533.7 612.5L1559.5 595.4l9.6 10.1M1556.0 597.7l9.6 10.1M1569.0 612.5L1596.1 597.5l8.8 10.9M1592.4 599.6l8.8 10.9M1604.3 612.5L1632.2 599.0l8.2 11.3M1628.4 600.9l8.2 11.3M1639.6 612.5L1669.1 603.1l6.5 12.4M1665.1 604.4l6.5 12.4M1674.9 612.5L1705.3 618.6l-0.3 14.0M1701.2 617.8l-0.3 14.0M1710.2 612.5L1736.3 629.3l-5.4 12.9M1732.8 627.0l-5.4 12.9M1745.5 612.5L1770.7 630.6l-6.1 12.6M1767.3 628.2l-6.1 12.6M1780.8 612.5L1804.9 632.1l-6.8 12.2M1801.6 629.4l-6.8 12.2M1816.1 612.5L1837.8 634.6l-8.1 11.4M1834.9 631.7l-8.1 11.4M1851.4 612.5L1873.8 634.0l-7.8 11.6M1870.7 631.1l-7.8 11.6M1886.7 612.5L1911.6 631.1l-6.3 12.5M1908.2 628.6l-6.3 12.5M1215.9 577.2L1223.9 547.3l13.9 1.2M1222.8 551.3l13.9 1.2M1321.8 577.2L1341.1 553.0l12.3 6.7M1338.5 556.3l12.3 6.7M1357.1 577.2L1380.7 557.2l10.8 8.9M1377.5 559.9l10.8 8.9M1392.4 577.2L1418.0 559.8l9.8 10.0M1414.6 562.1l9.8 10.0M1427.7 577.2L1453.1 559.4l9.9 9.9M1449.6 561.8l9.9 9.9M1463.0 577.2L1487.5 558.3l10.4 9.4M1498.4 577.2L1522.5 557.8l10.5 9.2M1519.2 560.4l10.5 9.2M1533.7 577.2L1558.4 558.6l10.2 9.5M1555.1 561.1l10.2 9.5M1569.0 577.2L1595.7 561.6l9.1 10.7M1592.1 563.7l9.1 10.7M1604.3 577.2L1631.5 562.5l8.7 11.0M1627.9 564.5l8.7 11.0M1639.6 577.2L1668.2 565.3l7.5 11.8M1664.3 566.9l7.5 11.8M1674.9 577.2L1705.2 583.6l-0.4 14.0M1701.1 582.7l-0.4 14.0M1710.2 577.2L1735.6 595.0l-5.9 12.7M1732.1 592.6l-5.9 12.7M1745.5 577.2L1771.1 594.8l-5.8 12.7M1767.6 592.4l-5.8 12.7M1780.8 577.2L1807.0 593.8l-5.3 13.0M1803.5 591.5l-5.3 13.0M1816.1 577.2L1841.7 594.7l-5.8 12.8M1838.3 592.3l-5.8 12.8M1851.4 577.2L1877.2 594.5l-5.7 12.8M1873.7 592.1l-5.7 12.8M1886.7 577.2L1913.0 593.7l-5.3 13.0M1909.4 591.5l-5.3 13.0M1922.0 577.2L1947.8 594.4l-5.6 12.8M1944.3 592.1l-5.6 12.8M1180.6 541.9L1186.9 511.6l14.0 0.4M1186.1 515.7l14.0 0.4M1463.0 541.9L1487.6 523.1l10.3 9.5M1484.3 525.6l10.3 9.5M1498.4 541.9L1522.2 522.2l10.7 9.1M1519.0 524.8l10.7 9.1M1533.7 541.9L1558.0 522.7l10.5 9.3M1554.7 525.3l10.5 9.3M1569.0 541.9L1595.5 526.0l9.2 10.6M1591.9 528.1l9.2 10.6M1604.3 541.9L1631.3 526.7l8.9 10.8M1627.6 528.8l8.9 10.8M1639.6 541.9L1667.5 528.5l8.2 11.4M1663.7 530.3l8.2 11.4M1674.9 541.9L1705.3 547.8l-0.2 14.0M1701.2 547.0l-0.2 14.0M1710.2 541.9L1734.9 560.7l-6.4 12.5M1731.5 558.1l-6.4 12.5M1745.5 541.9L1771.1 559.4l-5.8 12.7M1780.8 541.9L1808.0 556.8l-4.5 13.3M1816.1 541.9L1841.9 559.2l-5.7 12.8M1851.4 541.9L1877.6 558.5l-5.3 13.0M1886.7 541.9L1913.7 557.2l-4.7 13.2M1922.0 541.9L1947.7 559.3l-5.7 12.8M1944.3 556.9l-5.7 12.8M1957.3 541.9L1983.5 558.5l-5.3 13.0M1980.0 556.3l-5.3 13.0M1251.2 506.6L1269.3 481.5l12.6 6.1M1266.8 484.9l12.6 6.1M1498.4 506.6L1522.8 487.5l10.4 9.4M1519.5 490.1l10.4 9.4M1533.7 506.6L1558.7 488.3l10.1 9.7M1555.3 490.8l10.1 9.7M1551.9 493.3l10.1 9.7M1569.0 506.6L1595.5 490.7l9.2 10.6M1591.9 492.8l9.2 10.6M1588.3 495.0l9.2 10.6M1604.3 506.6L1631.7 492.1l8.6 11.1M1628.0 494.1l8.6 11.1M1624.3 496.1l8.6 11.1M1639.6 506.6L1668.1 494.4l7.7 11.7M1664.2 496.0l7.7 11.7M1674.9 506.6L1705.6 502.3l4.3 13.3M1701.4 502.9l4.3 13.3M1710.2 506.6L1740.6 512.4l-0.2 14.0M1736.5 511.6l-0.2 14.0M1745.5 506.6L1775.7 513.7l-0.8 14.0M1780.8 506.6L1810.8 514.6l-1.2 13.9M1816.1 506.6L1845.2 517.4l-2.5 13.8M1851.4 506.6L1880.6 517.1l-2.4 13.8M1886.7 506.6L1916.1 516.5l-2.1 13.8M1922.0 506.6L1951.0 517.8l-2.7 13.7M1957.3 506.6L1986.6 516.8l-2.2 13.8M1992.6 506.6L2022.9 513.4l-0.6 14.0M1215.9 471.3L1238.3 449.8l11.3 8.3M1235.2 452.8l11.3 8.3M1251.2 471.3L1273.5 449.8l11.3 8.2M1270.5 452.7l11.3 8.2M1267.5 455.6l11.3 8.2M1286.5 471.3L1308.5 449.5l11.4 8.1M1305.5 452.4l11.4 8.1M1639.6 471.3L1666.8 456.4l8.8 10.9M1663.1 458.4l8.8 10.9M1674.9 471.3L1703.2 458.6l7.9 11.6M1699.3 460.4l7.9 11.6M1710.2 471.3L1739.9 462.4l6.3 12.5M1735.9 463.6l6.3 12.5M1745.5 471.3L1775.8 464.6l5.4 12.9M1771.7 465.5l5.4 12.9M1780.8 471.3L1811.8 471.0l2.6 13.8M1807.6 471.1l2.6 13.8M1816.1 471.3L1847.1 472.9l1.7 13.9M1842.9 472.7l1.7 13.9M1851.4 471.3L1882.3 473.7l1.4 13.9M1878.1 473.4l1.4 13.9M1886.7 471.3L1917.6 474.2l1.1 14.0M1913.4 473.8l1.1 14.0M1922.0 471.3L1953.0 472.5l1.9 13.9M1948.8 472.4l1.9 13.9M1957.3 471.3L1988.3 473.2l1.6 13.9M1984.1 472.9l1.6 13.9M1992.6 471.3L2023.5 473.9l1.3 13.9M2019.4 473.5l1.3 13.9M2028.0 471.3L2058.9 472.8l1.8 13.9M2054.7 472.6l1.8 13.9M1251.2 436.0L1274.1 415.1l11.1 8.6M1286.5 436.0L1309.7 415.4l11.0 8.7M1321.8 436.0L1345.5 416.0l10.7 9.0M1342.3 418.7l10.7 9.0M1357.1 436.0L1381.1 416.4l10.6 9.1M1377.8 419.0l10.6 9.1M1392.4 436.0L1416.6 416.6l10.5 9.2M1413.3 419.2l10.5 9.2M1427.7 436.0L1451.8 416.4l10.6 9.2M1448.5 419.1l10.6 9.2M1639.6 436.0L1666.4 420.4l9.0 10.7M1662.7 422.5l9.0 10.7M1674.9 436.0L1702.3 421.5l8.6 11.1M1698.6 423.5l8.6 11.1M1710.2 436.0L1739.5 426.0l6.8 12.3M1735.6 427.3l6.8 12.3M1745.5 436.0L1775.1 426.7l6.5 12.4M1771.1 428.0l6.5 12.4M1780.8 436.0L1811.7 433.0l3.8 13.5M1807.5 433.4l3.8 13.5M1816.1 436.0L1847.1 436.9l2.1 13.8M1842.9 436.7l2.1 13.8M1851.4 436.0L1882.4 437.0l2.0 13.9M1878.2 436.8l2.0 13.9M1886.7 436.0L1917.7 436.8l2.1 13.8M1913.5 436.7l2.1 13.8M1922.0 436.0L1953.0 436.2l2.3 13.8M1948.8 436.2l2.3 13.8M1957.3 436.0L1988.3 436.6l2.2 13.8M1984.1 436.5l2.2 13.8M1992.6 436.0L2023.6 437.9l1.6 13.9M2019.4 437.6l1.6 13.9M2028.0 436.0L2058.9 437.3l1.9 13.9M2054.7 437.1l1.9 13.9M2063.3 436.0L2094.2 437.7l1.7 13.9M2090.0 437.5l1.7 13.9M1251.2 400.7L1275.1 380.9l10.7 9.1M1286.5 400.7L1312.1 383.2l9.8 10.0M1321.8 400.7L1347.4 383.3l9.8 10.0M1357.1 400.7L1382.1 382.4l10.1 9.7M1378.7 384.9l10.1 9.7M1392.4 400.7L1417.8 382.9l9.9 9.9M1414.3 385.3l9.9 9.9M1427.7 400.7L1452.3 381.8l10.3 9.5M1449.0 384.4l10.3 9.5M1639.6 400.7L1662.9 380.3l10.9 8.8M1659.8 383.1l10.9 8.8M1674.9 400.7L1698.9 381.1l10.6 9.2M1695.7 383.8l10.6 9.2M1710.2 400.7L1736.0 383.6l9.6 10.2M1732.5 385.9l9.6 10.2M1745.5 400.7L1772.9 386.2l8.6 11.0M1769.2 388.1l8.6 11.0M1780.8 400.7L1811.0 393.6l5.5 12.9M1806.9 394.5l5.5 12.9M1816.1 400.7L1847.1 399.2l3.1 13.7M1842.9 399.4l3.1 13.7M1851.4 400.7L1882.4 400.2l2.6 13.7M1878.2 400.3l2.6 13.7M1886.7 400.7L1917.7 400.4l2.5 13.8M1913.5 400.5l2.5 13.8M1922.0 400.7L1953.0 400.7l2.4 13.8M1948.8 400.7l2.4 13.8M1957.3 400.7L1988.3 401.6l2.0 13.8M1984.1 401.4l2.0 13.8M1992.6 400.7L2023.5 403.8l1.0 14.0M2019.3 403.4l1.0 14.0M2028.0 400.7L2058.7 404.8l0.6 14.0M2054.5 404.3l0.6 14.0M2063.3 400.7L2093.9 405.7l0.2 14.0M2089.7 405.0l0.2 14.0M1286.5 365.4L1314.8 352.8l7.8 11.6M1321.8 365.4L1349.4 351.2l8.5 11.1M1357.1 365.4L1382.9 348.2l9.7 10.1M1379.4 350.5l9.7 10.1M1392.4 365.4L1419.7 350.7l8.7 11.0M1416.0 352.7l8.7 11.0M1427.7 365.4L1454.0 348.9l9.4 10.4M1450.5 351.2l9.4 10.4M1463.0 365.4L1485.5 344.0l11.3 8.3M1482.4 346.9l11.3 8.3M1498.4 365.4L1520.9 344.1l11.2 8.3M1517.8 347.0l11.2 8.3M1674.9 365.4L1688.6 337.6l13.4 3.9M1686.8 341.4l13.4 3.9M1710.2 365.4L1723.8 337.6l13.5 3.9M1722.0 341.3l13.5 3.9M1745.5 365.4L1763.0 339.8l12.7 5.8M1780.8 365.4L1810.1 355.2l6.8 12.2M1816.1 365.4L1847.1 364.6l2.8 13.7M1851.4 365.4L1882.4 364.7l2.8 13.7M1886.7 365.4L1917.7 363.8l3.1 13.6M1913.5 364.1l3.1 13.6M1922.0 365.4L1953.0 363.4l3.3 13.6M1957.3 365.4L1988.3 364.9l2.7 13.7M1984.1 364.9l2.7 13.7M1992.6 365.4L2023.1 370.9l-0.1 14.0M2019.0 370.2l-0.1 14.0M2028.0 365.4L2057.4 375.0l-1.9 13.9M2053.4 373.7l-1.9 13.9M2063.3 365.4L2092.7 375.2l-2.1 13.8M2098.6 365.4L2127.5 376.4l-2.6 13.8M2123.6 374.9l-2.6 13.8M1321.8 330.1L1348.5 314.3l9.1 10.6M1357.1 330.1L1379.6 308.8l11.3 8.3M1392.4 330.1L1419.9 315.7l8.6 11.1M1427.7 330.1L1453.1 312.2l9.9 9.9M1449.6 314.7l9.9 9.9M1463.0 330.1L1481.8 305.4l12.4 6.4M1479.3 308.7l12.4 6.4M1498.4 330.1L1520.8 308.7l11.3 8.3M1517.7 311.6l11.3 8.3M1533.7 330.1L1554.5 307.2l11.8 7.5M1551.7 310.3l11.8 7.5M1674.9 330.1L1686.1 301.2l13.7 2.7M1684.6 305.1l13.7 2.7M1710.2 330.1L1721.5 301.2l13.7 2.8M1720.0 305.1l13.7 2.8M1745.5 330.1L1759.8 302.6l13.4 4.2M1757.8 306.3l13.4 4.2M1780.8 330.1L1809.7 318.8l7.3 12.0M1816.1 330.1L1847.1 329.8l2.6 13.8M1851.4 330.1L1882.4 328.9l3.0 13.7M1886.7 330.1L1917.6 327.8l3.4 13.6M1922.0 330.1L1953.0 327.8l3.4 13.6M1957.3 330.1L1988.3 329.7l2.6 13.8M1992.6 330.1L2022.9 337.0l-0.7 14.0M2028.0 330.1L2057.2 340.4l-2.3 13.8M2063.3 330.1L2092.2 341.1l-2.6 13.8M2088.3 339.6l-2.6 13.8M2098.6 330.1L2126.0 344.6l-4.3 13.3M2122.3 342.6l-4.3 13.3M2133.9 330.1L2161.3 344.6l-4.3 13.3M2157.5 342.7l-4.3 13.3M1321.8 294.8L1342.0 271.2l6.0 3.6M1357.1 294.8L1358.4 263.8l6.9 -0.9M1392.4 294.8L1417.2 276.1l5.1 4.8M1427.7 294.8L1406.7 272.0l8.5 -11.1M1463.0 294.8L1432.9 287.4l0.5 -7.0M1498.4 294.8L1513.8 267.9l13.2 4.8M1511.7 271.6l13.2 4.8M1533.7 294.8L1549.5 268.1l13.1 5.0M1547.4 271.7l13.1 5.0M1569.0 294.8L1584.8 268.1l13.1 5.0M1582.7 271.8l13.1 5.0M1674.9 294.8L1684.6 265.3l13.9 2.0M1710.2 294.8L1721.5 265.9l13.7 2.8M1745.5 294.8L1763.1 269.2l12.7 5.8M1780.8 294.8L1807.9 279.8l8.8 10.9M1816.1 294.8L1844.5 282.4l7.7 11.7M1851.4 294.8L1880.7 284.5l6.9 12.2M1886.7 294.8L1917.5 290.7l4.2 13.4M1922.0 294.8L1953.0 296.7l1.6 13.9M1957.3 294.8L1987.3 302.8l-1.2 13.9M1992.6 294.8L2022.4 303.6l-1.6 13.9M2028.0 294.8L2057.4 304.5l-2.0 13.9M2063.3 294.8L2091.7 307.2l-3.3 13.6M2098.6 294.8L2125.6 310.0l-4.6 13.2M2133.9 294.8L2161.0 309.8l-4.6 13.2M1321.8 259.5L1302.7 235.1l9.3 -10.4M1357.1 259.5L1339.1 234.2l4.9 -5.0M1392.4 259.5L1361.4 258.6l-2.0 -13.9M1427.7 259.5L1396.9 256.7l-1.2 -14.0M1463.0 259.5L1439.3 239.6l7.0 -12.1M1498.4 259.5L1505.1 229.2l14.0 0.6M1533.7 259.5L1548.9 232.5l13.2 4.6M1569.0 259.5L1584.5 232.7l13.1 4.8M1639.6 259.5L1650.7 230.5l13.7 2.7M1674.9 259.5L1683.4 229.7l13.9 1.5M1710.2 259.5L1720.1 230.1l13.8 2.1M1745.5 259.5L1764.0 234.6l12.5 6.3M1780.8 259.5L1807.1 243.1l9.3 10.4M1816.1 259.5L1843.1 244.3l8.9 10.8M1851.4 259.5L1879.1 245.5l8.4 11.2M1886.7 259.5L1917.2 253.6l5.0 13.1M1922.0 259.5L1952.5 265.0l-0.1 14.0M1957.3 259.5L1986.6 269.6l-2.2 13.8M1992.6 259.5L2022.1 269.3l-2.1 13.8M2028.0 259.5L2057.5 268.8l-1.8 13.9M2063.3 259.5L2092.0 271.1l-2.9 13.7M2098.6 259.5L2126.3 273.4l-4.0 13.4M2133.9 259.5L2161.5 273.5l-4.1 13.4" fill="none" stroke="#000" stroke-width="1.6" stroke-linejoin="miter"/>
<path d="M342.4,274.0V1855.6M872,274.0V1855.6M1401.6,274.0V1855.6M1931.2,274.0V1855.6M99.5,1717.3H2116.0M99.5,1187.7H2116.0M99.5,658.1H2116.0" stroke="#f4f4f4" stroke-width="1.2" fill="none" opacity="0.9"/>
<path d="M1119.2,516.9L1119.2,940.5L836.7,1081.8L836.7,1328.9L624.9,1558.4L342.4,1717.3" fill="none" stroke="#a00c0c" stroke-width="2.2"/><path d="M1295.7,516.9L1295.7,1187.7L872,1717.3L342.4,1717.3" fill="none" stroke="#8fce4e" stroke-width="2.2" stroke-dasharray="12 1.5"/><path d="M1264.6,1094.1h34M1281.6,1077.1v34" stroke="#e01010" stroke-width="2.2" fill="none"/><g transform="translate(1096.8,517.5) rotate(90)"><text x="7.9" y="-0.5" text-anchor="middle" font-family="Liberation Sans" font-size="21.5" transform="scale(1,1)">2</text><text x="23.7" y="-0.5" text-anchor="middle" font-family="Liberation Sans" font-size="21.5" transform="scale(1,1)">4</text><text font-family="'Liberation Sans','Noto Sans CJK SC',sans-serif" font-size="20" y="0" x="32.1 53.1 74.1 95.1 116.1">小时警戒线</text></g><g transform="translate(887.5,1731.2) rotate(-51.3)"><text x="7.9" y="-0.5" text-anchor="middle" font-family="Liberation Sans" font-size="21.5" transform="scale(1,1)">4</text><text x="23.7" y="-0.5" text-anchor="middle" font-family="Liberation Sans" font-size="21.5" transform="scale(1,1)">8</text><text font-family="'Liberation Sans','Noto Sans CJK SC',sans-serif" font-size="20" y="0" x="32.1 53.1 74.1 95.1 116.1">小时警戒线</text></g>
</g>
<rect x="26.5" y="210.5" width="2170" height="1711" fill="none" stroke="#000" stroke-width="1.2"/>
<rect x="99.5" y="274.0" width="2016.5" height="1581.6" fill="none" stroke="#000" stroke-width="2.4"/>
<path d="M342.4,274.0v9 M342.4,1855.6v-9M518.9,274.0v3.5 M518.9,1855.6v-3.5M695.5,274.0v3.5 M695.5,1855.6v-3.5M872,274.0v9 M872,1855.6v-9M1048.5,274.0v3.5 M1048.5,1855.6v-3.5M1225.1,274.0v3.5 M1225.1,1855.6v-3.5M1401.6,274.0v9 M1401.6,1855.6v-9M1578.1,274.0v3.5 M1578.1,1855.6v-3.5M1754.7,274.0v3.5 M1754.7,1855.6v-3.5M1931.2,274.0v9 M1931.2,1855.6v-9M2107.8,274.0v3.5 M2107.8,1855.6v-3.5M99.5,1717.3h9 M2116.0,1717.3h-9M99.5,1540.8h3.5 M2116.0,1540.8h-3.5M99.5,1364.2h3.5 M2116.0,1364.2h-3.5M99.5,1187.7h9 M2116.0,1187.7h-9M99.5,1011.2h3.5 M2116.0,1011.2h-3.5M99.5,834.6h3.5 M2116.0,834.6h-3.5M99.5,658.1h9 M2116.0,658.1h-9M99.5,481.6h3.5 M2116.0,481.6h-3.5M99.5,305h3.5 M2116.0,305h-3.5" stroke="#000" stroke-width="2" fill="none"/>
<text text-anchor="middle" font-family="Liberation Serif" font-size="42" font-weight="normal" transform="translate(289.4,261.5) scale(0.837,1)">1</text><text text-anchor="middle" font-family="Liberation Serif" font-size="42" font-weight="normal" transform="translate(308.1,261.5) scale(0.837,1)">0</text><text text-anchor="middle" font-family="Liberation Serif" font-size="42" font-weight="normal" transform="translate(326.8,261.5) scale(0.837,1)">5</text><text text-anchor="middle" font-family="Liberation Serif" font-size="33.6" font-weight="normal" transform="translate(344.1,254.4) scale(1.000,1)">°</text><text text-anchor="middle" font-family="Liberation Serif" font-size="42" font-weight="normal" transform="translate(383,261.5) scale(0.780,1)">E</text>
<text text-anchor="middle" font-family="Liberation Serif" font-size="42" font-weight="normal" transform="translate(301.9,1906) scale(0.837,1)">1</text><text text-anchor="middle" font-family="Liberation Serif" font-size="42" font-weight="normal" transform="translate(320.6,1906) scale(0.837,1)">0</text><text text-anchor="middle" font-family="Liberation Serif" font-size="42" font-weight="normal" transform="translate(339.2,1906) scale(0.837,1)">5</text><text text-anchor="middle" font-family="Liberation Serif" font-size="33.6" font-weight="normal" transform="translate(356.6,1898.9) scale(1.000,1)">°</text><text text-anchor="middle" font-family="Liberation Serif" font-size="42" font-weight="normal" transform="translate(395.5,1906) scale(0.780,1)">E</text>
<text text-anchor="middle" font-family="Liberation Serif" font-size="42" font-weight="normal" transform="translate(819,261.5) scale(0.837,1)">1</text><text text-anchor="middle" font-family="Liberation Serif" font-size="42" font-weight="normal" transform="translate(837.7,261.5) scale(0.837,1)">2</text><text text-anchor="middle" font-family="Liberation Serif" font-size="42" font-weight="normal" transform="translate(856.4,261.5) scale(0.837,1)">0</text><text text-anchor="middle" font-family="Liberation Serif" font-size="33.6" font-weight="normal" transform="translate(873.7,254.4) scale(1.000,1)">°</text><text text-anchor="middle" font-family="Liberation Serif" font-size="42" font-weight="normal" transform="translate(912.6,261.5) scale(0.780,1)">E</text>
<text text-anchor="middle" font-family="Liberation Serif" font-size="42" font-weight="normal" transform="translate(831.5,1906) scale(0.837,1)">1</text><text text-anchor="middle" font-family="Liberation Serif" font-size="42" font-weight="normal" transform="translate(850.2,1906) scale(0.837,1)">2</text><text text-anchor="middle" font-family="Liberation Serif" font-size="42" font-weight="normal" transform="translate(868.9,1906) scale(0.837,1)">0</text><text text-anchor="middle" font-family="Liberation Serif" font-size="33.6" font-weight="normal" transform="translate(886.2,1898.9) scale(1.000,1)">°</text><text text-anchor="middle" font-family="Liberation Serif" font-size="42" font-weight="normal" transform="translate(925.1,1906) scale(0.780,1)">E</text>
<text text-anchor="middle" font-family="Liberation Serif" font-size="42" font-weight="normal" transform="translate(1348.6,261.5) scale(0.837,1)">1</text><text text-anchor="middle" font-family="Liberation Serif" font-size="42" font-weight="normal" transform="translate(1367.3,261.5) scale(0.837,1)">3</text><text text-anchor="middle" font-family="Liberation Serif" font-size="42" font-weight="normal" transform="translate(1386,261.5) scale(0.837,1)">5</text><text text-anchor="middle" font-family="Liberation Serif" font-size="33.6" font-weight="normal" transform="translate(1403.3,254.4) scale(1.000,1)">°</text><text text-anchor="middle" font-family="Liberation Serif" font-size="42" font-weight="normal" transform="translate(1442.2,261.5) scale(0.780,1)">E</text>
<text text-anchor="middle" font-family="Liberation Serif" font-size="42" font-weight="normal" transform="translate(1361.1,1906) scale(0.837,1)">1</text><text text-anchor="middle" font-family="Liberation Serif" font-size="42" font-weight="normal" transform="translate(1379.8,1906) scale(0.837,1)">3</text><text text-anchor="middle" font-family="Liberation Serif" font-size="42" font-weight="normal" transform="translate(1398.5,1906) scale(0.837,1)">5</text><text text-anchor="middle" font-family="Liberation Serif" font-size="33.6" font-weight="normal" transform="translate(1415.8,1898.9) scale(1.000,1)">°</text><text text-anchor="middle" font-family="Liberation Serif" font-size="42" font-weight="normal" transform="translate(1454.7,1906) scale(0.780,1)">E</text>
<text text-anchor="middle" font-family="Liberation Serif" font-size="42" font-weight="normal" transform="translate(1878.2,261.5) scale(0.837,1)">1</text><text text-anchor="middle" font-family="Liberation Serif" font-size="42" font-weight="normal" transform="translate(1896.9,261.5) scale(0.837,1)">5</text><text text-anchor="middle" font-family="Liberation Serif" font-size="42" font-weight="normal" transform="translate(1915.6,261.5) scale(0.837,1)">0</text><text text-anchor="middle" font-family="Liberation Serif" font-size="33.6" font-weight="normal" transform="translate(1932.9,254.4) scale(1.000,1)">°</text><text text-anchor="middle" font-family="Liberation Serif" font-size="42" font-weight="normal" transform="translate(1971.8,261.5) scale(0.780,1)">E</text>
<text text-anchor="middle" font-family="Liberation Serif" font-size="42" font-weight="normal" transform="translate(1890.7,1906) scale(0.837,1)">1</text><text text-anchor="middle" font-family="Liberation Serif" font-size="42" font-weight="normal" transform="translate(1909.4,1906) scale(0.837,1)">5</text><text text-anchor="middle" font-family="Liberation Serif" font-size="42" font-weight="normal" transform="translate(1928.1,1906) scale(0.837,1)">0</text><text text-anchor="middle" font-family="Liberation Serif" font-size="33.6" font-weight="normal" transform="translate(1945.4,1898.9) scale(1.000,1)">°</text><text text-anchor="middle" font-family="Liberation Serif" font-size="42" font-weight="normal" transform="translate(1984.3,1906) scale(0.780,1)">E</text>
<g transform="translate(86,1751.8) rotate(-90)"><text text-anchor="middle" font-family="Liberation Serif" font-size="42" font-weight="normal" transform="translate(9.3,0) scale(0.837,1)">0</text><text text-anchor="middle" font-family="Liberation Serif" font-size="33.6" font-weight="normal" transform="translate(26.7,-7.1) scale(1.000,1)">°</text><text text-anchor="middle" font-family="Liberation Serif" font-size="42" font-weight="normal" transform="translate(65.6,0) scale(0.740,1)">N</text></g>
<g transform="translate(2163.5,1747.3) rotate(-90)"><text text-anchor="middle" font-family="Liberation Serif" font-size="42" font-weight="normal" transform="translate(9.3,0) scale(0.837,1)">0</text><text text-anchor="middle" font-family="Liberation Serif" font-size="33.6" font-weight="normal" transform="translate(26.7,-7.1) scale(1.000,1)">°</text><text text-anchor="middle" font-family="Liberation Serif" font-size="42" font-weight="normal" transform="translate(65.6,0) scale(0.740,1)">N</text></g>
<g transform="translate(86,1224.7) rotate(-90)"><text text-anchor="middle" font-family="Liberation Serif" font-size="42" font-weight="normal" transform="translate(9.3,0) scale(0.837,1)">1</text><text text-anchor="middle" font-family="Liberation Serif" font-size="42" font-weight="normal" transform="translate(28,0) scale(0.837,1)">5</text><text text-anchor="middle" font-family="Liberation Serif" font-size="33.6" font-weight="normal" transform="translate(45.4,-7.1) scale(1.000,1)">°</text><text text-anchor="middle" font-family="Liberation Serif" font-size="42" font-weight="normal" transform="translate(84.3,0) scale(0.740,1)">N</text></g>
<g transform="translate(2163.5,1220.2) rotate(-90)"><text text-anchor="middle" font-family="Liberation Serif" font-size="42" font-weight="normal" transform="translate(9.3,0) scale(0.837,1)">1</text><text text-anchor="middle" font-family="Liberation Serif" font-size="42" font-weight="normal" transform="translate(28,0) scale(0.837,1)">5</text><text text-anchor="middle" font-family="Liberation Serif" font-size="33.6" font-weight="normal" transform="translate(45.4,-7.1) scale(1.000,1)">°</text><text text-anchor="middle" font-family="Liberation Serif" font-size="42" font-weight="normal" transform="translate(84.3,0) scale(0.740,1)">N</text></g>
<g transform="translate(86,695.1) rotate(-90)"><text text-anchor="middle" font-family="Liberation Serif" font-size="42" font-weight="normal" transform="translate(9.3,0) scale(0.837,1)">3</text><text text-anchor="middle" font-family="Liberation Serif" font-size="42" font-weight="normal" transform="translate(28,0) scale(0.837,1)">0</text><text text-anchor="middle" font-family="Liberation Serif" font-size="33.6" font-weight="normal" transform="translate(45.4,-7.1) scale(1.000,1)">°</text><text text-anchor="middle" font-family="Liberation Serif" font-size="42" font-weight="normal" transform="translate(84.3,0) scale(0.740,1)">N</text></g>
<g transform="translate(2163.5,690.6) rotate(-90)"><text text-anchor="middle" font-family="Liberation Serif" font-size="42" font-weight="normal" transform="translate(9.3,0) scale(0.837,1)">3</text><text text-anchor="middle" font-family="Liberation Serif" font-size="42" font-weight="normal" transform="translate(28,0) scale(0.837,1)">0</text><text text-anchor="middle" font-family="Liberation Serif" font-size="33.6" font-weight="normal" transform="translate(45.4,-7.1) scale(1.000,1)">°</text><text text-anchor="middle" font-family="Liberation Serif" font-size="42" font-weight="normal" transform="translate(84.3,0) scale(0.740,1)">N</text></g>
<g fill="#000"><text font-family="'Liberation Sans','Noto Sans CJK SC',sans-serif" font-size="65" font-weight="bold" y="110" x="957.7 1021.7 1150.3 1214.3 1278.3 1375 1406.3 1470.3 1533">年第号台风“梅花”</text><text text-anchor="middle" font-family="Liberation Sans" font-size="61" font-weight="bold" y="110" x="845.1 877.4 909.7 942 1102.3 1134.6">202212</text></g>
<text text-anchor="middle" font-family="Liberation Serif" font-size="51" font-weight="normal" transform="translate(736.2,178) scale(0.900,1)">(</text><text text-anchor="middle" font-family="Liberation Serif" font-size="51" font-weight="normal" transform="translate(760.5,178) scale(0.897,1)">2</text><text text-anchor="middle" font-family="Liberation Serif" font-size="51" font-weight="normal" transform="translate(784.8,178) scale(0.897,1)">0</text><text text-anchor="middle" font-family="Liberation Serif" font-size="51" font-weight="normal" transform="translate(809.2,178) scale(0.897,1)">2</text><text text-anchor="middle" font-family="Liberation Serif" font-size="51" font-weight="normal" transform="translate(833.5,178) scale(0.897,1)">2</text><text text-anchor="middle" font-family="Liberation Serif" font-size="51" font-weight="normal" transform="translate(857.8,178) scale(0.897,1)">0</text><text text-anchor="middle" font-family="Liberation Serif" font-size="51" font-weight="normal" transform="translate(882.1,178) scale(0.897,1)">9</text><text text-anchor="middle" font-family="Liberation Serif" font-size="51" font-weight="normal" transform="translate(906.5,178) scale(0.897,1)">0</text><text text-anchor="middle" font-family="Liberation Serif" font-size="51" font-weight="normal" transform="translate(930.8,178) scale(0.897,1)">8</text><text text-anchor="middle" font-family="Liberation Serif" font-size="51" font-weight="normal" transform="translate(979.5,178) scale(0.897,1)">0</text><text text-anchor="middle" font-family="Liberation Serif" font-size="51" font-weight="normal" transform="translate(1003.8,178) scale(0.897,1)">9</text><text text-anchor="middle" font-family="Liberation Serif" font-size="51" font-weight="normal" transform="translate(1028.1,178) scale(0.900,1)">:</text><text text-anchor="middle" font-family="Liberation Serif" font-size="51" font-weight="normal" transform="translate(1052.5,178) scale(0.897,1)">0</text><text text-anchor="middle" font-family="Liberation Serif" font-size="51" font-weight="normal" transform="translate(1076.8,178) scale(0.897,1)">6</text><text text-anchor="middle" font-family="Liberation Serif" font-size="51" font-weight="normal" transform="translate(1101.1,178) scale(0.900,1)">:</text><text text-anchor="middle" font-family="Liberation Serif" font-size="51" font-weight="normal" transform="translate(1125.4,178) scale(0.897,1)">5</text><text text-anchor="middle" font-family="Liberation Serif" font-size="51" font-weight="normal" transform="translate(1149.8,178) scale(0.897,1)">7</text><text text-anchor="middle" font-family="Liberation Serif" font-size="51" font-weight="normal" transform="translate(1198.4,178) scale(0.900,1)">-</text><text text-anchor="middle" font-family="Liberation Serif" font-size="51" font-weight="normal" transform="translate(1222.8,178) scale(0.900,1)">-</text><text text-anchor="middle" font-family="Liberation Serif" font-size="51" font-weight="normal" transform="translate(1271.4,178) scale(0.897,1)">2</text><text text-anchor="middle" font-family="Liberation Serif" font-size="51" font-weight="normal" transform="translate(1295.8,178) scale(0.897,1)">0</text><text text-anchor="middle" font-family="Liberation Serif" font-size="51" font-weight="normal" transform="translate(1320.1,178) scale(0.897,1)">2</text><text text-anchor="middle" font-family="Liberation Serif" font-size="51" font-weight="normal" transform="translate(1344.4,178) scale(0.897,1)">2</text><text text-anchor="middle" font-family="Liberation Serif" font-size="51" font-weight="normal" transform="translate(1368.7,178) scale(0.897,1)">0</text><text text-anchor="middle" font-family="Liberation Serif" font-size="51" font-weight="normal" transform="translate(1393.1,178) scale(0.897,1)">9</text><text text-anchor="middle" font-family="Liberation Serif" font-size="51" font-weight="normal" transform="translate(1417.4,178) scale(0.897,1)">0</text><text text-anchor="middle" font-family="Liberation Serif" font-size="51" font-weight="normal" transform="translate(1441.7,178) scale(0.897,1)">8</text><text text-anchor="middle" font-family="Liberation Serif" font-size="51" font-weight="normal" transform="translate(1490.4,178) scale(0.897,1)">0</text><text text-anchor="middle" font-family="Liberation Serif" font-size="51" font-weight="normal" transform="translate(1514.7,178) scale(0.897,1)">9</text><text text-anchor="middle" font-family="Liberation Serif" font-size="51" font-weight="normal" transform="translate(1539.1,178) scale(0.900,1)">:</text><text text-anchor="middle" font-family="Liberation Serif" font-size="51" font-weight="normal" transform="translate(1563.4,178) scale(0.897,1)">5</text><text text-anchor="middle" font-family="Liberation Serif" font-size="51" font-weight="normal" transform="translate(1587.7,178) scale(0.897,1)">2</text><text text-anchor="middle" font-family="Liberation Serif" font-size="51" font-weight="normal" transform="translate(1612,178) scale(0.900,1)">:</text><text text-anchor="middle" font-family="Liberation Serif" font-size="51" font-weight="normal" transform="translate(1636.4,178) scale(0.897,1)">0</text><text text-anchor="middle" font-family="Liberation Serif" font-size="51" font-weight="normal" transform="translate(1660.7,178) scale(0.897,1)">8</text><text text-anchor="middle" font-family="Liberation Serif" font-size="51" font-weight="normal" transform="translate(1685,178) scale(0.900,1)">)</text>
<text font-family="'Liberation Serif','Noto Serif CJK SC',serif" font-size="45" transform="translate(2219.2,288.5) scale(0.88,1)" y="0" x="0 44.2 88.41 132.61 176.82">台风眼时间</text><text text-anchor="middle" font-family="Liberation Serif" font-size="47" font-weight="normal" transform="translate(2422,288) scale(0.880,1)">:</text><text text-anchor="middle" font-family="Liberation Serif" font-size="47" font-weight="normal" transform="translate(2442.4,288) scale(0.830,1)">2</text><text text-anchor="middle" font-family="Liberation Serif" font-size="47" font-weight="normal" transform="translate(2463.1,288) scale(0.830,1)">0</text><text text-anchor="middle" font-family="Liberation Serif" font-size="47" font-weight="normal" transform="translate(2483.9,288) scale(0.830,1)">2</text><text text-anchor="middle" font-family="Liberation Serif" font-size="47" font-weight="normal" transform="translate(2504.6,288) scale(0.830,1)">2</text><text text-anchor="middle" font-family="Liberation Serif" font-size="47" font-weight="normal" transform="translate(2525.4,288) scale(0.830,1)">0</text><text text-anchor="middle" font-family="Liberation Serif" font-size="47" font-weight="normal" transform="translate(2546.1,288) scale(0.830,1)">9</text><text text-anchor="middle" font-family="Liberation Serif" font-size="47" font-weight="normal" transform="translate(2566.9,288) scale(0.830,1)">0</text><text text-anchor="middle" font-family="Liberation Serif" font-size="47" font-weight="normal" transform="translate(2587.6,288) scale(0.830,1)">8</text><text text-anchor="middle" font-family="Liberation Serif" font-size="47" font-weight="normal" transform="translate(2642.2,288) scale(0.816,1)">0</text><text text-anchor="middle" font-family="Liberation Serif" font-size="47" font-weight="normal" transform="translate(2662.6,288) scale(0.816,1)">9</text><text text-anchor="middle" font-family="Liberation Serif" font-size="47" font-weight="normal" transform="translate(2685.7,288) scale(0.880,1)">:</text><text text-anchor="middle" font-family="Liberation Serif" font-size="47" font-weight="normal" transform="translate(2708.2,288) scale(0.816,1)">3</text><text text-anchor="middle" font-family="Liberation Serif" font-size="47" font-weight="normal" transform="translate(2728.6,288) scale(0.816,1)">7</text><text text-anchor="middle" font-family="Liberation Serif" font-size="47" font-weight="normal" transform="translate(2750,288) scale(0.880,1)">:</text><text text-anchor="middle" font-family="Liberation Serif" font-size="47" font-weight="normal" transform="translate(2775.7,288) scale(0.816,1)">2</text><text text-anchor="middle" font-family="Liberation Serif" font-size="47" font-weight="normal" transform="translate(2796.1,288) scale(0.816,1)">2</text><text text-anchor="middle" font-family="Liberation Serif" font-size="47" font-weight="normal" transform="translate(2823.6,288) scale(0.880,1)">(</text><text font-family="'Liberation Serif','Noto Serif CJK SC',serif" font-size="45" transform="translate(2834.3,288) scale(0.88,1)" y="0" x="0 47.95 95.91">北京时</text><text text-anchor="middle" font-family="Liberation Serif" font-size="47" font-weight="normal" transform="translate(2974,288) scale(0.880,1)">)</text>
<text font-family="'Liberation Serif','Noto Serif CJK SC',serif" font-size="45" transform="translate(2219.2,378.5) scale(0.88,1)" y="0" x="0 44.2 88.41 132.61 176.82">台风眼位置</text><text text-anchor="middle" font-family="Liberation Serif" font-size="47" font-weight="normal" transform="translate(2422,378) scale(0.880,1)">:</text><text text-anchor="middle" font-family="Liberation Serif" font-size="47" font-weight="normal" transform="translate(2489.7,379) scale(0.816,1)">1</text><text text-anchor="middle" font-family="Liberation Serif" font-size="47" font-weight="normal" transform="translate(2510.1,379) scale(0.816,1)">3</text><text text-anchor="middle" font-family="Liberation Serif" font-size="47" font-weight="normal" transform="translate(2530.5,379) scale(0.816,1)">1</text><text text-anchor="middle" font-family="Liberation Serif" font-size="37.6" font-weight="normal" transform="translate(2555,371) scale(1.000,1)">°</text><text text-anchor="middle" font-family="Liberation Serif" font-size="47" font-weight="normal" transform="translate(2599.7,379) scale(0.816,1)">3</text><text text-anchor="middle" font-family="Liberation Serif" font-size="47" font-weight="normal" transform="translate(2620.1,379) scale(0.816,1)">6</text><text text-anchor="middle" font-family="Liberation Serif" font-size="47" font-weight="normal" transform="translate(2642,379) scale(1.000,1)">′</text><text text-anchor="middle" font-family="Liberation Serif" font-size="47" font-weight="normal" transform="translate(2688.9,379) scale(0.816,1)">3</text><text text-anchor="middle" font-family="Liberation Serif" font-size="47" font-weight="normal" transform="translate(2714.5,379) scale(1.000,1)">″</text><text text-anchor="middle" font-family="Liberation Serif" font-size="47" font-weight="normal" transform="translate(2755,379) scale(0.700,1)">E</text>
<text text-anchor="middle" font-family="Liberation Serif" font-size="47" font-weight="normal" transform="translate(2489.7,448.4) scale(0.816,1)">1</text><text text-anchor="middle" font-family="Liberation Serif" font-size="47" font-weight="normal" transform="translate(2510.1,448.4) scale(0.816,1)">7</text><text text-anchor="middle" font-family="Liberation Serif" font-size="37.6" font-weight="normal" transform="translate(2533,440.4) scale(1.000,1)">°</text><text text-anchor="middle" font-family="Liberation Serif" font-size="47" font-weight="normal" transform="translate(2576.2,448.4) scale(0.816,1)">3</text><text text-anchor="middle" font-family="Liberation Serif" font-size="47" font-weight="normal" transform="translate(2596.6,448.4) scale(0.816,1)">9</text><text text-anchor="middle" font-family="Liberation Serif" font-size="47" font-weight="normal" transform="translate(2620,448.4) scale(1.000,1)">′</text><text text-anchor="middle" font-family="Liberation Serif" font-size="47" font-weight="normal" transform="translate(2665.7,448.4) scale(0.816,1)">4</text><text text-anchor="middle" font-family="Liberation Serif" font-size="47" font-weight="normal" transform="translate(2686.1,448.4) scale(0.816,1)">8</text><text text-anchor="middle" font-family="Liberation Serif" font-size="47" font-weight="normal" transform="translate(2714.5,448.4) scale(1.000,1)">″</text><text text-anchor="middle" font-family="Liberation Serif" font-size="47" font-weight="normal" transform="translate(2755,448.4) scale(0.620,1)">N</text>
<text font-family="'Liberation Serif','Noto Serif CJK SC',serif" font-size="45" transform="translate(2218.7,526) scale(0.88,1)" y="0" x="0 44.2 88.41 132.61 176.82">十级风半径</text><text text-anchor="middle" font-family="Liberation Serif" font-size="47" font-weight="normal" transform="translate(2422,526) scale(0.880,1)">:</text>
<text font-family="'Liberation Serif','Noto Serif CJK SC',serif" font-size="45" transform="translate(2218.7,668.5) scale(0.88,1)" y="0" x="0 44.2 88.41 132.61 176.82">七级风半径</text><text text-anchor="middle" font-family="Liberation Serif" font-size="47" font-weight="normal" transform="translate(2422,668.5) scale(0.880,1)">:</text>
<path d="M2479,508.8h18.5M2671.5,508.8h18.5" stroke="#000" stroke-width="1.3"/>
<path d="M2479,579h18.5M2671.5,579h18.5" stroke="#000" stroke-width="1.3"/>
<path d="M2479,655.8h18.5M2671.5,655.8h18.5" stroke="#000" stroke-width="1.3"/>
<path d="M2479,722.7h18.5M2671.5,722.7h18.5" stroke="#000" stroke-width="1.3"/>
<text text-anchor="middle" font-family="Liberation Serif" font-size="44" font-weight="normal" transform="translate(2312,578) scale(0.880,1)">(</text><text text-anchor="middle" font-family="Liberation Serif" font-size="43.5" font-weight="normal" transform="translate(2330.8,578) scale(0.600,1)">K</text><text text-anchor="middle" font-family="Liberation Serif" font-size="43.5" font-weight="normal" transform="translate(2350.4,578) scale(0.500,1)">M</text><text text-anchor="middle" font-family="Liberation Serif" font-size="44" font-weight="normal" transform="translate(2367.3,578) scale(0.880,1)">)</text>
<text text-anchor="middle" font-family="Liberation Serif" font-size="44" font-weight="normal" transform="translate(2312,720) scale(0.880,1)">(</text><text text-anchor="middle" font-family="Liberation Serif" font-size="43.5" font-weight="normal" transform="translate(2330.8,720) scale(0.600,1)">K</text><text text-anchor="middle" font-family="Liberation Serif" font-size="43.5" font-weight="normal" transform="translate(2350.4,720) scale(0.500,1)">M</text><text text-anchor="middle" font-family="Liberation Serif" font-size="44" font-weight="normal" transform="translate(2367.3,720) scale(0.880,1)">)</text>
<text font-family="'Liberation Serif','Noto Serif CJK SC',serif" font-size="45" transform="translate(2217.7,814.5) scale(0.88,1)" y="0" x="0 44.2 88.41 132.61 176.82">最大风速值</text><text text-anchor="middle" font-family="Liberation Serif" font-size="47" font-weight="normal" transform="translate(2422,814.5) scale(0.880,1)">:</text><text text-anchor="middle" font-family="Liberation Serif" font-size="47" font-weight="normal" transform="translate(2495.5,811) scale(0.840,1)">1</text><text text-anchor="middle" font-family="Liberation Serif" font-size="47" font-weight="normal" transform="translate(2516.5,811) scale(0.840,1)">4</text><text text-anchor="middle" font-family="Liberation Serif" font-size="47" font-weight="normal" transform="translate(2537.5,811) scale(0.880,1)">.</text><text text-anchor="middle" font-family="Liberation Serif" font-size="47" font-weight="normal" transform="translate(2558.5,811) scale(0.840,1)">9</text><text text-anchor="middle" font-family="Liberation Serif" font-size="47" font-weight="normal" transform="translate(2615.7,811) scale(0.880,1)">(</text><text text-anchor="middle" font-family="Liberation Serif" font-size="47" font-weight="normal" transform="translate(2635,811) scale(0.520,1)">m</text><text text-anchor="middle" font-family="Liberation Serif" font-size="47" font-weight="normal" transform="translate(2655.6,811) scale(0.880,1)">/</text><text text-anchor="middle" font-family="Liberation Serif" font-size="47" font-weight="normal" transform="translate(2675,811) scale(0.880,1)">s</text><text text-anchor="middle" font-family="Liberation Serif" font-size="47" font-weight="normal" transform="translate(2692,811) scale(0.880,1)">)</text>
<rect x="2399" y="1667.2" width="55" height="13.4" fill="#ffffff"/>
<rect x="2399" y="1654.4" width="55" height="13.4" fill="#dfdfff"/>
<rect x="2399" y="1641.5" width="55" height="13.4" fill="#bebeff"/>
<rect x="2399" y="1628.7" width="55" height="13.4" fill="#9e9eff"/>
<rect x="2399" y="1615.9" width="55" height="13.4" fill="#7d7dff"/>
<rect x="2399" y="1603.1" width="55" height="13.4" fill="#5d5dff"/>
<rect x="2399" y="1590.3" width="55" height="13.4" fill="#3d3dff"/>
<rect x="2399" y="1577.4" width="55" height="13.4" fill="#1c1cff"/>
<rect x="2399" y="1564.6" width="55" height="13.4" fill="#0002ff"/>
<rect x="2399" y="1551.8" width="55" height="13.4" fill="#0012ff"/>
<rect x="2399" y="1539" width="55" height="13.4" fill="#0022ff"/>
<rect x="2399" y="1526.2" width="55" height="13.4" fill="#0033ff"/>
<rect x="2399" y="1513.3" width="55" height="13.4" fill="#0043ff"/>
<rect x="2399" y="1500.5" width="55" height="13.4" fill="#0053ff"/>
<rect x="2399" y="1487.7" width="55" height="13.4" fill="#0063ff"/>
<rect x="2399" y="1474.9" width="55" height="13.4" fill="#0073ff"/>
<rect x="2399" y="1462.1" width="55" height="13.4" fill="#0084ff"/>
<rect x="2399" y="1449.2" width="55" height="13.4" fill="#0094ff"/>
<rect x="2399" y="1436.4" width="55" height="13.4" fill="#00a4ff"/>
<rect x="2399" y="1423.6" width="55" height="13.4" fill="#00b4ff"/>
<rect x="2399" y="1410.8" width="55" height="13.4" fill="#00c4ff"/>
<rect x="2399" y="1398" width="55" height="13.4" fill="#00d4ff"/>
<rect x="2399" y="1385.1" width="55" height="13.4" fill="#00e5ff"/>
<rect x="2399" y="1372.3" width="55" height="13.4" fill="#00f5ff"/>
<rect x="2399" y="1359.5" width="55" height="13.4" fill="#06fff9"/>
<rect x="2399" y="1346.7" width="55" height="13.4" fill="#16ffe9"/>
<rect x="2399" y="1333.9" width="55" height="13.4" fill="#26ffd9"/>
<rect x="2399" y="1321" width="55" height="13.4" fill="#37ffc8"/>
<rect x="2399" y="1308.2" width="55" height="13.4" fill="#47ffb8"/>
<rect x="2399" y="1295.4" width="55" height="13.4" fill="#57ffa8"/>
<rect x="2399" y="1282.6" width="55" height="13.4" fill="#67ff98"/>
<rect x="2399" y="1269.8" width="55" height="13.4" fill="#77ff88"/>
<rect x="2399" y="1256.9" width="55" height="13.4" fill="#88ff77"/>
<rect x="2399" y="1244.1" width="55" height="13.4" fill="#98ff67"/>
<rect x="2399" y="1231.3" width="55" height="13.4" fill="#a8ff57"/>
<rect x="2399" y="1218.5" width="55" height="13.4" fill="#b8ff47"/>
<rect x="2399" y="1205.6" width="55" height="13.4" fill="#c8ff37"/>
<rect x="2399" y="1192.8" width="55" height="13.4" fill="#d9ff26"/>
<rect x="2399" y="1180" width="55" height="13.4" fill="#e9ff16"/>
<rect x="2399" y="1167.2" width="55" height="13.4" fill="#f9ff06"/>
<rect x="2399" y="1154.4" width="55" height="13.4" fill="#fff500"/>
<rect x="2399" y="1141.5" width="55" height="13.4" fill="#ffe500"/>
<rect x="2399" y="1128.7" width="55" height="13.4" fill="#ffd500"/>
<rect x="2399" y="1115.9" width="55" height="13.4" fill="#ffc400"/>
<rect x="2399" y="1103.1" width="55" height="13.4" fill="#ffb400"/>
<rect x="2399" y="1090.3" width="55" height="13.4" fill="#ffa400"/>
<rect x="2399" y="1077.4" width="55" height="13.4" fill="#ff9400"/>
<rect x="2399" y="1064.6" width="55" height="13.4" fill="#ff8400"/>
<rect x="2399" y="1051.8" width="55" height="13.4" fill="#ff7300"/>
<rect x="2399" y="1039" width="55" height="13.4" fill="#ff6300"/>
<rect x="2399" y="1026.2" width="55" height="13.4" fill="#ff5300"/>
<rect x="2399" y="1013.3" width="55" height="13.4" fill="#ff4300"/>
<rect x="2399" y="1000.5" width="55" height="13.4" fill="#ff3300"/>
<rect x="2399" y="987.7" width="55" height="13.4" fill="#ff2200"/>
<rect x="2399" y="974.9" width="55" height="13.4" fill="#ff1200"/>
<rect x="2399" y="962.1" width="55" height="13.4" fill="#ff0200"/>
<rect x="2399" y="949.2" width="55" height="13.4" fill="#f10000"/>
<rect x="2399" y="936.4" width="55" height="13.4" fill="#e10000"/>
<rect x="2399" y="923.6" width="55" height="13.4" fill="#d00000"/>
<rect x="2399" y="910.8" width="55" height="13.4" fill="#c00000"/>
<rect x="2399" y="898" width="55" height="13.4" fill="#b00000"/>
<rect x="2399" y="885.1" width="55" height="13.4" fill="#a00000"/>
<rect x="2399" y="872.3" width="55" height="13.4" fill="#900000"/>
<rect x="2399" y="859.5" width="55" height="13.4" fill="#800000"/>
<rect x="2398.7" y="859.5" width="55.3" height="820.5" fill="none" stroke="#000" stroke-width="1.5"/>
<text font-family="'Liberation Serif','Noto Serif CJK SC',serif" font-size="56" x="2483" y="911.7">≥</text><text text-anchor="middle" font-family="Liberation Serif" font-size="47" font-weight="normal" transform="translate(2529.2,908.7) scale(0.784,1)">2</text><text text-anchor="middle" font-family="Liberation Serif" font-size="47" font-weight="normal" transform="translate(2548.8,908.7) scale(0.784,1)">4</text><text text-anchor="middle" font-family="Liberation Serif" font-size="47" font-weight="normal" transform="translate(2576.8,908.7) scale(0.880,1)">(</text><text text-anchor="middle" font-family="Liberation Serif" font-size="47" font-weight="normal" transform="translate(2594,908.7) scale(0.520,1)">m</text><text text-anchor="middle" font-family="Liberation Serif" font-size="47" font-weight="normal" transform="translate(2615,908.7) scale(0.880,1)">/</text><text text-anchor="middle" font-family="Liberation Serif" font-size="47" font-weight="normal" transform="translate(2637,908.7) scale(0.880,1)">s</text><text text-anchor="middle" font-family="Liberation Serif" font-size="47" font-weight="normal" transform="translate(2655.5,908.7) scale(0.880,1)">)</text>
<text text-anchor="middle" font-family="Liberation Serif" font-size="47" font-weight="normal" transform="translate(2489.2,1005) scale(0.816,1)">2</text><text text-anchor="middle" font-family="Liberation Serif" font-size="47" font-weight="normal" transform="translate(2509.6,1005) scale(0.816,1)">1</text>
<text text-anchor="middle" font-family="Liberation Serif" font-size="47" font-weight="normal" transform="translate(2489.2,1099) scale(0.816,1)">1</text><text text-anchor="middle" font-family="Liberation Serif" font-size="47" font-weight="normal" transform="translate(2509.6,1099) scale(0.816,1)">8</text>
<text text-anchor="middle" font-family="Liberation Serif" font-size="47" font-weight="normal" transform="translate(2489.2,1195) scale(0.816,1)">1</text><text text-anchor="middle" font-family="Liberation Serif" font-size="47" font-weight="normal" transform="translate(2509.6,1195) scale(0.816,1)">5</text>
<text text-anchor="middle" font-family="Liberation Serif" font-size="47" font-weight="normal" transform="translate(2489.2,1307.5) scale(0.816,1)">1</text><text text-anchor="middle" font-family="Liberation Serif" font-size="47" font-weight="normal" transform="translate(2509.6,1307.5) scale(0.816,1)">2</text>
<text text-anchor="middle" font-family="Liberation Serif" font-size="47" font-weight="normal" transform="translate(2497.2,1404.5) scale(0.816,1)">9</text>
<text text-anchor="middle" font-family="Liberation Serif" font-size="47" font-weight="normal" transform="translate(2497.2,1503) scale(0.816,1)">6</text>
<text text-anchor="middle" font-family="Liberation Serif" font-size="47" font-weight="normal" transform="translate(2497.2,1605.5) scale(0.816,1)">3</text>
<text text-anchor="middle" font-family="Liberation Serif" font-size="47" font-weight="normal" transform="translate(2497.2,1693) scale(0.816,1)">0</text>
<text font-family="'Liberation Serif','Noto Serif CJK SC',serif" font-size="42" y="1762" x="2281.3 2346.9 2412.4">坐标系</text><text text-anchor="middle" font-family="Liberation Serif" font-size="47" font-weight="normal" transform="translate(2465,1762) scale(0.880,1)">:</text><text text-anchor="middle" font-family="Liberation Serif" font-size="47" font-weight="normal" transform="translate(2533.3,1760.8) scale(0.681,1)">C</text><text text-anchor="middle" font-family="Liberation Serif" font-size="47" font-weight="normal" transform="translate(2556,1760.8) scale(0.629,1)">G</text><text text-anchor="middle" font-family="Liberation Serif" font-size="47" font-weight="normal" transform="translate(2578.7,1760.8) scale(0.681,1)">C</text><text text-anchor="middle" font-family="Liberation Serif" font-size="47" font-weight="normal" transform="translate(2601.4,1760.8) scale(0.816,1)">S</text><text text-anchor="middle" font-family="Liberation Serif" font-size="47" font-weight="normal" transform="translate(2624.1,1760.8) scale(0.880,1)">2</text><text text-anchor="middle" font-family="Liberation Serif" font-size="47" font-weight="normal" transform="translate(2646.8,1760.8) scale(0.880,1)">0</text><text text-anchor="middle" font-family="Liberation Serif" font-size="47" font-weight="normal" transform="translate(2669.5,1760.8) scale(0.880,1)">0</text><text text-anchor="middle" font-family="Liberation Serif" font-size="47" font-weight="normal" transform="translate(2692.2,1760.8) scale(0.880,1)">0</text>
<text font-family="'Liberation Serif','Noto Serif CJK SC',serif" font-size="42" y="1835.5" x="2281.3 2346.9 2412.4">比例尺</text><text text-anchor="middle" font-family="Liberation Serif" font-size="47" font-weight="normal" transform="translate(2465,1835.5) scale(0.880,1)">:</text><text text-anchor="middle" font-family="Liberation Serif" font-size="47" font-weight="normal" transform="translate(2532,1834) scale(0.880,1)">1</text><text text-anchor="middle" font-family="Liberation Serif" font-size="47" font-weight="normal" transform="translate(2553,1834) scale(0.880,1)">:</text><text text-anchor="middle" font-family="Liberation Serif" font-size="47" font-weight="normal" transform="translate(2601.9,1834) scale(0.880,1)">2</text><text text-anchor="middle" font-family="Liberation Serif" font-size="47" font-weight="normal" transform="translate(2624.5,1834) scale(0.880,1)">2</text><text text-anchor="middle" font-family="Liberation Serif" font-size="47" font-weight="normal" transform="translate(2647.1,1834) scale(0.880,1)">,</text><text text-anchor="middle" font-family="Liberation Serif" font-size="47" font-weight="normal" transform="translate(2669.7,1834) scale(0.880,1)">1</text><text text-anchor="middle" font-family="Liberation Serif" font-size="47" font-weight="normal" transform="translate(2692.3,1834) scale(0.880,1)">3</text><text text-anchor="middle" font-family="Liberation Serif" font-size="47" font-weight="normal" transform="translate(2714.9,1834) scale(0.880,1)">8</text><text text-anchor="middle" font-family="Liberation Serif" font-size="47" font-weight="normal" transform="translate(2737.5,1834) scale(0.880,1)">,</text><text text-anchor="middle" font-family="Liberation Serif" font-size="47" font-weight="normal" transform="translate(2760.1,1834) scale(0.880,1)">0</text><text text-anchor="middle" font-family="Liberation Serif" font-size="47" font-weight="normal" transform="translate(2782.7,1834) scale(0.880,1)">0</text><text text-anchor="middle" font-family="Liberation Serif" font-size="47" font-weight="normal" transform="translate(2805.3,1834) scale(0.880,1)">0</text>
<text font-family="'Liberation Serif','Noto Serif CJK SC',serif" font-size="39" transform="translate(2289.3,1915.5) scale(0.9308,1)" y="0" x="0 40.72 81.44 122.16">卫星名称</text><text text-anchor="middle" font-family="Liberation Serif" font-size="44" font-weight="normal" transform="translate(2447,1915.5) scale(0.880,1)">:</text><text text-anchor="middle" font-family="Liberation Serif" font-size="43" font-weight="normal" transform="translate(2510.9,1915.2) scale(0.660,1)">H</text><text text-anchor="middle" font-family="Liberation Serif" font-size="43" font-weight="normal" transform="translate(2532.7,1915.2) scale(0.660,1)">Y</text><text text-anchor="middle" font-family="Liberation Serif" font-size="43" font-weight="normal" transform="translate(2554.5,1915.2) scale(0.880,1)">-</text><text text-anchor="middle" font-family="Liberation Serif" font-size="43" font-weight="normal" transform="translate(2576.3,1915.2) scale(0.880,1)">2</text><text text-anchor="middle" font-family="Liberation Serif" font-size="43" font-weight="normal" transform="translate(2598.1,1915.2) scale(0.660,1)">D</text>
<text font-family="'Liberation Serif','Noto Serif CJK SC',serif" font-size="42" transform="translate(2287.7,1994) scale(0.8595,1)" y="0" x="0 67.13 134.38">传感器</text><text text-anchor="middle" font-family="Liberation Serif" font-size="44" font-weight="normal" transform="translate(2447,1994) scale(0.880,1)">:</text><text text-anchor="middle" font-family="Liberation Serif" font-size="43" font-weight="normal" transform="translate(2509.1,1994) scale(0.825,1)">S</text><text text-anchor="middle" font-family="Liberation Serif" font-size="43" font-weight="normal" transform="translate(2530.1,1994) scale(0.688,1)">C</text><text text-anchor="middle" font-family="Liberation Serif" font-size="43" font-weight="normal" transform="translate(2551.1,1994) scale(0.636,1)">A</text>
<text font-family="'Liberation Serif','Noto Serif CJK SC',serif" font-size="43" transform="translate(2287.3,2073) scale(0.8605,1)" y="0" x="0 67.05 134.22">轨道号</text><text text-anchor="middle" font-family="Liberation Serif" font-size="44" font-weight="normal" transform="translate(2447,2073) scale(0.880,1)">:</text><text text-anchor="middle" font-family="Liberation Serif" font-size="46" font-weight="normal" transform="translate(2512.3,2072) scale(0.871,1)">6</text><text text-anchor="middle" font-family="Liberation Serif" font-size="46" font-weight="normal" transform="translate(2533.7,2072) scale(0.871,1)">4</text><text text-anchor="middle" font-family="Liberation Serif" font-size="46" font-weight="normal" transform="translate(2555,2072) scale(0.871,1)">7</text><text text-anchor="middle" font-family="Liberation Serif" font-size="46" font-weight="normal" transform="translate(2576.3,2072) scale(0.871,1)">5</text>
<text font-family="'Liberation Serif','Noto Serif CJK SC',serif" font-size="45" transform="translate(219.1,2069) scale(0.9511,1)" y="0" x="0 47.21 94.42 141.62 188.83 236.04 283.25 330.46 377.66 424.87 472.08 519.29 566.5 613.7 660.91">制图单位:国家卫星海洋应用中心</text>
<text font-family="'Liberation Serif','Noto Serif CJK SC',serif" font-size="45" transform="translate(986.6,2069) scale(0.84,1)" y="0" x="0 46.43 92.86 139.29 185.71">制图时间:</text>
<text text-anchor="middle" font-family="Liberation Serif" font-size="46" font-weight="normal" transform="translate(1215.2,2067.7) scale(0.880,1)">2</text><text text-anchor="middle" font-family="Liberation Serif" font-size="46" font-weight="normal" transform="translate(1237.6,2067.7) scale(0.880,1)">0</text><text text-anchor="middle" font-family="Liberation Serif" font-size="46" font-weight="normal" transform="translate(1260,2067.7) scale(0.880,1)">2</text><text text-anchor="middle" font-family="Liberation Serif" font-size="46" font-weight="normal" transform="translate(1282.4,2067.7) scale(0.880,1)">2</text><text font-family="'Liberation Serif','Noto Serif CJK SC',serif" font-size="45" transform="translate(1292.6,2069) scale(0.9289,1)">年</text><text text-anchor="middle" font-family="Liberation Serif" font-size="46" font-weight="normal" transform="translate(1347.9,2067.7) scale(0.880,1)">0</text><text text-anchor="middle" font-family="Liberation Serif" font-size="46" font-weight="normal" transform="translate(1370.3,2067.7) scale(0.880,1)">9</text><text font-family="'Liberation Serif','Noto Serif CJK SC',serif" font-size="45" transform="translate(1382.2,2069) scale(0.9,1)">月</text><text text-anchor="middle" font-family="Liberation Serif" font-size="46" font-weight="normal" transform="translate(1435.2,2067.7) scale(0.880,1)">0</text><text text-anchor="middle" font-family="Liberation Serif" font-size="46" font-weight="normal" transform="translate(1457.6,2067.7) scale(0.880,1)">8</text><text font-family="'Liberation Serif','Noto Serif CJK SC',serif" font-size="45" transform="translate(1473.2,2069) scale(0.9,1)">日</text>
<g transform="translate(20,1960) scale(0.08873)"><defs><clipPath id="lgin"><circle cx="940" cy="750" r="505"/></clipPath><clipPath id="lgout" clip-rule="evenodd"><path d="M0 0H2254V1623H0ZM940 100A650 650 0 1 0 940.1 100Z" clip-rule="evenodd"/></clipPath></defs><g clip-path="url(#lgout)"><ellipse cx="965" cy="720" rx="841" ry="225" transform="rotate(-20.2 965 720)" fill="none" stroke="#d23a3a" stroke-width="13"/></g><circle cx="940" cy="750" r="640" fill="#fff" stroke="#2b6d92" stroke-width="11"/><circle cx="940" cy="750" r="575" fill="none" stroke="#2b6d92" stroke-width="58" stroke-dasharray="14 30 22 26 10 34 18 28" opacity="0.6"/><circle cx="940" cy="750" r="510" fill="#fff" stroke="#2b6d92" stroke-width="15"/><g clip-path="url(#lgin)" fill="none" stroke="#2b6d92" stroke-width="13"><path d="M940 240V980M435 750H1450"/><ellipse cx="940" cy="750" rx="255" ry="510"/><path d="M575 395Q940 640 1310 400"/><path d="M830 245Q940 330 1040 240"/><path d="M870 290L750 480M1000 290L1130 400"/><g stroke="none" fill="#1b8fd2"><path d="M430 760C600 690 760 700 880 790C980 870 1040 960 1160 960C1290 960 1380 870 1460 760L1460 830C1380 950 1290 1030 1160 1030C1030 1030 960 940 870 860C760 770 600 760 440 830Z"/><path d="M440 890C600 810 760 820 870 910C960 990 1030 1080 1160 1085C1290 1085 1390 990 1450 900L1440 980C1380 1070 1290 1150 1160 1150C1020 1150 950 1060 860 980C760 890 600 890 460 960Z"/><path d="M480 1020C620 940 760 950 860 1040C950 1120 1020 1200 1160 1205C1270 1205 1360 1130 1420 1060C1380 1200 1200 1290 940 1290C700 1290 540 1180 480 1020Z"/></g></g><g transform="rotate(-16 900 490)"><rect x="570" y="455" width="270" height="95" fill="#2380b8" stroke="#2b6d92" stroke-width="8"/><rect x="985" y="455" width="270" height="95" fill="#2380b8" stroke="#2b6d92" stroke-width="8"/><rect x="850" y="440" width="120" height="120" fill="#fff" stroke="#2b6d92" stroke-width="9" transform="rotate(12 910 500)"/></g><path d="M1754 429L1758 453L1753 479L1739 509L1717 540L1687 574L1649 609L1603 645L1550 682L1491 720L1426 757L1357 794L1282 831L1205 866L1124 899L1042 931L959 960L876 986L794 1010L714 1031L637 1048L563 1061L494 1071L430 1077L372 1079L320 1077L275 1071L238 1061L209 1047L188 1030L175 1010" fill="none" stroke="#d23a3a" stroke-width="13"/><circle cx="1655" cy="357" r="24" fill="#d23a3a"/></g>
</svg><div id="bd"></div></body></html>
